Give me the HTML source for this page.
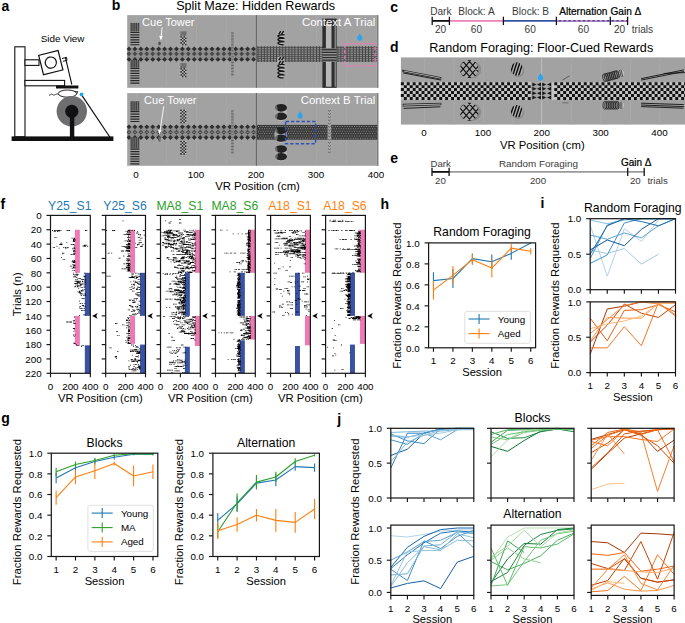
<!DOCTYPE html>
<html><head><meta charset="utf-8"><style>
html,body{margin:0;padding:0;background:#fff;}
body{width:685px;height:623px;overflow:hidden;}
svg{display:block;}
svg text{font-family:"Liberation Sans", sans-serif;}
</style></head><body>
<svg width="685" height="623" viewBox="0 0 685 623">
<rect width="685" height="623" fill="#fff"/>
<text x="1.60" y="10.60" font-size="14" text-anchor="start" fill="#000" font-weight="bold">a</text>
<text x="111.80" y="10.40" font-size="14" text-anchor="start" fill="#000" font-weight="bold">b</text>
<text x="390.20" y="12.00" font-size="14" text-anchor="start" fill="#000" font-weight="bold">c</text>
<text x="390.00" y="52.00" font-size="14" text-anchor="start" fill="#000" font-weight="bold">d</text>
<text x="390.20" y="163.30" font-size="14" text-anchor="start" fill="#000" font-weight="bold">e</text>
<text x="0.40" y="208.70" font-size="14" text-anchor="start" fill="#000" font-weight="bold">f</text>
<text x="1.20" y="423.30" font-size="14" text-anchor="start" fill="#000" font-weight="bold">g</text>
<text x="380.60" y="209.00" font-size="14" text-anchor="start" fill="#000" font-weight="bold">h</text>
<text x="540.40" y="208.30" font-size="14" text-anchor="start" fill="#000" font-weight="bold">i</text>
<text x="337.20" y="424.20" font-size="14" text-anchor="start" fill="#000" font-weight="bold">j</text>
<text x="62.60" y="41.60" font-size="9.9" text-anchor="middle" fill="#000" font-weight="normal">Side View</text>
<rect x="14.80" y="46.80" width="10.20" height="90.00" fill="#fff" stroke="#111" stroke-width="1.1"/>
<rect x="25.00" y="59.80" width="14.00" height="5.60" fill="#fff" stroke="#111" stroke-width="1.1"/>
<g transform="rotate(-14 50.8 62.6)"><rect x="40.8" y="52.6" width="20" height="20" fill="#fff" stroke="#111" stroke-width="1.2"/><circle cx="50.8" cy="62.6" r="5.6" fill="#fff" stroke="#111" stroke-width="1.2"/></g>
<path d="M62 58.5 L66.5 57.3 L67 60.3 L63 61.3" fill="none" stroke="#111" stroke-width="1"/>
<line x1="65.50" y1="57.80" x2="71.80" y2="84.50" stroke="#111" stroke-width="1.1"/>
<rect x="25.00" y="80.40" width="39.60" height="5.40" fill="#fff" stroke="#111" stroke-width="1.1"/>
<rect x="56.00" y="85.50" width="22.40" height="3.00" fill="#111"/>
<ellipse cx="67.5" cy="93.6" rx="9.2" ry="3.6" fill="#fff" stroke="#111" stroke-width="0.9"/>
<path d="M58.5 94.5 C56 92.5 55 96.5 52.5 94.5 C51 93.3 50.5 95.5 49 95.2" fill="none" stroke="#111" stroke-width="0.8"/>
<path d="M74 91.5 L78 91.8 L76.5 93.8" fill="none" stroke="#111" stroke-width="0.8"/>
<circle cx="71.8" cy="111.3" r="15.2" fill="#6e6e70"/>
<circle cx="71.8" cy="111.3" r="6.6" fill="#111"/>
<rect x="69.90" y="111.00" width="4.40" height="26.00" fill="#111"/>
<line x1="81.40" y1="94.60" x2="109.80" y2="137.00" stroke="#111" stroke-width="1.2"/>
<circle cx="81.6" cy="94.4" r="1.9" fill="#1aa6e8"/>
<rect x="11.60" y="136.40" width="101.80" height="4.60" fill="#111"/>
<text x="255.60" y="10.00" font-size="12.6" text-anchor="middle" fill="#000" font-weight="normal">Split Maze: Hidden Rewards</text>
<rect x="127.20" y="15.10" width="251.10" height="72.70" fill="#a2a2a2"/>
<rect x="136.00" y="15.10" width="0.70" height="72.70" fill="#a9a9a9"/>
<rect x="166.00" y="15.10" width="0.70" height="72.70" fill="#a9a9a9"/>
<rect x="196.00" y="15.10" width="0.70" height="72.70" fill="#a9a9a9"/>
<rect x="226.00" y="15.10" width="0.70" height="72.70" fill="#a9a9a9"/>
<rect x="256.00" y="15.10" width="0.70" height="72.70" fill="#a9a9a9"/>
<rect x="286.00" y="15.10" width="0.70" height="72.70" fill="#a9a9a9"/>
<rect x="316.00" y="15.10" width="0.70" height="72.70" fill="#a9a9a9"/>
<rect x="346.00" y="15.10" width="0.70" height="72.70" fill="#a9a9a9"/>
<rect x="376.00" y="15.10" width="0.70" height="72.70" fill="#a9a9a9"/>
<rect x="377.30" y="15.10" width="1.00" height="72.70" fill="#707070"/>
<rect x="127.20" y="48.30" width="128.80" height="11.70" fill="#8e8e8e"/>
<path fill="#2e2e2e" d="M126.60 48.90L129.00 46.50L131.40 48.90L129.00 51.30zM132.53 48.90L134.93 46.50L137.33 48.90L134.93 51.30zM138.46 48.90L140.86 46.50L143.26 48.90L140.86 51.30zM144.39 48.90L146.79 46.50L149.19 48.90L146.79 51.30zM150.32 48.90L152.72 46.50L155.12 48.90L152.72 51.30zM156.25 48.90L158.65 46.50L161.05 48.90L158.65 51.30zM162.18 48.90L164.58 46.50L166.98 48.90L164.58 51.30zM168.11 48.90L170.51 46.50L172.91 48.90L170.51 51.30zM174.04 48.90L176.44 46.50L178.84 48.90L176.44 51.30zM179.97 48.90L182.37 46.50L184.77 48.90L182.37 51.30zM185.90 48.90L188.30 46.50L190.70 48.90L188.30 51.30zM191.83 48.90L194.23 46.50L196.63 48.90L194.23 51.30zM197.76 48.90L200.16 46.50L202.56 48.90L200.16 51.30zM203.69 48.90L206.09 46.50L208.49 48.90L206.09 51.30zM209.62 48.90L212.02 46.50L214.42 48.90L212.02 51.30zM215.55 48.90L217.95 46.50L220.35 48.90L217.95 51.30zM221.48 48.90L223.88 46.50L226.28 48.90L223.88 51.30zM227.41 48.90L229.81 46.50L232.21 48.90L229.81 51.30zM233.34 48.90L235.74 46.50L238.14 48.90L235.74 51.30zM239.27 48.90L241.67 46.50L244.07 48.90L241.67 51.30zM245.20 48.90L247.60 46.50L250.00 48.90L247.60 51.30zM251.13 48.90L253.53 46.50L255.93 48.90L253.53 51.30zM126.60 59.40L129.00 57.00L131.40 59.40L129.00 61.80zM132.53 59.40L134.93 57.00L137.33 59.40L134.93 61.80zM138.46 59.40L140.86 57.00L143.26 59.40L140.86 61.80zM144.39 59.40L146.79 57.00L149.19 59.40L146.79 61.80zM150.32 59.40L152.72 57.00L155.12 59.40L152.72 61.80zM156.25 59.40L158.65 57.00L161.05 59.40L158.65 61.80zM162.18 59.40L164.58 57.00L166.98 59.40L164.58 61.80zM168.11 59.40L170.51 57.00L172.91 59.40L170.51 61.80zM174.04 59.40L176.44 57.00L178.84 59.40L176.44 61.80zM179.97 59.40L182.37 57.00L184.77 59.40L182.37 61.80zM185.90 59.40L188.30 57.00L190.70 59.40L188.30 61.80zM191.83 59.40L194.23 57.00L196.63 59.40L194.23 61.80zM197.76 59.40L200.16 57.00L202.56 59.40L200.16 61.80zM203.69 59.40L206.09 57.00L208.49 59.40L206.09 61.80zM209.62 59.40L212.02 57.00L214.42 59.40L212.02 61.80zM215.55 59.40L217.95 57.00L220.35 59.40L217.95 61.80zM221.48 59.40L223.88 57.00L226.28 59.40L223.88 61.80zM227.41 59.40L229.81 57.00L232.21 59.40L229.81 61.80zM233.34 59.40L235.74 57.00L238.14 59.40L235.74 61.80zM239.27 59.40L241.67 57.00L244.07 59.40L241.67 61.80zM245.20 59.40L247.60 57.00L250.00 59.40L247.60 61.80zM251.13 59.40L253.53 57.00L255.93 59.40L253.53 61.80z"/>
<path fill="#4a4a4a" d="M126.60 53.80L129.00 51.40L131.40 53.80L129.00 56.20zM132.53 53.80L134.93 51.40L137.33 53.80L134.93 56.20zM138.46 53.80L140.86 51.40L143.26 53.80L140.86 56.20zM144.39 53.80L146.79 51.40L149.19 53.80L146.79 56.20zM150.32 53.80L152.72 51.40L155.12 53.80L152.72 56.20zM156.25 53.80L158.65 51.40L161.05 53.80L158.65 56.20zM162.18 53.80L164.58 51.40L166.98 53.80L164.58 56.20zM168.11 53.80L170.51 51.40L172.91 53.80L170.51 56.20zM174.04 53.80L176.44 51.40L178.84 53.80L176.44 56.20zM179.97 53.80L182.37 51.40L184.77 53.80L182.37 56.20zM185.90 53.80L188.30 51.40L190.70 53.80L188.30 56.20zM191.83 53.80L194.23 51.40L196.63 53.80L194.23 56.20zM197.76 53.80L200.16 51.40L202.56 53.80L200.16 56.20zM203.69 53.80L206.09 51.40L208.49 53.80L206.09 56.20zM209.62 53.80L212.02 51.40L214.42 53.80L212.02 56.20zM215.55 53.80L217.95 51.40L220.35 53.80L217.95 56.20zM221.48 53.80L223.88 51.40L226.28 53.80L223.88 56.20zM227.41 53.80L229.81 51.40L232.21 53.80L229.81 56.20zM233.34 53.80L235.74 51.40L238.14 53.80L235.74 56.20zM239.27 53.80L241.67 51.40L244.07 53.80L241.67 56.20zM245.20 53.80L247.60 51.40L250.00 53.80L247.60 56.20zM251.13 53.80L253.53 51.40L255.93 53.80L253.53 56.20z"/>
<rect x="256.80" y="46.30" width="120.50" height="15.60" fill="#8c8c8c"/>
<path fill="#3c3c3c" d="M257.60 46.30h0.9v15.60h-0.9zM260.90 46.30h0.9v15.60h-0.9zM263.85 46.30h0.9v15.60h-0.9zM266.80 46.30h0.9v15.60h-0.9zM270.10 46.30h0.9v15.60h-0.9zM273.05 46.30h0.9v15.60h-0.9zM276.00 46.30h0.9v15.60h-0.9zM279.30 46.30h0.9v15.60h-0.9zM282.25 46.30h0.9v15.60h-0.9zM285.20 46.30h0.9v15.60h-0.9zM288.50 46.30h0.9v15.60h-0.9zM291.45 46.30h0.9v15.60h-0.9zM294.40 46.30h0.9v15.60h-0.9zM297.70 46.30h0.9v15.60h-0.9zM300.65 46.30h0.9v15.60h-0.9zM303.60 46.30h0.9v15.60h-0.9zM306.90 46.30h0.9v15.60h-0.9zM309.85 46.30h0.9v15.60h-0.9zM312.80 46.30h0.9v15.60h-0.9zM316.10 46.30h0.9v15.60h-0.9zM319.05 46.30h0.9v15.60h-0.9zM322.00 46.30h0.9v15.60h-0.9zM325.30 46.30h0.9v15.60h-0.9zM328.25 46.30h0.9v15.60h-0.9zM331.20 46.30h0.9v15.60h-0.9zM334.50 46.30h0.9v15.60h-0.9zM337.45 46.30h0.9v15.60h-0.9zM340.40 46.30h0.9v15.60h-0.9zM343.70 46.30h0.9v15.60h-0.9zM346.65 46.30h0.9v15.60h-0.9zM349.60 46.30h0.9v15.60h-0.9zM352.90 46.30h0.9v15.60h-0.9zM355.85 46.30h0.9v15.60h-0.9zM358.80 46.30h0.9v15.60h-0.9zM362.10 46.30h0.9v15.60h-0.9zM365.05 46.30h0.9v15.60h-0.9zM368.00 46.30h0.9v15.60h-0.9zM371.30 46.30h0.9v15.60h-0.9zM374.25 46.30h0.9v15.60h-0.9z"/>
<path fill="#4a4a4a" d="M256.8 47.30h120.50v0.75h-120.50zM256.8 49.50h120.50v0.75h-120.50zM256.8 51.70h120.50v0.75h-120.50zM256.8 53.90h120.50v0.75h-120.50zM256.8 56.10h120.50v0.75h-120.50zM256.8 58.30h120.50v0.75h-120.50zM256.8 60.50h120.50v0.75h-120.50z"/>
<rect x="255.90" y="15.10" width="0.90" height="72.70" fill="#5a5a5a"/>
<rect x="130.40" y="22.90" width="9.00" height="8.60" fill="#6f6f6f"/>
<path fill="#3a3a3a" d="M130.80 22.90h0.8v8.60h-0.8zM132.60 22.90h0.8v8.60h-0.8zM134.40 22.90h0.8v8.60h-0.8zM136.20 22.90h0.8v8.60h-0.8zM138.00 22.90h0.8v8.60h-0.8z"/>
<path fill="#262626" d="M130.4 31.90h9.0v1.2h-9.0zM130.4 34.35h9.0v1.2h-9.0zM130.4 36.80h9.0v1.2h-9.0zM130.4 39.25h9.0v1.2h-9.0zM130.4 41.70h9.0v1.2h-9.0zM130.4 44.15h9.0v1.2h-9.0z"/>
<rect x="130.40" y="60.00" width="9.00" height="7.40" fill="#6f6f6f"/>
<path fill="#3a3a3a" d="M130.80 60.00h0.8v7.40h-0.8zM132.60 60.00h0.8v7.40h-0.8zM134.40 60.00h0.8v7.40h-0.8zM136.20 60.00h0.8v7.40h-0.8zM138.00 60.00h0.8v7.40h-0.8z"/>
<path fill="#262626" d="M130.4 67.80h9.0v1.2h-9.0zM130.4 70.25h9.0v1.2h-9.0zM130.4 72.70h9.0v1.2h-9.0zM130.4 75.15h9.0v1.2h-9.0zM130.4 77.60h9.0v1.2h-9.0zM130.4 80.05h9.0v1.2h-9.0zM130.4 82.50h9.0v1.2h-9.0z"/>
<rect x="180.40" y="31.30" width="6.10" height="4.60" fill="#707070"/>
<rect x="180.40" y="35.90" width="6.10" height="9.30" fill="#bdbdbd"/>
<path fill="#2a2a2a" d="M180.40 35.90h1.55v1.55h-1.55zM183.50 35.90h1.55v1.55h-1.55zM181.95 37.45h1.55v1.55h-1.55zM185.05 37.45h1.45v1.55h-1.45zM180.40 39.00h1.55v1.55h-1.55zM183.50 39.00h1.55v1.55h-1.55zM181.95 40.55h1.55v1.55h-1.55zM185.05 40.55h1.45v1.55h-1.45zM180.40 42.10h1.55v1.55h-1.55zM183.50 42.10h1.55v1.55h-1.55zM181.95 43.65h1.55v1.55h-1.55zM185.05 43.65h1.45v1.55h-1.45z"/>
<rect x="180.40" y="63.10" width="6.10" height="4.90" fill="#707070"/>
<rect x="180.40" y="68.00" width="6.10" height="9.30" fill="#bdbdbd"/>
<path fill="#2a2a2a" d="M180.40 68.00h1.55v1.55h-1.55zM183.50 68.00h1.55v1.55h-1.55zM181.95 69.55h1.55v1.55h-1.55zM185.05 69.55h1.45v1.55h-1.45zM180.40 71.10h1.55v1.55h-1.55zM183.50 71.10h1.55v1.55h-1.55zM181.95 72.65h1.55v1.55h-1.55zM185.05 72.65h1.45v1.55h-1.45zM180.40 74.20h1.55v1.55h-1.55zM183.50 74.20h1.55v1.55h-1.55zM181.95 75.75h1.55v1.55h-1.55zM185.05 75.75h1.45v1.55h-1.45z"/>
<rect x="231.20" y="32.10" width="2.40" height="44.00" fill="#8c8c8c"/>
<path fill="#666" d="M231.2 32.60h2.4v0.9h-2.4zM231.2 35.55h2.4v0.9h-2.4zM231.2 38.50h2.4v0.9h-2.4zM231.2 41.45h2.4v0.9h-2.4zM231.2 44.40h2.4v0.9h-2.4zM231.2 47.35h2.4v0.9h-2.4zM231.2 50.30h2.4v0.9h-2.4zM231.2 53.25h2.4v0.9h-2.4zM231.2 56.20h2.4v0.9h-2.4zM231.2 59.15h2.4v0.9h-2.4zM231.2 62.10h2.4v0.9h-2.4zM231.2 65.05h2.4v0.9h-2.4zM231.2 68.00h2.4v0.9h-2.4zM231.2 70.95h2.4v0.9h-2.4zM231.2 73.90h2.4v0.9h-2.4z"/>
<rect x="158.30" y="41.70" width="2.40" height="3.60" fill="#505050" rx="1"/>
<rect x="277.40" y="30.50" width="7.00" height="15.20" fill="#b8b8b8" rx="3.2"/>
<path fill="none" stroke="#141414" stroke-width="1.5" d="M278.8 34.10L280.8 31.10M281.6 34.10L283.6 31.10"/>
<path fill="none" stroke="#141414" stroke-width="1.4" d="M284.6 34.90C276.2 34.10 275.6 37.60 283.6 37.70M284.6 38.40C276.2 37.60 275.6 41.10 283.6 41.20M284.6 41.90C276.2 41.10 275.6 44.60 283.6 44.70"/>
<rect x="277.40" y="56.60" width="7.00" height="21.40" fill="#b8b8b8" rx="3.2"/>
<path fill="none" stroke="#141414" stroke-width="1.5" d="M278.8 60.20L280.8 57.20M281.6 60.20L283.6 57.20M278.8 63.80L280.8 60.80M281.6 63.80L283.6 60.80"/>
<path fill="none" stroke="#141414" stroke-width="1.4" d="M284.6 64.60C276.2 63.80 275.6 67.30 283.6 67.40M284.6 68.10C276.2 67.30 275.6 70.80 283.6 70.90M284.6 71.60C276.2 70.80 275.6 74.30 283.6 74.40M284.6 75.10C276.2 74.30 275.6 77.80 283.6 77.90"/>
<rect x="322.40" y="18.60" width="14.20" height="69.20" fill="#2e2e2e"/>
<rect x="325.90" y="23.90" width="5.60" height="24.50" fill="#b8b8b8"/>
<rect x="325.90" y="61.70" width="5.60" height="25.00" fill="#b8b8b8"/>
<rect x="334.60" y="23.90" width="1.20" height="24.50" fill="#9a9a9a"/>
<rect x="334.60" y="61.70" width="1.20" height="25.00" fill="#9a9a9a"/>
<rect x="322.40" y="48.40" width="14.20" height="13.30" fill="#9a9a9a"/>
<rect x="322.40" y="49.10" width="14.20" height="1.30" fill="#2a2a2a"/>
<rect x="322.40" y="51.70" width="14.20" height="1.30" fill="#2a2a2a"/>
<rect x="322.40" y="54.30" width="14.20" height="1.30" fill="#2a2a2a"/>
<rect x="322.40" y="56.90" width="14.20" height="1.30" fill="#2a2a2a"/>
<rect x="322.40" y="59.50" width="14.20" height="1.30" fill="#2a2a2a"/>
<rect x="344.8" y="43.50" width="30.2" height="22.4" fill="none" stroke="#f07ab8" stroke-width="1.25" stroke-dasharray="3.7 1.9"/>
<path d="M359.8 33.40 Q357.0 37.00 357.2 38.30 Q357.6 40.80 359.8 40.80 Q362.0 40.80 362.4 38.30 Q362.6 37.00 359.8 33.40Z" fill="#2aa4ec"/>
<text x="168.30" y="25.90" font-size="11.0" text-anchor="middle" fill="#fff" font-weight="normal">Cue Tower</text>
<line x1="162.10" y1="27.40" x2="161.00" y2="38.60" stroke="#fff" stroke-width="0.9"/>
<polygon points="159.20,35.70 162.80,35.90 160.90,40.50" fill="#fff"/>
<text x="375.40" y="25.70" font-size="11.4" text-anchor="end" fill="#fff" font-weight="normal">Context A Trial</text>
<rect x="127.20" y="93.10" width="251.10" height="72.70" fill="#a2a2a2"/>
<rect x="136.00" y="93.10" width="0.70" height="72.70" fill="#a9a9a9"/>
<rect x="166.00" y="93.10" width="0.70" height="72.70" fill="#a9a9a9"/>
<rect x="196.00" y="93.10" width="0.70" height="72.70" fill="#a9a9a9"/>
<rect x="226.00" y="93.10" width="0.70" height="72.70" fill="#a9a9a9"/>
<rect x="256.00" y="93.10" width="0.70" height="72.70" fill="#a9a9a9"/>
<rect x="286.00" y="93.10" width="0.70" height="72.70" fill="#a9a9a9"/>
<rect x="316.00" y="93.10" width="0.70" height="72.70" fill="#a9a9a9"/>
<rect x="346.00" y="93.10" width="0.70" height="72.70" fill="#a9a9a9"/>
<rect x="376.00" y="93.10" width="0.70" height="72.70" fill="#a9a9a9"/>
<rect x="377.30" y="93.10" width="1.00" height="72.70" fill="#707070"/>
<rect x="127.20" y="126.20" width="128.80" height="11.90" fill="#8e8e8e"/>
<path fill="#2e2e2e" d="M126.60 126.80L129.00 124.40L131.40 126.80L129.00 129.20zM132.53 126.80L134.93 124.40L137.33 126.80L134.93 129.20zM138.46 126.80L140.86 124.40L143.26 126.80L140.86 129.20zM144.39 126.80L146.79 124.40L149.19 126.80L146.79 129.20zM150.32 126.80L152.72 124.40L155.12 126.80L152.72 129.20zM156.25 126.80L158.65 124.40L161.05 126.80L158.65 129.20zM162.18 126.80L164.58 124.40L166.98 126.80L164.58 129.20zM168.11 126.80L170.51 124.40L172.91 126.80L170.51 129.20zM174.04 126.80L176.44 124.40L178.84 126.80L176.44 129.20zM179.97 126.80L182.37 124.40L184.77 126.80L182.37 129.20zM185.90 126.80L188.30 124.40L190.70 126.80L188.30 129.20zM191.83 126.80L194.23 124.40L196.63 126.80L194.23 129.20zM197.76 126.80L200.16 124.40L202.56 126.80L200.16 129.20zM203.69 126.80L206.09 124.40L208.49 126.80L206.09 129.20zM209.62 126.80L212.02 124.40L214.42 126.80L212.02 129.20zM215.55 126.80L217.95 124.40L220.35 126.80L217.95 129.20zM221.48 126.80L223.88 124.40L226.28 126.80L223.88 129.20zM227.41 126.80L229.81 124.40L232.21 126.80L229.81 129.20zM233.34 126.80L235.74 124.40L238.14 126.80L235.74 129.20zM239.27 126.80L241.67 124.40L244.07 126.80L241.67 129.20zM245.20 126.80L247.60 124.40L250.00 126.80L247.60 129.20zM251.13 126.80L253.53 124.40L255.93 126.80L253.53 129.20zM126.60 137.50L129.00 135.10L131.40 137.50L129.00 139.90zM132.53 137.50L134.93 135.10L137.33 137.50L134.93 139.90zM138.46 137.50L140.86 135.10L143.26 137.50L140.86 139.90zM144.39 137.50L146.79 135.10L149.19 137.50L146.79 139.90zM150.32 137.50L152.72 135.10L155.12 137.50L152.72 139.90zM156.25 137.50L158.65 135.10L161.05 137.50L158.65 139.90zM162.18 137.50L164.58 135.10L166.98 137.50L164.58 139.90zM168.11 137.50L170.51 135.10L172.91 137.50L170.51 139.90zM174.04 137.50L176.44 135.10L178.84 137.50L176.44 139.90zM179.97 137.50L182.37 135.10L184.77 137.50L182.37 139.90zM185.90 137.50L188.30 135.10L190.70 137.50L188.30 139.90zM191.83 137.50L194.23 135.10L196.63 137.50L194.23 139.90zM197.76 137.50L200.16 135.10L202.56 137.50L200.16 139.90zM203.69 137.50L206.09 135.10L208.49 137.50L206.09 139.90zM209.62 137.50L212.02 135.10L214.42 137.50L212.02 139.90zM215.55 137.50L217.95 135.10L220.35 137.50L217.95 139.90zM221.48 137.50L223.88 135.10L226.28 137.50L223.88 139.90zM227.41 137.50L229.81 135.10L232.21 137.50L229.81 139.90zM233.34 137.50L235.74 135.10L238.14 137.50L235.74 139.90zM239.27 137.50L241.67 135.10L244.07 137.50L241.67 139.90zM245.20 137.50L247.60 135.10L250.00 137.50L247.60 139.90zM251.13 137.50L253.53 135.10L255.93 137.50L253.53 139.90z"/>
<path fill="#3a3a3a" d="M126.60 132.20L129.00 129.80L131.40 132.20L129.00 134.60zM132.53 132.20L134.93 129.80L137.33 132.20L134.93 134.60zM138.46 132.20L140.86 129.80L143.26 132.20L140.86 134.60zM144.39 132.20L146.79 129.80L149.19 132.20L146.79 134.60zM150.32 132.20L152.72 129.80L155.12 132.20L152.72 134.60zM156.25 132.20L158.65 129.80L161.05 132.20L158.65 134.60zM162.18 132.20L164.58 129.80L166.98 132.20L164.58 134.60zM168.11 132.20L170.51 129.80L172.91 132.20L170.51 134.60zM174.04 132.20L176.44 129.80L178.84 132.20L176.44 134.60zM179.97 132.20L182.37 129.80L184.77 132.20L182.37 134.60zM185.90 132.20L188.30 129.80L190.70 132.20L188.30 134.60zM191.83 132.20L194.23 129.80L196.63 132.20L194.23 134.60zM197.76 132.20L200.16 129.80L202.56 132.20L200.16 134.60zM203.69 132.20L206.09 129.80L208.49 132.20L206.09 134.60zM209.62 132.20L212.02 129.80L214.42 132.20L212.02 134.60zM215.55 132.20L217.95 129.80L220.35 132.20L217.95 134.60zM221.48 132.20L223.88 129.80L226.28 132.20L223.88 134.60zM227.41 132.20L229.81 129.80L232.21 132.20L229.81 134.60zM233.34 132.20L235.74 129.80L238.14 132.20L235.74 134.60zM239.27 132.20L241.67 129.80L244.07 132.20L241.67 134.60zM245.20 132.20L247.60 129.80L250.00 132.20L247.60 134.60zM251.13 132.20L253.53 129.80L255.93 132.20L253.53 134.60z"/>
<path fill="#bdbdbd" d="M127.80 131.85h2.4v0.7h-2.4zM133.73 131.85h2.4v0.7h-2.4zM139.66 131.85h2.4v0.7h-2.4zM145.59 131.85h2.4v0.7h-2.4zM151.52 131.85h2.4v0.7h-2.4zM157.45 131.85h2.4v0.7h-2.4zM163.38 131.85h2.4v0.7h-2.4zM169.31 131.85h2.4v0.7h-2.4zM175.24 131.85h2.4v0.7h-2.4zM181.17 131.85h2.4v0.7h-2.4zM187.10 131.85h2.4v0.7h-2.4zM193.03 131.85h2.4v0.7h-2.4zM198.96 131.85h2.4v0.7h-2.4zM204.89 131.85h2.4v0.7h-2.4zM210.82 131.85h2.4v0.7h-2.4zM216.75 131.85h2.4v0.7h-2.4zM222.68 131.85h2.4v0.7h-2.4zM228.61 131.85h2.4v0.7h-2.4zM234.54 131.85h2.4v0.7h-2.4zM240.47 131.85h2.4v0.7h-2.4zM246.40 131.85h2.4v0.7h-2.4zM252.33 131.85h2.4v0.7h-2.4z"/>
<rect x="256.80" y="124.90" width="120.50" height="14.80" fill="#3a3a3a"/>
<path fill="#8a8a8a" d="M258.00 126.00h1.0v1.0h-1.0zM260.40 126.00h1.0v1.0h-1.0zM262.80 126.00h1.0v1.0h-1.0zM265.20 126.00h1.0v1.0h-1.0zM267.60 126.00h1.0v1.0h-1.0zM270.00 126.00h1.0v1.0h-1.0zM272.40 126.00h1.0v1.0h-1.0zM274.80 126.00h1.0v1.0h-1.0zM277.20 126.00h1.0v1.0h-1.0zM279.60 126.00h1.0v1.0h-1.0zM282.00 126.00h1.0v1.0h-1.0zM284.40 126.00h1.0v1.0h-1.0zM286.80 126.00h1.0v1.0h-1.0zM289.20 126.00h1.0v1.0h-1.0zM291.60 126.00h1.0v1.0h-1.0zM294.00 126.00h1.0v1.0h-1.0zM296.40 126.00h1.0v1.0h-1.0zM298.80 126.00h1.0v1.0h-1.0zM301.20 126.00h1.0v1.0h-1.0zM303.60 126.00h1.0v1.0h-1.0zM306.00 126.00h1.0v1.0h-1.0zM308.40 126.00h1.0v1.0h-1.0zM310.80 126.00h1.0v1.0h-1.0zM313.20 126.00h1.0v1.0h-1.0zM315.60 126.00h1.0v1.0h-1.0zM318.00 126.00h1.0v1.0h-1.0zM320.40 126.00h1.0v1.0h-1.0zM322.80 126.00h1.0v1.0h-1.0zM325.20 126.00h1.0v1.0h-1.0zM327.60 126.00h1.0v1.0h-1.0zM330.00 126.00h1.0v1.0h-1.0zM332.40 126.00h1.0v1.0h-1.0zM334.80 126.00h1.0v1.0h-1.0zM337.20 126.00h1.0v1.0h-1.0zM339.60 126.00h1.0v1.0h-1.0zM342.00 126.00h1.0v1.0h-1.0zM344.40 126.00h1.0v1.0h-1.0zM346.80 126.00h1.0v1.0h-1.0zM349.20 126.00h1.0v1.0h-1.0zM351.60 126.00h1.0v1.0h-1.0zM354.00 126.00h1.0v1.0h-1.0zM356.40 126.00h1.0v1.0h-1.0zM358.80 126.00h1.0v1.0h-1.0zM361.20 126.00h1.0v1.0h-1.0zM363.60 126.00h1.0v1.0h-1.0zM366.00 126.00h1.0v1.0h-1.0zM368.40 126.00h1.0v1.0h-1.0zM370.80 126.00h1.0v1.0h-1.0zM373.20 126.00h1.0v1.0h-1.0zM375.60 126.00h1.0v1.0h-1.0zM259.20 128.35h1.0v1.0h-1.0zM261.60 128.35h1.0v1.0h-1.0zM264.00 128.35h1.0v1.0h-1.0zM266.40 128.35h1.0v1.0h-1.0zM268.80 128.35h1.0v1.0h-1.0zM271.20 128.35h1.0v1.0h-1.0zM273.60 128.35h1.0v1.0h-1.0zM276.00 128.35h1.0v1.0h-1.0zM278.40 128.35h1.0v1.0h-1.0zM280.80 128.35h1.0v1.0h-1.0zM283.20 128.35h1.0v1.0h-1.0zM285.60 128.35h1.0v1.0h-1.0zM288.00 128.35h1.0v1.0h-1.0zM290.40 128.35h1.0v1.0h-1.0zM292.80 128.35h1.0v1.0h-1.0zM295.20 128.35h1.0v1.0h-1.0zM297.60 128.35h1.0v1.0h-1.0zM300.00 128.35h1.0v1.0h-1.0zM302.40 128.35h1.0v1.0h-1.0zM304.80 128.35h1.0v1.0h-1.0zM307.20 128.35h1.0v1.0h-1.0zM309.60 128.35h1.0v1.0h-1.0zM312.00 128.35h1.0v1.0h-1.0zM314.40 128.35h1.0v1.0h-1.0zM316.80 128.35h1.0v1.0h-1.0zM319.20 128.35h1.0v1.0h-1.0zM321.60 128.35h1.0v1.0h-1.0zM324.00 128.35h1.0v1.0h-1.0zM326.40 128.35h1.0v1.0h-1.0zM328.80 128.35h1.0v1.0h-1.0zM331.20 128.35h1.0v1.0h-1.0zM333.60 128.35h1.0v1.0h-1.0zM336.00 128.35h1.0v1.0h-1.0zM338.40 128.35h1.0v1.0h-1.0zM340.80 128.35h1.0v1.0h-1.0zM343.20 128.35h1.0v1.0h-1.0zM345.60 128.35h1.0v1.0h-1.0zM348.00 128.35h1.0v1.0h-1.0zM350.40 128.35h1.0v1.0h-1.0zM352.80 128.35h1.0v1.0h-1.0zM355.20 128.35h1.0v1.0h-1.0zM357.60 128.35h1.0v1.0h-1.0zM360.00 128.35h1.0v1.0h-1.0zM362.40 128.35h1.0v1.0h-1.0zM364.80 128.35h1.0v1.0h-1.0zM367.20 128.35h1.0v1.0h-1.0zM369.60 128.35h1.0v1.0h-1.0zM372.00 128.35h1.0v1.0h-1.0zM374.40 128.35h1.0v1.0h-1.0zM258.00 130.70h1.0v1.0h-1.0zM260.40 130.70h1.0v1.0h-1.0zM262.80 130.70h1.0v1.0h-1.0zM265.20 130.70h1.0v1.0h-1.0zM267.60 130.70h1.0v1.0h-1.0zM270.00 130.70h1.0v1.0h-1.0zM272.40 130.70h1.0v1.0h-1.0zM274.80 130.70h1.0v1.0h-1.0zM277.20 130.70h1.0v1.0h-1.0zM279.60 130.70h1.0v1.0h-1.0zM282.00 130.70h1.0v1.0h-1.0zM284.40 130.70h1.0v1.0h-1.0zM286.80 130.70h1.0v1.0h-1.0zM289.20 130.70h1.0v1.0h-1.0zM291.60 130.70h1.0v1.0h-1.0zM294.00 130.70h1.0v1.0h-1.0zM296.40 130.70h1.0v1.0h-1.0zM298.80 130.70h1.0v1.0h-1.0zM301.20 130.70h1.0v1.0h-1.0zM303.60 130.70h1.0v1.0h-1.0zM306.00 130.70h1.0v1.0h-1.0zM308.40 130.70h1.0v1.0h-1.0zM310.80 130.70h1.0v1.0h-1.0zM313.20 130.70h1.0v1.0h-1.0zM315.60 130.70h1.0v1.0h-1.0zM318.00 130.70h1.0v1.0h-1.0zM320.40 130.70h1.0v1.0h-1.0zM322.80 130.70h1.0v1.0h-1.0zM325.20 130.70h1.0v1.0h-1.0zM327.60 130.70h1.0v1.0h-1.0zM330.00 130.70h1.0v1.0h-1.0zM332.40 130.70h1.0v1.0h-1.0zM334.80 130.70h1.0v1.0h-1.0zM337.20 130.70h1.0v1.0h-1.0zM339.60 130.70h1.0v1.0h-1.0zM342.00 130.70h1.0v1.0h-1.0zM344.40 130.70h1.0v1.0h-1.0zM346.80 130.70h1.0v1.0h-1.0zM349.20 130.70h1.0v1.0h-1.0zM351.60 130.70h1.0v1.0h-1.0zM354.00 130.70h1.0v1.0h-1.0zM356.40 130.70h1.0v1.0h-1.0zM358.80 130.70h1.0v1.0h-1.0zM361.20 130.70h1.0v1.0h-1.0zM363.60 130.70h1.0v1.0h-1.0zM366.00 130.70h1.0v1.0h-1.0zM368.40 130.70h1.0v1.0h-1.0zM370.80 130.70h1.0v1.0h-1.0zM373.20 130.70h1.0v1.0h-1.0zM375.60 130.70h1.0v1.0h-1.0zM259.20 133.05h1.0v1.0h-1.0zM261.60 133.05h1.0v1.0h-1.0zM264.00 133.05h1.0v1.0h-1.0zM266.40 133.05h1.0v1.0h-1.0zM268.80 133.05h1.0v1.0h-1.0zM271.20 133.05h1.0v1.0h-1.0zM273.60 133.05h1.0v1.0h-1.0zM276.00 133.05h1.0v1.0h-1.0zM278.40 133.05h1.0v1.0h-1.0zM280.80 133.05h1.0v1.0h-1.0zM283.20 133.05h1.0v1.0h-1.0zM285.60 133.05h1.0v1.0h-1.0zM288.00 133.05h1.0v1.0h-1.0zM290.40 133.05h1.0v1.0h-1.0zM292.80 133.05h1.0v1.0h-1.0zM295.20 133.05h1.0v1.0h-1.0zM297.60 133.05h1.0v1.0h-1.0zM300.00 133.05h1.0v1.0h-1.0zM302.40 133.05h1.0v1.0h-1.0zM304.80 133.05h1.0v1.0h-1.0zM307.20 133.05h1.0v1.0h-1.0zM309.60 133.05h1.0v1.0h-1.0zM312.00 133.05h1.0v1.0h-1.0zM314.40 133.05h1.0v1.0h-1.0zM316.80 133.05h1.0v1.0h-1.0zM319.20 133.05h1.0v1.0h-1.0zM321.60 133.05h1.0v1.0h-1.0zM324.00 133.05h1.0v1.0h-1.0zM326.40 133.05h1.0v1.0h-1.0zM328.80 133.05h1.0v1.0h-1.0zM331.20 133.05h1.0v1.0h-1.0zM333.60 133.05h1.0v1.0h-1.0zM336.00 133.05h1.0v1.0h-1.0zM338.40 133.05h1.0v1.0h-1.0zM340.80 133.05h1.0v1.0h-1.0zM343.20 133.05h1.0v1.0h-1.0zM345.60 133.05h1.0v1.0h-1.0zM348.00 133.05h1.0v1.0h-1.0zM350.40 133.05h1.0v1.0h-1.0zM352.80 133.05h1.0v1.0h-1.0zM355.20 133.05h1.0v1.0h-1.0zM357.60 133.05h1.0v1.0h-1.0zM360.00 133.05h1.0v1.0h-1.0zM362.40 133.05h1.0v1.0h-1.0zM364.80 133.05h1.0v1.0h-1.0zM367.20 133.05h1.0v1.0h-1.0zM369.60 133.05h1.0v1.0h-1.0zM372.00 133.05h1.0v1.0h-1.0zM374.40 133.05h1.0v1.0h-1.0zM258.00 135.40h1.0v1.0h-1.0zM260.40 135.40h1.0v1.0h-1.0zM262.80 135.40h1.0v1.0h-1.0zM265.20 135.40h1.0v1.0h-1.0zM267.60 135.40h1.0v1.0h-1.0zM270.00 135.40h1.0v1.0h-1.0zM272.40 135.40h1.0v1.0h-1.0zM274.80 135.40h1.0v1.0h-1.0zM277.20 135.40h1.0v1.0h-1.0zM279.60 135.40h1.0v1.0h-1.0zM282.00 135.40h1.0v1.0h-1.0zM284.40 135.40h1.0v1.0h-1.0zM286.80 135.40h1.0v1.0h-1.0zM289.20 135.40h1.0v1.0h-1.0zM291.60 135.40h1.0v1.0h-1.0zM294.00 135.40h1.0v1.0h-1.0zM296.40 135.40h1.0v1.0h-1.0zM298.80 135.40h1.0v1.0h-1.0zM301.20 135.40h1.0v1.0h-1.0zM303.60 135.40h1.0v1.0h-1.0zM306.00 135.40h1.0v1.0h-1.0zM308.40 135.40h1.0v1.0h-1.0zM310.80 135.40h1.0v1.0h-1.0zM313.20 135.40h1.0v1.0h-1.0zM315.60 135.40h1.0v1.0h-1.0zM318.00 135.40h1.0v1.0h-1.0zM320.40 135.40h1.0v1.0h-1.0zM322.80 135.40h1.0v1.0h-1.0zM325.20 135.40h1.0v1.0h-1.0zM327.60 135.40h1.0v1.0h-1.0zM330.00 135.40h1.0v1.0h-1.0zM332.40 135.40h1.0v1.0h-1.0zM334.80 135.40h1.0v1.0h-1.0zM337.20 135.40h1.0v1.0h-1.0zM339.60 135.40h1.0v1.0h-1.0zM342.00 135.40h1.0v1.0h-1.0zM344.40 135.40h1.0v1.0h-1.0zM346.80 135.40h1.0v1.0h-1.0zM349.20 135.40h1.0v1.0h-1.0zM351.60 135.40h1.0v1.0h-1.0zM354.00 135.40h1.0v1.0h-1.0zM356.40 135.40h1.0v1.0h-1.0zM358.80 135.40h1.0v1.0h-1.0zM361.20 135.40h1.0v1.0h-1.0zM363.60 135.40h1.0v1.0h-1.0zM366.00 135.40h1.0v1.0h-1.0zM368.40 135.40h1.0v1.0h-1.0zM370.80 135.40h1.0v1.0h-1.0zM373.20 135.40h1.0v1.0h-1.0zM375.60 135.40h1.0v1.0h-1.0zM259.20 137.75h1.0v1.0h-1.0zM261.60 137.75h1.0v1.0h-1.0zM264.00 137.75h1.0v1.0h-1.0zM266.40 137.75h1.0v1.0h-1.0zM268.80 137.75h1.0v1.0h-1.0zM271.20 137.75h1.0v1.0h-1.0zM273.60 137.75h1.0v1.0h-1.0zM276.00 137.75h1.0v1.0h-1.0zM278.40 137.75h1.0v1.0h-1.0zM280.80 137.75h1.0v1.0h-1.0zM283.20 137.75h1.0v1.0h-1.0zM285.60 137.75h1.0v1.0h-1.0zM288.00 137.75h1.0v1.0h-1.0zM290.40 137.75h1.0v1.0h-1.0zM292.80 137.75h1.0v1.0h-1.0zM295.20 137.75h1.0v1.0h-1.0zM297.60 137.75h1.0v1.0h-1.0zM300.00 137.75h1.0v1.0h-1.0zM302.40 137.75h1.0v1.0h-1.0zM304.80 137.75h1.0v1.0h-1.0zM307.20 137.75h1.0v1.0h-1.0zM309.60 137.75h1.0v1.0h-1.0zM312.00 137.75h1.0v1.0h-1.0zM314.40 137.75h1.0v1.0h-1.0zM316.80 137.75h1.0v1.0h-1.0zM319.20 137.75h1.0v1.0h-1.0zM321.60 137.75h1.0v1.0h-1.0zM324.00 137.75h1.0v1.0h-1.0zM326.40 137.75h1.0v1.0h-1.0zM328.80 137.75h1.0v1.0h-1.0zM331.20 137.75h1.0v1.0h-1.0zM333.60 137.75h1.0v1.0h-1.0zM336.00 137.75h1.0v1.0h-1.0zM338.40 137.75h1.0v1.0h-1.0zM340.80 137.75h1.0v1.0h-1.0zM343.20 137.75h1.0v1.0h-1.0zM345.60 137.75h1.0v1.0h-1.0zM348.00 137.75h1.0v1.0h-1.0zM350.40 137.75h1.0v1.0h-1.0zM352.80 137.75h1.0v1.0h-1.0zM355.20 137.75h1.0v1.0h-1.0zM357.60 137.75h1.0v1.0h-1.0zM360.00 137.75h1.0v1.0h-1.0zM362.40 137.75h1.0v1.0h-1.0zM364.80 137.75h1.0v1.0h-1.0zM367.20 137.75h1.0v1.0h-1.0zM369.60 137.75h1.0v1.0h-1.0zM372.00 137.75h1.0v1.0h-1.0zM374.40 137.75h1.0v1.0h-1.0z"/>
<rect x="255.90" y="93.10" width="0.90" height="72.70" fill="#5a5a5a"/>
<rect x="130.40" y="101.30" width="9.00" height="9.40" fill="#6f6f6f"/>
<path fill="#3a3a3a" d="M130.80 101.30h0.8v9.40h-0.8zM132.60 101.30h0.8v9.40h-0.8zM134.40 101.30h0.8v9.40h-0.8zM136.20 101.30h0.8v9.40h-0.8zM138.00 101.30h0.8v9.40h-0.8z"/>
<path fill="#262626" d="M130.4 111.10h9.0v1.2h-9.0zM130.4 113.55h9.0v1.2h-9.0zM130.4 116.00h9.0v1.2h-9.0zM130.4 118.45h9.0v1.2h-9.0zM130.4 120.90h9.0v1.2h-9.0z"/>
<rect x="130.40" y="137.60" width="9.00" height="10.60" fill="#6f6f6f"/>
<path fill="#3a3a3a" d="M130.80 137.60h0.8v10.60h-0.8zM132.60 137.60h0.8v10.60h-0.8zM134.40 137.60h0.8v10.60h-0.8zM136.20 137.60h0.8v10.60h-0.8zM138.00 137.60h0.8v10.60h-0.8z"/>
<path fill="#262626" d="M130.4 148.60h9.0v1.2h-9.0zM130.4 151.05h9.0v1.2h-9.0zM130.4 153.50h9.0v1.2h-9.0zM130.4 155.95h9.0v1.2h-9.0zM130.4 158.40h9.0v1.2h-9.0zM130.4 160.85h9.0v1.2h-9.0zM130.4 163.30h9.0v1.2h-9.0z"/>
<rect x="180.20" y="109.40" width="6.20" height="14.20" fill="#bdbdbd"/>
<path fill="#2a2a2a" d="M180.20 109.40h1.55v1.55h-1.55zM183.30 109.40h1.55v1.55h-1.55zM181.75 110.95h1.55v1.55h-1.55zM184.85 110.95h1.55v1.55h-1.55zM180.20 112.50h1.55v1.55h-1.55zM183.30 112.50h1.55v1.55h-1.55zM181.75 114.05h1.55v1.55h-1.55zM184.85 114.05h1.55v1.55h-1.55zM180.20 115.60h1.55v1.55h-1.55zM183.30 115.60h1.55v1.55h-1.55zM181.75 117.15h1.55v1.55h-1.55zM184.85 117.15h1.55v1.55h-1.55zM180.20 118.70h1.55v1.55h-1.55zM183.30 118.70h1.55v1.55h-1.55zM181.75 120.25h1.55v1.55h-1.55zM184.85 120.25h1.55v1.55h-1.55zM180.20 121.80h1.55v1.55h-1.55zM183.30 121.80h1.55v1.55h-1.55zM181.75 123.35h1.55v0.25h-1.55zM184.85 123.35h1.55v0.25h-1.55z"/>
<rect x="180.20" y="140.70" width="6.20" height="14.40" fill="#bdbdbd"/>
<path fill="#2a2a2a" d="M180.20 140.70h1.55v1.55h-1.55zM183.30 140.70h1.55v1.55h-1.55zM181.75 142.25h1.55v1.55h-1.55zM184.85 142.25h1.55v1.55h-1.55zM180.20 143.80h1.55v1.55h-1.55zM183.30 143.80h1.55v1.55h-1.55zM181.75 145.35h1.55v1.55h-1.55zM184.85 145.35h1.55v1.55h-1.55zM180.20 146.90h1.55v1.55h-1.55zM183.30 146.90h1.55v1.55h-1.55zM181.75 148.45h1.55v1.55h-1.55zM184.85 148.45h1.55v1.55h-1.55zM180.20 150.00h1.55v1.55h-1.55zM183.30 150.00h1.55v1.55h-1.55zM181.75 151.55h1.55v1.55h-1.55zM184.85 151.55h1.55v1.55h-1.55zM180.20 153.10h1.55v1.55h-1.55zM183.30 153.10h1.55v1.55h-1.55zM181.75 154.65h1.55v0.45h-1.55zM184.85 154.65h1.55v0.45h-1.55z"/>
<rect x="231.20" y="110.10" width="2.40" height="44.00" fill="#8c8c8c"/>
<path fill="#666" d="M231.2 110.60h2.4v0.9h-2.4zM231.2 113.55h2.4v0.9h-2.4zM231.2 116.50h2.4v0.9h-2.4zM231.2 119.45h2.4v0.9h-2.4zM231.2 122.40h2.4v0.9h-2.4zM231.2 125.35h2.4v0.9h-2.4zM231.2 128.30h2.4v0.9h-2.4zM231.2 131.25h2.4v0.9h-2.4zM231.2 134.20h2.4v0.9h-2.4zM231.2 137.15h2.4v0.9h-2.4zM231.2 140.10h2.4v0.9h-2.4zM231.2 143.05h2.4v0.9h-2.4zM231.2 146.00h2.4v0.9h-2.4zM231.2 148.95h2.4v0.9h-2.4zM231.2 151.90h2.4v0.9h-2.4z"/>
<rect x="158.40" y="136.60" width="2.20" height="5.00" fill="#6a6a6a"/>
<ellipse cx="280.7" cy="112.55" rx="6.3" ry="8.75" fill="#b4b4b4"/>
<ellipse cx="281.0" cy="107.80" rx="6.0" ry="3.9" fill="#222"/>
<ellipse cx="281.0" cy="116.30" rx="6.0" ry="3.7" fill="#222"/>
<ellipse cx="276.2" cy="112.55" rx="1.6" ry="7.00" fill="#9a9a9a" opacity="0.6"/>
<ellipse cx="280.7" cy="134.70" rx="6.3" ry="8.40" fill="#b4b4b4"/>
<ellipse cx="281.0" cy="130.30" rx="6.0" ry="3.9" fill="#222"/>
<ellipse cx="281.0" cy="138.10" rx="6.0" ry="3.7" fill="#222"/>
<ellipse cx="276.2" cy="134.70" rx="1.6" ry="6.72" fill="#9a9a9a" opacity="0.6"/>
<ellipse cx="280.7" cy="153.35" rx="6.3" ry="8.25" fill="#b4b4b4"/>
<ellipse cx="281.0" cy="149.10" rx="6.0" ry="3.9" fill="#222"/>
<ellipse cx="281.0" cy="156.60" rx="6.0" ry="3.7" fill="#222"/>
<ellipse cx="276.2" cy="153.35" rx="1.6" ry="6.60" fill="#9a9a9a" opacity="0.6"/>
<rect x="327.60" y="108.80" width="3.60" height="46.30" fill="#a8a8a8" rx="1.5"/>
<path fill="none" stroke="#444" stroke-width="0.7" d="M327.9 110.10L329.4 111.30L330.9 110.10M327.9 113.30L329.4 114.50L330.9 113.30M327.9 116.50L329.4 117.70L330.9 116.50M327.9 119.70L329.4 120.90L330.9 119.70M327.9 122.90L329.4 124.10L330.9 122.90M327.9 126.10L329.4 127.30L330.9 126.10M327.9 129.30L329.4 130.50L330.9 129.30M327.9 132.50L329.4 133.70L330.9 132.50M327.9 135.70L329.4 136.90L330.9 135.70M327.9 138.90L329.4 140.10L330.9 138.90M327.9 142.10L329.4 143.30L330.9 142.10M327.9 145.30L329.4 146.50L330.9 145.30M327.9 148.50L329.4 149.70L330.9 148.50M327.9 151.70L329.4 152.90L330.9 151.70"/>
<rect x="285.6" y="121.60" width="30.0" height="22.2" fill="none" stroke="#3353b3" stroke-width="1.5" stroke-dasharray="3.4 1.9"/>
<path d="M300.1 111.30 Q297.3 114.90 297.5 116.20 Q297.9 118.70 300.1 118.70 Q302.3 118.70 302.7 116.20 Q302.9 114.90 300.1 111.30Z" fill="#2aa4ec"/>
<text x="170.30" y="103.80" font-size="11.0" text-anchor="middle" fill="#fff" font-weight="normal">Cue Tower</text>
<line x1="163.80" y1="106.30" x2="159.90" y2="131.60" stroke="#fff" stroke-width="0.9"/>
<polygon points="157.90,129.70 161.50,130.20 159.30,134.60" fill="#fff"/>
<text x="375.40" y="103.80" font-size="11.4" text-anchor="end" fill="#fff" font-weight="normal">Context B Trial</text>
<text x="136.00" y="177.60" font-size="9.8" text-anchor="middle" fill="#000" font-weight="normal">0</text>
<text x="196.00" y="177.60" font-size="9.8" text-anchor="middle" fill="#000" font-weight="normal">100</text>
<text x="256.00" y="177.60" font-size="9.8" text-anchor="middle" fill="#000" font-weight="normal">200</text>
<text x="316.00" y="177.60" font-size="9.8" text-anchor="middle" fill="#000" font-weight="normal">300</text>
<text x="376.00" y="177.60" font-size="9.8" text-anchor="middle" fill="#000" font-weight="normal">400</text>
<text x="257.50" y="189.50" font-size="11.3" text-anchor="middle" fill="#000" font-weight="normal">VR Position (cm)</text>
<line x1="432.20" y1="20.90" x2="449.40" y2="20.90" stroke="#111" stroke-width="1.8"/>
<line x1="449.40" y1="20.90" x2="503.40" y2="20.90" stroke="#ee82b8" stroke-width="1.8"/>
<line x1="503.40" y1="20.90" x2="556.40" y2="20.90" stroke="#3453a5" stroke-width="1.8"/>
<line x1="556.40" y1="20.90" x2="627.60" y2="20.90" stroke="#3453a5" stroke-width="1.8"/>
<line x1="556.40" y1="20.90" x2="627.60" y2="20.90" stroke="#ee82b8" stroke-width="1.8" stroke-dasharray="2.4 2.4"/>
<line x1="432.20" y1="16.70" x2="432.20" y2="25.10" stroke="#111" stroke-width="1.3"/>
<line x1="449.40" y1="16.70" x2="449.40" y2="25.10" stroke="#111" stroke-width="1.3"/>
<line x1="503.40" y1="16.70" x2="503.40" y2="25.10" stroke="#111" stroke-width="1.3"/>
<line x1="556.40" y1="16.70" x2="556.40" y2="25.10" stroke="#111" stroke-width="1.3"/>
<line x1="610.30" y1="16.70" x2="610.30" y2="25.10" stroke="#111" stroke-width="1.3"/>
<line x1="627.60" y1="16.70" x2="627.60" y2="25.10" stroke="#111" stroke-width="1.3"/>
<text x="440.80" y="14.60" font-size="10.1" text-anchor="middle" fill="#3a3a3a" font-weight="normal">Dark</text>
<text x="476.40" y="14.60" font-size="10.1" text-anchor="middle" fill="#3a3a3a" font-weight="normal">Block: A</text>
<text x="530.60" y="14.60" font-size="10.1" text-anchor="middle" fill="#3a3a3a" font-weight="normal">Block: B</text>
<text x="583.30" y="14.70" font-size="10.1" text-anchor="middle" fill="#000" font-weight="normal" stroke="#000" stroke-width="0.22">Alternation</text>
<text x="625.90" y="14.70" font-size="10.1" text-anchor="middle" fill="#000" font-weight="normal" stroke="#000" stroke-width="0.22">Gain Δ</text>
<text x="440.50" y="32.50" font-size="10.1" text-anchor="middle" fill="#3a3a3a" font-weight="normal">20</text>
<text x="476.40" y="32.50" font-size="10.1" text-anchor="middle" fill="#3a3a3a" font-weight="normal">60</text>
<text x="530.20" y="32.50" font-size="10.1" text-anchor="middle" fill="#3a3a3a" font-weight="normal">60</text>
<text x="583.40" y="32.50" font-size="10.1" text-anchor="middle" fill="#3a3a3a" font-weight="normal">60</text>
<text x="619.50" y="32.50" font-size="10.1" text-anchor="middle" fill="#3a3a3a" font-weight="normal">20</text>
<text x="631.80" y="32.50" font-size="10.1" text-anchor="start" fill="#3a3a3a" font-weight="normal">trials</text>
<line x1="432.00" y1="171.90" x2="449.10" y2="171.90" stroke="#111" stroke-width="1.8"/>
<line x1="449.10" y1="171.90" x2="644.20" y2="171.90" stroke="#9a9a9a" stroke-width="1.6"/>
<line x1="432.00" y1="167.70" x2="432.00" y2="176.10" stroke="#111" stroke-width="1.3"/>
<line x1="449.10" y1="167.70" x2="449.10" y2="176.10" stroke="#111" stroke-width="1.3"/>
<line x1="627.70" y1="167.70" x2="627.70" y2="176.10" stroke="#111" stroke-width="1.3"/>
<line x1="644.20" y1="167.70" x2="644.20" y2="176.10" stroke="#111" stroke-width="1.3"/>
<text x="440.60" y="167.00" font-size="9.6" text-anchor="middle" fill="#3a3a3a" font-weight="normal">Dark</text>
<text x="538.40" y="167.00" font-size="9.9" text-anchor="middle" fill="#3a3a3a" font-weight="normal">Random Foraging</text>
<text x="636.20" y="166.40" font-size="10.0" text-anchor="middle" fill="#000" font-weight="normal" stroke="#000" stroke-width="0.22">Gain Δ</text>
<text x="440.40" y="184.00" font-size="9.7" text-anchor="middle" fill="#3a3a3a" font-weight="normal">20</text>
<text x="538.00" y="184.00" font-size="9.7" text-anchor="middle" fill="#3a3a3a" font-weight="normal">200</text>
<text x="635.30" y="184.00" font-size="9.7" text-anchor="middle" fill="#3a3a3a" font-weight="normal">20</text>
<text x="647.40" y="184.00" font-size="9.7" text-anchor="start" fill="#3a3a3a" font-weight="normal">trials</text>
<text x="541.20" y="51.80" font-size="12.6" text-anchor="middle" fill="#000" font-weight="normal">Random Foraging: Floor-Cued Rewards</text>
<rect x="400.90" y="57.40" width="284.10" height="67.20" fill="#a2a2a2"/>
<rect x="424.30" y="57.40" width="0.70" height="67.20" fill="#ababab"/>
<rect x="453.70" y="57.40" width="0.70" height="67.20" fill="#ababab"/>
<rect x="483.10" y="57.40" width="0.70" height="67.20" fill="#ababab"/>
<rect x="512.50" y="57.40" width="0.70" height="67.20" fill="#ababab"/>
<rect x="541.90" y="57.40" width="0.70" height="67.20" fill="#ababab"/>
<rect x="571.30" y="57.40" width="0.70" height="67.20" fill="#ababab"/>
<rect x="600.70" y="57.40" width="0.70" height="67.20" fill="#ababab"/>
<rect x="630.10" y="57.40" width="0.70" height="67.20" fill="#ababab"/>
<rect x="659.50" y="57.40" width="0.70" height="67.20" fill="#ababab"/>
<rect x="400.90" y="82.20" width="284.10" height="17.70" fill="#c4c4c4"/>
<path fill="#121212" d="M400.90 82.20h2.95v2.95h-2.95zM406.80 82.20h2.95v2.95h-2.95zM412.70 82.20h2.95v2.95h-2.95zM418.60 82.20h2.95v2.95h-2.95zM424.50 82.20h2.95v2.95h-2.95zM430.40 82.20h2.95v2.95h-2.95zM436.30 82.20h2.95v2.95h-2.95zM442.20 82.20h2.95v2.95h-2.95zM448.10 82.20h2.95v2.95h-2.95zM454.00 82.20h2.95v2.95h-2.95zM459.90 82.20h2.95v2.95h-2.95zM465.80 82.20h2.95v2.95h-2.95zM471.70 82.20h2.95v2.95h-2.95zM477.60 82.20h2.95v2.95h-2.95zM483.50 82.20h2.95v2.95h-2.95zM489.40 82.20h2.95v2.95h-2.95zM495.30 82.20h2.95v2.95h-2.95zM501.20 82.20h2.95v2.95h-2.95zM507.10 82.20h2.95v2.95h-2.95zM513.00 82.20h2.95v2.95h-2.95zM518.90 82.20h2.95v2.95h-2.95zM524.80 82.20h2.95v2.95h-2.95zM554.30 82.20h2.95v2.95h-2.95zM560.20 82.20h2.95v2.95h-2.95zM566.10 82.20h2.95v2.95h-2.95zM572.00 82.20h2.95v2.95h-2.95zM577.90 82.20h2.95v2.95h-2.95zM583.80 82.20h2.95v2.95h-2.95zM589.70 82.20h2.95v2.95h-2.95zM595.60 82.20h2.95v2.95h-2.95zM601.50 82.20h2.95v2.95h-2.95zM607.40 82.20h2.95v2.95h-2.95zM613.30 82.20h2.95v2.95h-2.95zM619.20 82.20h2.95v2.95h-2.95zM625.10 82.20h2.95v2.95h-2.95zM631.00 82.20h2.95v2.95h-2.95zM636.90 82.20h2.95v2.95h-2.95zM642.80 82.20h2.95v2.95h-2.95zM648.70 82.20h2.95v2.95h-2.95zM654.60 82.20h2.95v2.95h-2.95zM660.50 82.20h2.95v2.95h-2.95zM666.40 82.20h2.95v2.95h-2.95zM672.30 82.20h2.95v2.95h-2.95zM678.20 82.20h2.95v2.95h-2.95zM684.10 82.20h2.95v2.95h-2.95zM403.85 85.15h2.95v2.95h-2.95zM409.75 85.15h2.95v2.95h-2.95zM415.65 85.15h2.95v2.95h-2.95zM421.55 85.15h2.95v2.95h-2.95zM427.45 85.15h2.95v2.95h-2.95zM433.35 85.15h2.95v2.95h-2.95zM439.25 85.15h2.95v2.95h-2.95zM445.15 85.15h2.95v2.95h-2.95zM451.05 85.15h2.95v2.95h-2.95zM456.95 85.15h2.95v2.95h-2.95zM462.85 85.15h2.95v2.95h-2.95zM468.75 85.15h2.95v2.95h-2.95zM474.65 85.15h2.95v2.95h-2.95zM480.55 85.15h2.95v2.95h-2.95zM486.45 85.15h2.95v2.95h-2.95zM492.35 85.15h2.95v2.95h-2.95zM498.25 85.15h2.95v2.95h-2.95zM504.15 85.15h2.95v2.95h-2.95zM510.05 85.15h2.95v2.95h-2.95zM515.95 85.15h2.95v2.95h-2.95zM521.85 85.15h2.95v2.95h-2.95zM527.75 85.15h2.95v2.95h-2.95zM557.25 85.15h2.95v2.95h-2.95zM563.15 85.15h2.95v2.95h-2.95zM569.05 85.15h2.95v2.95h-2.95zM574.95 85.15h2.95v2.95h-2.95zM580.85 85.15h2.95v2.95h-2.95zM586.75 85.15h2.95v2.95h-2.95zM592.65 85.15h2.95v2.95h-2.95zM598.55 85.15h2.95v2.95h-2.95zM604.45 85.15h2.95v2.95h-2.95zM610.35 85.15h2.95v2.95h-2.95zM616.25 85.15h2.95v2.95h-2.95zM622.15 85.15h2.95v2.95h-2.95zM628.05 85.15h2.95v2.95h-2.95zM633.95 85.15h2.95v2.95h-2.95zM639.85 85.15h2.95v2.95h-2.95zM645.75 85.15h2.95v2.95h-2.95zM651.65 85.15h2.95v2.95h-2.95zM657.55 85.15h2.95v2.95h-2.95zM663.45 85.15h2.95v2.95h-2.95zM669.35 85.15h2.95v2.95h-2.95zM675.25 85.15h2.95v2.95h-2.95zM681.15 85.15h2.95v2.95h-2.95zM400.90 88.10h2.95v2.95h-2.95zM406.80 88.10h2.95v2.95h-2.95zM412.70 88.10h2.95v2.95h-2.95zM418.60 88.10h2.95v2.95h-2.95zM424.50 88.10h2.95v2.95h-2.95zM430.40 88.10h2.95v2.95h-2.95zM436.30 88.10h2.95v2.95h-2.95zM442.20 88.10h2.95v2.95h-2.95zM448.10 88.10h2.95v2.95h-2.95zM454.00 88.10h2.95v2.95h-2.95zM459.90 88.10h2.95v2.95h-2.95zM465.80 88.10h2.95v2.95h-2.95zM471.70 88.10h2.95v2.95h-2.95zM477.60 88.10h2.95v2.95h-2.95zM483.50 88.10h2.95v2.95h-2.95zM489.40 88.10h2.95v2.95h-2.95zM495.30 88.10h2.95v2.95h-2.95zM501.20 88.10h2.95v2.95h-2.95zM507.10 88.10h2.95v2.95h-2.95zM513.00 88.10h2.95v2.95h-2.95zM518.90 88.10h2.95v2.95h-2.95zM524.80 88.10h2.95v2.95h-2.95zM554.30 88.10h2.95v2.95h-2.95zM560.20 88.10h2.95v2.95h-2.95zM566.10 88.10h2.95v2.95h-2.95zM572.00 88.10h2.95v2.95h-2.95zM577.90 88.10h2.95v2.95h-2.95zM583.80 88.10h2.95v2.95h-2.95zM589.70 88.10h2.95v2.95h-2.95zM595.60 88.10h2.95v2.95h-2.95zM601.50 88.10h2.95v2.95h-2.95zM607.40 88.10h2.95v2.95h-2.95zM613.30 88.10h2.95v2.95h-2.95zM619.20 88.10h2.95v2.95h-2.95zM625.10 88.10h2.95v2.95h-2.95zM631.00 88.10h2.95v2.95h-2.95zM636.90 88.10h2.95v2.95h-2.95zM642.80 88.10h2.95v2.95h-2.95zM648.70 88.10h2.95v2.95h-2.95zM654.60 88.10h2.95v2.95h-2.95zM660.50 88.10h2.95v2.95h-2.95zM666.40 88.10h2.95v2.95h-2.95zM672.30 88.10h2.95v2.95h-2.95zM678.20 88.10h2.95v2.95h-2.95zM684.10 88.10h2.95v2.95h-2.95zM403.85 91.05h2.95v2.95h-2.95zM409.75 91.05h2.95v2.95h-2.95zM415.65 91.05h2.95v2.95h-2.95zM421.55 91.05h2.95v2.95h-2.95zM427.45 91.05h2.95v2.95h-2.95zM433.35 91.05h2.95v2.95h-2.95zM439.25 91.05h2.95v2.95h-2.95zM445.15 91.05h2.95v2.95h-2.95zM451.05 91.05h2.95v2.95h-2.95zM456.95 91.05h2.95v2.95h-2.95zM462.85 91.05h2.95v2.95h-2.95zM468.75 91.05h2.95v2.95h-2.95zM474.65 91.05h2.95v2.95h-2.95zM480.55 91.05h2.95v2.95h-2.95zM486.45 91.05h2.95v2.95h-2.95zM492.35 91.05h2.95v2.95h-2.95zM498.25 91.05h2.95v2.95h-2.95zM504.15 91.05h2.95v2.95h-2.95zM510.05 91.05h2.95v2.95h-2.95zM515.95 91.05h2.95v2.95h-2.95zM521.85 91.05h2.95v2.95h-2.95zM527.75 91.05h2.95v2.95h-2.95zM557.25 91.05h2.95v2.95h-2.95zM563.15 91.05h2.95v2.95h-2.95zM569.05 91.05h2.95v2.95h-2.95zM574.95 91.05h2.95v2.95h-2.95zM580.85 91.05h2.95v2.95h-2.95zM586.75 91.05h2.95v2.95h-2.95zM592.65 91.05h2.95v2.95h-2.95zM598.55 91.05h2.95v2.95h-2.95zM604.45 91.05h2.95v2.95h-2.95zM610.35 91.05h2.95v2.95h-2.95zM616.25 91.05h2.95v2.95h-2.95zM622.15 91.05h2.95v2.95h-2.95zM628.05 91.05h2.95v2.95h-2.95zM633.95 91.05h2.95v2.95h-2.95zM639.85 91.05h2.95v2.95h-2.95zM645.75 91.05h2.95v2.95h-2.95zM651.65 91.05h2.95v2.95h-2.95zM657.55 91.05h2.95v2.95h-2.95zM663.45 91.05h2.95v2.95h-2.95zM669.35 91.05h2.95v2.95h-2.95zM675.25 91.05h2.95v2.95h-2.95zM681.15 91.05h2.95v2.95h-2.95zM400.90 94.00h2.95v2.95h-2.95zM406.80 94.00h2.95v2.95h-2.95zM412.70 94.00h2.95v2.95h-2.95zM418.60 94.00h2.95v2.95h-2.95zM424.50 94.00h2.95v2.95h-2.95zM430.40 94.00h2.95v2.95h-2.95zM436.30 94.00h2.95v2.95h-2.95zM442.20 94.00h2.95v2.95h-2.95zM448.10 94.00h2.95v2.95h-2.95zM454.00 94.00h2.95v2.95h-2.95zM459.90 94.00h2.95v2.95h-2.95zM465.80 94.00h2.95v2.95h-2.95zM471.70 94.00h2.95v2.95h-2.95zM477.60 94.00h2.95v2.95h-2.95zM483.50 94.00h2.95v2.95h-2.95zM489.40 94.00h2.95v2.95h-2.95zM495.30 94.00h2.95v2.95h-2.95zM501.20 94.00h2.95v2.95h-2.95zM507.10 94.00h2.95v2.95h-2.95zM513.00 94.00h2.95v2.95h-2.95zM518.90 94.00h2.95v2.95h-2.95zM524.80 94.00h2.95v2.95h-2.95zM554.30 94.00h2.95v2.95h-2.95zM560.20 94.00h2.95v2.95h-2.95zM566.10 94.00h2.95v2.95h-2.95zM572.00 94.00h2.95v2.95h-2.95zM577.90 94.00h2.95v2.95h-2.95zM583.80 94.00h2.95v2.95h-2.95zM589.70 94.00h2.95v2.95h-2.95zM595.60 94.00h2.95v2.95h-2.95zM601.50 94.00h2.95v2.95h-2.95zM607.40 94.00h2.95v2.95h-2.95zM613.30 94.00h2.95v2.95h-2.95zM619.20 94.00h2.95v2.95h-2.95zM625.10 94.00h2.95v2.95h-2.95zM631.00 94.00h2.95v2.95h-2.95zM636.90 94.00h2.95v2.95h-2.95zM642.80 94.00h2.95v2.95h-2.95zM648.70 94.00h2.95v2.95h-2.95zM654.60 94.00h2.95v2.95h-2.95zM660.50 94.00h2.95v2.95h-2.95zM666.40 94.00h2.95v2.95h-2.95zM672.30 94.00h2.95v2.95h-2.95zM678.20 94.00h2.95v2.95h-2.95zM684.10 94.00h2.95v2.95h-2.95zM403.85 96.95h2.95v2.95h-2.95zM409.75 96.95h2.95v2.95h-2.95zM415.65 96.95h2.95v2.95h-2.95zM421.55 96.95h2.95v2.95h-2.95zM427.45 96.95h2.95v2.95h-2.95zM433.35 96.95h2.95v2.95h-2.95zM439.25 96.95h2.95v2.95h-2.95zM445.15 96.95h2.95v2.95h-2.95zM451.05 96.95h2.95v2.95h-2.95zM456.95 96.95h2.95v2.95h-2.95zM462.85 96.95h2.95v2.95h-2.95zM468.75 96.95h2.95v2.95h-2.95zM474.65 96.95h2.95v2.95h-2.95zM480.55 96.95h2.95v2.95h-2.95zM486.45 96.95h2.95v2.95h-2.95zM492.35 96.95h2.95v2.95h-2.95zM498.25 96.95h2.95v2.95h-2.95zM504.15 96.95h2.95v2.95h-2.95zM510.05 96.95h2.95v2.95h-2.95zM515.95 96.95h2.95v2.95h-2.95zM521.85 96.95h2.95v2.95h-2.95zM527.75 96.95h2.95v2.95h-2.95zM557.25 96.95h2.95v2.95h-2.95zM563.15 96.95h2.95v2.95h-2.95zM569.05 96.95h2.95v2.95h-2.95zM574.95 96.95h2.95v2.95h-2.95zM580.85 96.95h2.95v2.95h-2.95zM586.75 96.95h2.95v2.95h-2.95zM592.65 96.95h2.95v2.95h-2.95zM598.55 96.95h2.95v2.95h-2.95zM604.45 96.95h2.95v2.95h-2.95zM610.35 96.95h2.95v2.95h-2.95zM616.25 96.95h2.95v2.95h-2.95zM622.15 96.95h2.95v2.95h-2.95zM628.05 96.95h2.95v2.95h-2.95zM633.95 96.95h2.95v2.95h-2.95zM639.85 96.95h2.95v2.95h-2.95zM645.75 96.95h2.95v2.95h-2.95zM651.65 96.95h2.95v2.95h-2.95zM657.55 96.95h2.95v2.95h-2.95zM663.45 96.95h2.95v2.95h-2.95zM669.35 96.95h2.95v2.95h-2.95zM675.25 96.95h2.95v2.95h-2.95zM681.15 96.95h2.95v2.95h-2.95z"/>
<rect x="531.00" y="82.20" width="20.50" height="17.70" fill="#a4a4a4"/>
<path fill="#1a1a1a" d="M532.3 82.50L536.6 84.50L532.3 86.50zM541.0 82.50L537.0 84.50L541.0 86.50zM542.2 82.50L546.2 84.50L542.2 86.50zM551.2 82.50L547.0 84.50L551.2 86.50zM532.3 86.85L536.6 88.85L532.3 90.85zM541.0 86.85L537.0 88.85L541.0 90.85zM542.2 86.85L546.2 88.85L542.2 90.85zM551.2 86.85L547.0 88.85L551.2 90.85zM532.3 91.20L536.6 93.20L532.3 95.20zM541.0 91.20L537.0 93.20L541.0 95.20zM542.2 91.20L546.2 93.20L542.2 95.20zM551.2 91.20L547.0 93.20L551.2 95.20zM532.3 95.55L536.6 97.55L532.3 99.55zM541.0 95.55L537.0 97.55L541.0 99.55zM542.2 95.55L546.2 97.55L542.2 99.55zM551.2 95.55L547.0 97.55L551.2 99.55z"/>
<rect x="541.30" y="57.40" width="0.60" height="67.20" fill="#c8c8c8"/>
<line x1="402.50" y1="70.20" x2="441.00" y2="77.60" stroke="#111" stroke-width="0.9" stroke-linecap="round"/>
<line x1="402.80" y1="71.60" x2="441.00" y2="79.00" stroke="#111" stroke-width="0.9" stroke-linecap="round"/>
<line x1="403.50" y1="73.00" x2="440.50" y2="80.00" stroke="#111" stroke-width="0.9" stroke-linecap="round"/>
<line x1="404.00" y1="71.00" x2="440.50" y2="78.20" stroke="#cfcfcf" stroke-width="0.6"/>
<line x1="403.00" y1="104.30" x2="441.00" y2="103.30" stroke="#111" stroke-width="0.9" stroke-linecap="round"/>
<line x1="403.00" y1="106.00" x2="441.00" y2="104.70" stroke="#111" stroke-width="0.9" stroke-linecap="round"/>
<line x1="404.00" y1="108.40" x2="440.00" y2="106.80" stroke="#111" stroke-width="0.9" stroke-linecap="round"/>
<line x1="404.00" y1="105.20" x2="440.50" y2="104.00" stroke="#cfcfcf" stroke-width="0.6"/>
<ellipse cx="472.00" cy="69.60" rx="9.20" ry="8.70" fill="#8c8c8c"/>
<ellipse cx="469.20" cy="69.00" rx="9.20" ry="8.70" fill="#a8a8a8"/>
<clipPath id="hb1"><ellipse cx="469.20" cy="69.00" rx="9.60" ry="9.10"/></clipPath>
<g clip-path="url(#hb1)"><path fill="none" stroke="#111" stroke-width="1.15" d="M435.40 59.00L452.40 79.00M452.40 59.00L435.40 79.00M441.80 59.00L458.80 79.00M458.80 59.00L441.80 79.00M448.20 59.00L465.20 79.00M465.20 59.00L448.20 79.00M454.60 59.00L471.60 79.00M471.60 59.00L454.60 79.00M461.00 59.00L478.00 79.00M478.00 59.00L461.00 79.00M467.40 59.00L484.40 79.00M484.40 59.00L467.40 79.00M473.80 59.00L490.80 79.00M490.80 59.00L473.80 79.00M480.20 59.00L497.20 79.00M497.20 59.00L480.20 79.00M486.60 59.00L503.60 79.00M503.60 59.00L486.60 79.00"/></g>
<ellipse cx="472.00" cy="112.20" rx="9.20" ry="8.70" fill="#8c8c8c"/>
<ellipse cx="469.20" cy="111.60" rx="9.20" ry="8.70" fill="#a8a8a8"/>
<clipPath id="hb2"><ellipse cx="469.20" cy="111.60" rx="9.60" ry="9.10"/></clipPath>
<g clip-path="url(#hb2)"><path fill="none" stroke="#111" stroke-width="1.15" d="M435.40 101.60L452.40 121.60M452.40 101.60L435.40 121.60M441.80 101.60L458.80 121.60M458.80 101.60L441.80 121.60M448.20 101.60L465.20 121.60M465.20 101.60L448.20 121.60M454.60 101.60L471.60 121.60M471.60 101.60L454.60 121.60M461.00 101.60L478.00 121.60M478.00 101.60L461.00 121.60M467.40 101.60L484.40 121.60M484.40 101.60L467.40 121.60M473.80 101.60L490.80 121.60M490.80 101.60L473.80 121.60M480.20 101.60L497.20 121.60M497.20 101.60L480.20 121.60M486.60 101.60L503.60 121.60M503.60 101.60L486.60 121.60"/></g>
<ellipse cx="518.40" cy="70.40" rx="5.90" ry="6.70" fill="#8e8e8e"/>
<ellipse cx="516.80" cy="69.00" rx="5.90" ry="6.70" fill="#b2b2b2"/>
<clipPath id="sb1"><ellipse cx="516.80" cy="69.00" rx="5.90" ry="6.70"/></clipPath>
<g clip-path="url(#sb1)"><path fill="none" stroke="#111" stroke-width="1.5" d="M514.40 61.00L509.20 77.00M517.40 61.00L512.20 77.00M520.40 61.00L515.20 77.00M523.40 61.00L518.20 77.00"/></g>
<ellipse cx="518.40" cy="112.60" rx="5.90" ry="6.30" fill="#8e8e8e"/>
<ellipse cx="516.80" cy="111.20" rx="5.90" ry="6.30" fill="#b2b2b2"/>
<clipPath id="sb2"><ellipse cx="516.80" cy="111.20" rx="5.90" ry="6.30"/></clipPath>
<g clip-path="url(#sb2)"><path fill="none" stroke="#111" stroke-width="1.5" d="M514.40 103.20L509.20 119.20M517.40 103.20L512.20 119.20M520.40 103.20L515.20 119.20M523.40 103.20L518.20 119.20"/></g>
<path d="M540.6 73.3 Q537.8 76.9 538.0 78.2 Q538.4 80.7 540.6 80.7 Q542.8 80.7 543.2 78.2 Q543.4 76.9 540.6 73.3Z" fill="#2aa4ec"/>
<line x1="562.50" y1="80.00" x2="569.50" y2="75.80" stroke="#555" stroke-width="0.9"/>
<line x1="562.50" y1="102.80" x2="568.50" y2="102.80" stroke="#6a6a6a" stroke-width="0.9"/>
<g transform="translate(602.50 78.40) rotate(-15.01)"><rect x="0" y="-4.40" width="22.78" height="8.80" rx="4.40" fill="#9a9a9a"/><ellipse cx="18.28" cy="0" rx="4.2" ry="4.40" fill="#c0c0c0"/><line x1="15.28" y1="-3.80" x2="15.28" y2="3.80" stroke="#222" stroke-width="0.7"/><line x1="16.88" y1="-3.80" x2="16.88" y2="3.80" stroke="#222" stroke-width="0.7"/><line x1="18.48" y1="-3.80" x2="18.48" y2="3.80" stroke="#222" stroke-width="0.7"/><line x1="20.08" y1="-3.80" x2="20.08" y2="3.80" stroke="#222" stroke-width="0.7"/><ellipse cx="2.40" cy="0" rx="2.0" ry="4.10" fill="none" stroke="#1e1e1e" stroke-width="0.7"/><ellipse cx="4.15" cy="0" rx="2.0" ry="4.10" fill="none" stroke="#1e1e1e" stroke-width="0.7"/><ellipse cx="5.90" cy="0" rx="2.0" ry="4.10" fill="none" stroke="#1e1e1e" stroke-width="0.7"/><ellipse cx="7.65" cy="0" rx="2.0" ry="4.10" fill="none" stroke="#1e1e1e" stroke-width="0.7"/><ellipse cx="9.40" cy="0" rx="2.0" ry="4.10" fill="none" stroke="#1e1e1e" stroke-width="0.7"/><ellipse cx="11.15" cy="0" rx="2.0" ry="4.10" fill="none" stroke="#1e1e1e" stroke-width="0.7"/><ellipse cx="12.90" cy="0" rx="2.0" ry="4.10" fill="none" stroke="#1e1e1e" stroke-width="0.7"/><ellipse cx="14.65" cy="0" rx="2.0" ry="4.10" fill="none" stroke="#1e1e1e" stroke-width="0.7"/></g>
<g transform="translate(602.50 105.30) rotate(0.00)"><rect x="0" y="-4.30" width="22.00" height="8.60" rx="4.30" fill="#9a9a9a"/><ellipse cx="17.50" cy="0" rx="4.2" ry="4.30" fill="#c0c0c0"/><line x1="14.50" y1="-3.70" x2="14.50" y2="3.70" stroke="#222" stroke-width="0.7"/><line x1="16.10" y1="-3.70" x2="16.10" y2="3.70" stroke="#222" stroke-width="0.7"/><line x1="17.70" y1="-3.70" x2="17.70" y2="3.70" stroke="#222" stroke-width="0.7"/><line x1="19.30" y1="-3.70" x2="19.30" y2="3.70" stroke="#222" stroke-width="0.7"/><ellipse cx="2.40" cy="0" rx="2.0" ry="4.00" fill="none" stroke="#1e1e1e" stroke-width="0.7"/><ellipse cx="4.15" cy="0" rx="2.0" ry="4.00" fill="none" stroke="#1e1e1e" stroke-width="0.7"/><ellipse cx="5.90" cy="0" rx="2.0" ry="4.00" fill="none" stroke="#1e1e1e" stroke-width="0.7"/><ellipse cx="7.65" cy="0" rx="2.0" ry="4.00" fill="none" stroke="#1e1e1e" stroke-width="0.7"/><ellipse cx="9.40" cy="0" rx="2.0" ry="4.00" fill="none" stroke="#1e1e1e" stroke-width="0.7"/><ellipse cx="11.15" cy="0" rx="2.0" ry="4.00" fill="none" stroke="#1e1e1e" stroke-width="0.7"/><ellipse cx="12.90" cy="0" rx="2.0" ry="4.00" fill="none" stroke="#1e1e1e" stroke-width="0.7"/><ellipse cx="14.65" cy="0" rx="2.0" ry="4.00" fill="none" stroke="#1e1e1e" stroke-width="0.7"/></g>
<line x1="641.50" y1="78.60" x2="683.50" y2="70.00" stroke="#111" stroke-width="0.9" stroke-linecap="round"/>
<line x1="641.50" y1="80.00" x2="683.50" y2="71.60" stroke="#111" stroke-width="0.9" stroke-linecap="round"/>
<line x1="664.00" y1="73.50" x2="684.50" y2="72.60" stroke="#111" stroke-width="0.9" stroke-linecap="round"/>
<line x1="641.50" y1="103.20" x2="683.50" y2="104.60" stroke="#111" stroke-width="0.9" stroke-linecap="round"/>
<line x1="641.50" y1="105.00" x2="683.50" y2="106.60" stroke="#111" stroke-width="0.9" stroke-linecap="round"/>
<line x1="641.50" y1="106.60" x2="683.00" y2="108.20" stroke="#111" stroke-width="0.9" stroke-linecap="round"/>
<text x="424.10" y="136.30" font-size="9.8" text-anchor="middle" fill="#000" font-weight="normal">0</text>
<text x="482.95" y="136.30" font-size="9.8" text-anchor="middle" fill="#000" font-weight="normal">100</text>
<text x="541.80" y="136.30" font-size="9.8" text-anchor="middle" fill="#000" font-weight="normal">200</text>
<text x="600.65" y="136.30" font-size="9.8" text-anchor="middle" fill="#000" font-weight="normal">300</text>
<text x="659.50" y="136.30" font-size="9.8" text-anchor="middle" fill="#000" font-weight="normal">400</text>
<text x="542.30" y="149.30" font-size="11.3" text-anchor="middle" fill="#000" font-weight="normal">VR Position (cm)</text>
<text x="69.80" y="210.10" font-size="12.2" text-anchor="middle" fill="#1f77b4" font-weight="normal">Y25_S1</text>
<rect x="74.88" y="229.75" width="4.97" height="43.06" fill="#ee7ab4"/>
<rect x="84.83" y="272.82" width="5.47" height="43.06" fill="#3a52a3"/>
<rect x="74.88" y="315.88" width="4.97" height="29.43" fill="#ee7ab4"/>
<rect x="84.83" y="345.30" width="5.47" height="27.99" fill="#3a52a3"/>
<path fill="#000" d="M52.0 230.1h.95v.8h-.95zM54.1 230.1h.95v.8h-.95zM55.4 230.1h.95v.8h-.95zM56.7 230.1h.95v.8h-.95zM57.9 230.1h.95v.8h-.95zM59.0 230.1h.95v.8h-.95zM60.5 230.1h.95v.8h-.95zM66.6 230.1h.95v.8h-.95zM67.7 230.1h.95v.8h-.95zM69.2 230.1h.95v.8h-.95zM53.7 230.9h.95v.8h-.95zM54.8 230.9h.95v.8h-.95zM57.1 230.9h.95v.8h-.95zM58.5 230.9h.95v.8h-.95zM85.0 230.1h.95v.8h-.95zM86.3 230.1h.95v.8h-.95zM54.3 237.0h.95v.8h-.95zM55.6 237.0h.95v.8h-.95zM66.3 242.0h.95v.8h-.95zM60.3 242.7h.95v.8h-.95zM61.3 242.7h.95v.8h-.95zM60.0 244.1h.95v.8h-.95zM61.5 244.1h.95v.8h-.95zM59.4 244.1h.95v.8h-.95zM61.0 244.1h.95v.8h-.95zM56.5 246.3h.95v.8h-.95zM63.2 247.0h.95v.8h-.95zM64.8 247.0h.95v.8h-.95zM66.7 247.0h.95v.8h-.95zM67.7 247.0h.95v.8h-.95zM52.8 247.0h.95v.8h-.95zM54.0 247.0h.95v.8h-.95zM84.0 244.8h.95v.8h-.95zM85.1 244.8h.95v.8h-.95zM85.3 244.8h.95v.8h-.95zM86.4 244.8h.95v.8h-.95zM82.6 245.6h.95v.8h-.95zM83.7 245.6h.95v.8h-.95zM84.7 245.6h.95v.8h-.95zM84.7 246.3h.95v.8h-.95zM87.2 246.3h.95v.8h-.95zM65.0 247.7h.95v.8h-.95zM66.4 247.7h.95v.8h-.95zM58.7 247.7h.95v.8h-.95zM62.3 252.7h.95v.8h-.95zM63.4 252.7h.95v.8h-.95zM62.3 253.5h.95v.8h-.95zM61.1 257.0h.95v.8h-.95zM62.7 259.2h.95v.8h-.95zM64.2 259.2h.95v.8h-.95zM71.5 237.7h.95v.8h-.95zM72.8 237.7h.95v.8h-.95zM74.1 237.7h.95v.8h-.95zM73.8 238.4h.95v.8h-.95zM73.1 239.1h.95v.8h-.95zM74.3 239.1h.95v.8h-.95zM73.1 239.8h.95v.8h-.95zM74.6 239.8h.95v.8h-.95zM72.9 240.5h.95v.8h-.95zM74.3 240.5h.95v.8h-.95zM73.1 240.5h.95v.8h-.95zM72.9 241.3h.95v.8h-.95zM74.0 241.3h.95v.8h-.95zM72.5 244.1h.95v.8h-.95zM70.8 244.1h.95v.8h-.95zM72.4 244.1h.95v.8h-.95zM73.5 244.1h.95v.8h-.95zM73.5 244.1h.95v.8h-.95zM73.9 245.6h.95v.8h-.95zM73.7 247.0h.95v.8h-.95zM73.7 247.0h.95v.8h-.95zM73.7 247.0h.95v.8h-.95zM73.7 247.7h.95v.8h-.95zM72.0 248.4h.95v.8h-.95zM73.3 248.4h.95v.8h-.95zM74.6 248.4h.95v.8h-.95zM73.7 248.4h.95v.8h-.95zM73.8 248.4h.95v.8h-.95zM73.3 249.9h.95v.8h-.95zM74.3 249.9h.95v.8h-.95zM73.6 250.6h.95v.8h-.95zM73.1 251.3h.95v.8h-.95zM74.4 251.3h.95v.8h-.95zM73.4 252.7h.95v.8h-.95zM74.5 252.7h.95v.8h-.95zM73.7 252.7h.95v.8h-.95zM73.6 253.5h.95v.8h-.95zM70.5 254.2h.95v.8h-.95zM71.5 254.2h.95v.8h-.95zM72.8 254.2h.95v.8h-.95zM73.9 254.2h.95v.8h-.95zM72.4 259.9h.95v.8h-.95zM73.9 259.9h.95v.8h-.95zM72.5 260.6h.95v.8h-.95zM74.0 260.6h.95v.8h-.95zM73.1 261.4h.95v.8h-.95zM74.6 261.4h.95v.8h-.95zM71.6 261.4h.95v.8h-.95zM72.7 261.4h.95v.8h-.95zM73.8 261.4h.95v.8h-.95zM72.8 262.1h.95v.8h-.95zM73.8 262.1h.95v.8h-.95zM73.1 262.1h.95v.8h-.95zM74.2 262.1h.95v.8h-.95zM72.4 264.2h.95v.8h-.95zM73.6 264.2h.95v.8h-.95zM73.9 264.9h.95v.8h-.95zM73.5 264.9h.95v.8h-.95zM74.5 264.9h.95v.8h-.95zM73.1 265.7h.95v.8h-.95zM74.2 265.7h.95v.8h-.95zM69.9 265.7h.95v.8h-.95zM71.2 265.7h.95v.8h-.95zM72.8 265.7h.95v.8h-.95zM73.9 265.7h.95v.8h-.95zM73.0 267.1h.95v.8h-.95zM74.5 267.1h.95v.8h-.95zM71.6 267.8h.95v.8h-.95zM72.6 267.8h.95v.8h-.95zM73.8 267.8h.95v.8h-.95zM72.4 270.0h.95v.8h-.95zM73.9 270.0h.95v.8h-.95zM73.1 272.8h.95v.8h-.95zM84.2 272.8h.95v.8h-.95zM76.4 272.8h.95v.8h-.95zM83.9 272.8h.95v.8h-.95zM73.1 274.3h.95v.8h-.95zM74.4 274.3h.95v.8h-.95zM75.6 274.3h.95v.8h-.95zM75.8 274.3h.95v.8h-.95zM77.1 274.3h.95v.8h-.95zM76.5 274.3h.95v.8h-.95zM77.6 274.3h.95v.8h-.95zM75.7 275.0h.95v.8h-.95zM77.2 275.0h.95v.8h-.95zM74.4 275.7h.95v.8h-.95zM83.3 275.7h.95v.8h-.95zM84.4 275.7h.95v.8h-.95zM72.9 276.4h.95v.8h-.95zM74.2 276.4h.95v.8h-.95zM75.2 276.4h.95v.8h-.95zM84.0 276.4h.95v.8h-.95zM85.1 276.4h.95v.8h-.95zM84.3 276.4h.95v.8h-.95zM76.3 277.1h.95v.8h-.95zM79.1 277.9h.95v.8h-.95zM80.2 277.9h.95v.8h-.95zM77.7 277.9h.95v.8h-.95zM84.5 278.6h.95v.8h-.95zM80.8 279.3h.95v.8h-.95zM81.9 279.3h.95v.8h-.95zM83.1 279.3h.95v.8h-.95zM82.5 279.3h.95v.8h-.95zM84.8 279.3h.95v.8h-.95zM75.3 279.3h.95v.8h-.95zM76.8 279.3h.95v.8h-.95zM84.4 280.0h.95v.8h-.95zM84.7 280.0h.95v.8h-.95zM74.8 280.7h.95v.8h-.95zM75.8 280.7h.95v.8h-.95zM77.1 280.7h.95v.8h-.95zM74.6 280.7h.95v.8h-.95zM77.0 280.7h.95v.8h-.95zM78.2 280.7h.95v.8h-.95zM79.5 280.7h.95v.8h-.95zM74.9 280.7h.95v.8h-.95zM75.9 280.7h.95v.8h-.95zM82.1 280.7h.95v.8h-.95zM75.9 281.4h.95v.8h-.95zM77.1 281.4h.95v.8h-.95zM78.3 281.4h.95v.8h-.95zM81.9 281.4h.95v.8h-.95zM83.5 281.4h.95v.8h-.95zM84.7 281.4h.95v.8h-.95zM84.4 281.4h.95v.8h-.95zM78.7 281.4h.95v.8h-.95zM80.1 281.4h.95v.8h-.95zM77.0 282.2h.95v.8h-.95zM78.1 282.2h.95v.8h-.95zM79.3 282.2h.95v.8h-.95zM84.8 282.2h.95v.8h-.95zM77.7 282.9h.95v.8h-.95zM79.2 282.9h.95v.8h-.95zM74.0 282.9h.95v.8h-.95zM75.4 282.9h.95v.8h-.95zM75.0 282.9h.95v.8h-.95zM76.1 282.9h.95v.8h-.95zM75.4 283.6h.95v.8h-.95zM77.0 283.6h.95v.8h-.95zM83.8 283.6h.95v.8h-.95zM84.8 283.6h.95v.8h-.95zM79.8 283.6h.95v.8h-.95zM81.3 283.6h.95v.8h-.95zM82.5 283.6h.95v.8h-.95zM80.2 284.3h.95v.8h-.95zM81.3 284.3h.95v.8h-.95zM76.6 285.0h.95v.8h-.95zM77.8 285.0h.95v.8h-.95zM79.4 285.0h.95v.8h-.95zM79.4 285.0h.95v.8h-.95zM80.5 285.0h.95v.8h-.95zM79.6 285.8h.95v.8h-.95zM75.0 285.8h.95v.8h-.95zM77.2 285.8h.95v.8h-.95zM83.5 285.8h.95v.8h-.95zM84.5 285.8h.95v.8h-.95zM77.1 286.5h.95v.8h-.95zM78.3 286.5h.95v.8h-.95zM73.9 286.5h.95v.8h-.95zM75.4 286.5h.95v.8h-.95zM83.8 287.2h.95v.8h-.95zM80.7 287.2h.95v.8h-.95zM81.8 287.2h.95v.8h-.95zM78.2 287.9h.95v.8h-.95zM83.9 289.3h.95v.8h-.95zM82.4 289.3h.95v.8h-.95zM81.1 290.1h.95v.8h-.95zM82.4 290.1h.95v.8h-.95zM78.8 290.8h.95v.8h-.95zM79.8 290.8h.95v.8h-.95zM81.0 290.8h.95v.8h-.95zM82.4 290.8h.95v.8h-.95zM77.4 291.5h.95v.8h-.95zM79.0 291.5h.95v.8h-.95zM79.7 292.2h.95v.8h-.95zM78.6 292.2h.95v.8h-.95zM80.1 292.2h.95v.8h-.95zM79.5 292.9h.95v.8h-.95zM80.6 292.9h.95v.8h-.95zM83.6 293.6h.95v.8h-.95zM80.4 293.6h.95v.8h-.95zM81.7 293.6h.95v.8h-.95zM85.0 293.6h.95v.8h-.95zM83.4 295.1h.95v.8h-.95zM84.9 295.1h.95v.8h-.95zM80.8 295.1h.95v.8h-.95zM81.6 298.0h.95v.8h-.95zM82.7 298.0h.95v.8h-.95zM83.7 298.0h.95v.8h-.95zM79.0 300.8h.95v.8h-.95zM79.6 303.0h.95v.8h-.95zM80.3 303.0h.95v.8h-.95zM81.9 303.0h.95v.8h-.95zM84.4 303.0h.95v.8h-.95zM81.9 305.1h.95v.8h-.95zM83.0 305.1h.95v.8h-.95zM79.9 305.9h.95v.8h-.95zM83.5 305.9h.95v.8h-.95zM85.0 305.9h.95v.8h-.95zM79.2 306.6h.95v.8h-.95zM79.6 308.0h.95v.8h-.95zM81.0 308.0h.95v.8h-.95zM82.5 308.0h.95v.8h-.95zM84.1 308.0h.95v.8h-.95zM80.7 308.0h.95v.8h-.95zM82.7 310.2h.95v.8h-.95zM84.2 310.2h.95v.8h-.95zM81.0 310.2h.95v.8h-.95zM82.2 310.2h.95v.8h-.95zM83.2 314.5h.95v.8h-.95zM83.8 314.5h.95v.8h-.95zM84.8 314.5h.95v.8h-.95zM79.0 315.2h.95v.8h-.95zM66.3 321.6h.95v.8h-.95zM67.3 321.6h.95v.8h-.95zM68.8 321.6h.95v.8h-.95zM70.0 321.6h.95v.8h-.95zM71.0 321.6h.95v.8h-.95zM73.4 321.6h.95v.8h-.95zM73.9 316.6h.95v.8h-.95zM72.9 320.2h.95v.8h-.95zM74.0 320.2h.95v.8h-.95zM73.5 323.1h.95v.8h-.95zM74.6 323.1h.95v.8h-.95zM72.9 328.1h.95v.8h-.95zM74.1 328.1h.95v.8h-.95zM73.8 329.5h.95v.8h-.95zM73.5 331.0h.95v.8h-.95zM73.1 334.6h.95v.8h-.95zM74.6 334.6h.95v.8h-.95zM73.8 336.0h.95v.8h-.95zM73.6 342.5h.95v.8h-.95zM73.6 343.2h.95v.8h-.95zM74.7 343.2h.95v.8h-.95zM73.9 343.2h.95v.8h-.95zM76.0 344.6h.95v.8h-.95zM76.9 345.3h.95v.8h-.95zM78.4 345.3h.95v.8h-.95zM81.6 345.3h.95v.8h-.95zM82.8 345.3h.95v.8h-.95zM81.1 346.0h.95v.8h-.95zM81.0 346.0h.95v.8h-.95z"/>
<rect x="50.50" y="215.40" width="39.80" height="157.89" fill="none" stroke="#161616" stroke-width="1.2"/>
<line x1="46.50" y1="215.40" x2="50.50" y2="215.40" stroke="#161616" stroke-width="1.15"/>
<text x="41.60" y="219.10" font-size="9.8" text-anchor="end" fill="#000" font-weight="normal">0</text>
<line x1="46.50" y1="229.75" x2="50.50" y2="229.75" stroke="#161616" stroke-width="1.15"/>
<text x="41.60" y="233.45" font-size="9.8" text-anchor="end" fill="#000" font-weight="normal">20</text>
<line x1="46.50" y1="244.11" x2="50.50" y2="244.11" stroke="#161616" stroke-width="1.15"/>
<text x="41.60" y="247.81" font-size="9.8" text-anchor="end" fill="#000" font-weight="normal">40</text>
<line x1="46.50" y1="258.46" x2="50.50" y2="258.46" stroke="#161616" stroke-width="1.15"/>
<text x="41.60" y="262.16" font-size="9.8" text-anchor="end" fill="#000" font-weight="normal">60</text>
<line x1="46.50" y1="272.82" x2="50.50" y2="272.82" stroke="#161616" stroke-width="1.15"/>
<text x="41.60" y="276.52" font-size="9.8" text-anchor="end" fill="#000" font-weight="normal">80</text>
<line x1="46.50" y1="287.17" x2="50.50" y2="287.17" stroke="#161616" stroke-width="1.15"/>
<text x="41.60" y="290.87" font-size="9.8" text-anchor="end" fill="#000" font-weight="normal">100</text>
<line x1="46.50" y1="301.52" x2="50.50" y2="301.52" stroke="#161616" stroke-width="1.15"/>
<text x="41.60" y="305.22" font-size="9.8" text-anchor="end" fill="#000" font-weight="normal">120</text>
<line x1="46.50" y1="315.88" x2="50.50" y2="315.88" stroke="#161616" stroke-width="1.15"/>
<text x="41.60" y="319.58" font-size="9.8" text-anchor="end" fill="#000" font-weight="normal">140</text>
<line x1="46.50" y1="330.23" x2="50.50" y2="330.23" stroke="#161616" stroke-width="1.15"/>
<text x="41.60" y="333.93" font-size="9.8" text-anchor="end" fill="#000" font-weight="normal">160</text>
<line x1="46.50" y1="344.59" x2="50.50" y2="344.59" stroke="#161616" stroke-width="1.15"/>
<text x="41.60" y="348.29" font-size="9.8" text-anchor="end" fill="#000" font-weight="normal">180</text>
<line x1="46.50" y1="358.94" x2="50.50" y2="358.94" stroke="#161616" stroke-width="1.15"/>
<text x="41.60" y="362.64" font-size="9.8" text-anchor="end" fill="#000" font-weight="normal">200</text>
<line x1="46.50" y1="373.29" x2="50.50" y2="373.29" stroke="#161616" stroke-width="1.15"/>
<text x="41.60" y="376.99" font-size="9.8" text-anchor="end" fill="#000" font-weight="normal">220</text>
<line x1="50.50" y1="373.29" x2="50.50" y2="377.29" stroke="#161616" stroke-width="1.15"/>
<text x="50.50" y="389.60" font-size="9.8" text-anchor="middle" fill="#000" font-weight="normal">0</text>
<line x1="70.40" y1="373.29" x2="70.40" y2="377.29" stroke="#161616" stroke-width="1.15"/>
<text x="70.40" y="389.60" font-size="9.8" text-anchor="middle" fill="#000" font-weight="normal">200</text>
<line x1="90.30" y1="373.29" x2="90.30" y2="377.29" stroke="#161616" stroke-width="1.15"/>
<text x="90.30" y="389.60" font-size="9.8" text-anchor="middle" fill="#000" font-weight="normal">400</text>
<polygon points="92.10,315.88 97.70,313.08 96.20,315.88 97.70,318.68" fill="#000"/>
<text x="125.00" y="210.10" font-size="12.2" text-anchor="middle" fill="#1f77b4" font-weight="normal">Y25_S6</text>
<rect x="130.08" y="229.75" width="4.97" height="43.06" fill="#ee7ab4"/>
<rect x="140.03" y="272.82" width="5.47" height="43.06" fill="#3a52a3"/>
<rect x="130.08" y="315.88" width="4.97" height="27.99" fill="#ee7ab4"/>
<rect x="140.03" y="344.59" width="5.47" height="28.71" fill="#3a52a3"/>
<path fill="#000" d="M122.6 220.4h.95v.8h-.95zM106.2 230.1h.95v.8h-.95zM112.1 230.1h.95v.8h-.95zM113.3 230.1h.95v.8h-.95zM114.3 230.1h.95v.8h-.95zM128.9 230.1h.95v.8h-.95zM131.6 230.1h.95v.8h-.95zM134.0 230.1h.95v.8h-.95zM142.9 230.1h.95v.8h-.95zM144.3 230.1h.95v.8h-.95zM128.1 229.8h.95v.8h-.95zM129.2 229.8h.95v.8h-.95zM128.2 229.8h.95v.8h-.95zM129.5 229.8h.95v.8h-.95zM128.4 230.5h.95v.8h-.95zM128.3 230.5h.95v.8h-.95zM129.3 230.5h.95v.8h-.95zM127.3 230.5h.95v.8h-.95zM128.4 230.5h.95v.8h-.95zM125.6 231.2h.95v.8h-.95zM127.2 231.2h.95v.8h-.95zM128.7 231.2h.95v.8h-.95zM127.1 231.9h.95v.8h-.95zM128.4 231.9h.95v.8h-.95zM128.3 231.9h.95v.8h-.95zM129.6 231.9h.95v.8h-.95zM126.3 233.4h.95v.8h-.95zM127.6 233.4h.95v.8h-.95zM129.0 233.4h.95v.8h-.95zM127.8 233.4h.95v.8h-.95zM129.1 233.4h.95v.8h-.95zM123.7 234.1h.95v.8h-.95zM125.3 234.1h.95v.8h-.95zM126.7 234.1h.95v.8h-.95zM127.9 234.1h.95v.8h-.95zM129.1 234.1h.95v.8h-.95zM126.9 234.1h.95v.8h-.95zM128.1 234.1h.95v.8h-.95zM129.6 234.1h.95v.8h-.95zM127.9 234.1h.95v.8h-.95zM128.1 234.8h.95v.8h-.95zM128.4 234.8h.95v.8h-.95zM128.2 236.2h.95v.8h-.95zM127.1 237.0h.95v.8h-.95zM128.2 237.0h.95v.8h-.95zM129.5 237.0h.95v.8h-.95zM128.4 237.0h.95v.8h-.95zM127.3 237.0h.95v.8h-.95zM128.8 237.0h.95v.8h-.95zM128.1 237.0h.95v.8h-.95zM129.4 237.0h.95v.8h-.95zM128.3 238.4h.95v.8h-.95zM127.9 239.1h.95v.8h-.95zM128.4 239.8h.95v.8h-.95zM129.5 239.8h.95v.8h-.95zM124.6 240.5h.95v.8h-.95zM125.7 240.5h.95v.8h-.95zM127.1 240.5h.95v.8h-.95zM128.6 240.5h.95v.8h-.95zM129.6 240.5h.95v.8h-.95zM127.3 241.3h.95v.8h-.95zM128.9 241.3h.95v.8h-.95zM127.2 241.3h.95v.8h-.95zM128.6 241.3h.95v.8h-.95zM129.6 241.3h.95v.8h-.95zM128.0 242.7h.95v.8h-.95zM129.4 242.7h.95v.8h-.95zM128.0 242.7h.95v.8h-.95zM129.2 242.7h.95v.8h-.95zM128.3 243.4h.95v.8h-.95zM127.5 243.4h.95v.8h-.95zM129.0 243.4h.95v.8h-.95zM128.6 244.1h.95v.8h-.95zM126.4 244.1h.95v.8h-.95zM127.9 244.1h.95v.8h-.95zM129.4 244.1h.95v.8h-.95zM126.2 244.1h.95v.8h-.95zM127.7 244.1h.95v.8h-.95zM128.8 244.1h.95v.8h-.95zM127.4 245.6h.95v.8h-.95zM128.5 245.6h.95v.8h-.95zM126.7 245.6h.95v.8h-.95zM128.2 245.6h.95v.8h-.95zM129.3 245.6h.95v.8h-.95zM128.4 246.3h.95v.8h-.95zM128.0 246.3h.95v.8h-.95zM129.3 246.3h.95v.8h-.95zM121.6 246.3h.95v.8h-.95zM122.9 246.3h.95v.8h-.95zM124.0 246.3h.95v.8h-.95zM125.2 246.3h.95v.8h-.95zM126.3 246.3h.95v.8h-.95zM127.8 246.3h.95v.8h-.95zM129.1 246.3h.95v.8h-.95zM124.7 247.0h.95v.8h-.95zM125.8 247.0h.95v.8h-.95zM126.8 247.0h.95v.8h-.95zM128.2 247.0h.95v.8h-.95zM129.4 247.0h.95v.8h-.95zM128.4 247.0h.95v.8h-.95zM128.9 247.0h.95v.8h-.95zM129.3 247.0h.95v.8h-.95zM126.6 247.7h.95v.8h-.95zM128.2 247.7h.95v.8h-.95zM129.3 247.7h.95v.8h-.95zM127.3 247.7h.95v.8h-.95zM128.7 247.7h.95v.8h-.95zM128.3 247.7h.95v.8h-.95zM129.4 247.7h.95v.8h-.95zM127.3 247.7h.95v.8h-.95zM128.5 247.7h.95v.8h-.95zM126.0 248.4h.95v.8h-.95zM127.1 248.4h.95v.8h-.95zM128.6 248.4h.95v.8h-.95zM128.0 248.4h.95v.8h-.95zM129.3 248.4h.95v.8h-.95zM126.2 249.9h.95v.8h-.95zM127.3 249.9h.95v.8h-.95zM128.8 249.9h.95v.8h-.95zM127.8 249.9h.95v.8h-.95zM127.8 250.6h.95v.8h-.95zM129.0 250.6h.95v.8h-.95zM120.9 250.6h.95v.8h-.95zM122.1 250.6h.95v.8h-.95zM123.1 250.6h.95v.8h-.95zM125.3 250.6h.95v.8h-.95zM126.5 250.6h.95v.8h-.95zM127.5 250.6h.95v.8h-.95zM128.8 250.6h.95v.8h-.95zM127.6 251.3h.95v.8h-.95zM129.1 251.3h.95v.8h-.95zM128.2 253.5h.95v.8h-.95zM127.6 253.5h.95v.8h-.95zM129.0 253.5h.95v.8h-.95zM127.9 254.9h.95v.8h-.95zM129.2 254.9h.95v.8h-.95zM128.2 254.9h.95v.8h-.95zM129.3 254.9h.95v.8h-.95zM128.5 254.9h.95v.8h-.95zM127.1 256.3h.95v.8h-.95zM128.1 256.3h.95v.8h-.95zM127.7 256.3h.95v.8h-.95zM129.0 256.3h.95v.8h-.95zM128.3 256.3h.95v.8h-.95zM129.5 256.3h.95v.8h-.95zM128.5 257.8h.95v.8h-.95zM126.0 258.5h.95v.8h-.95zM127.1 258.5h.95v.8h-.95zM128.4 258.5h.95v.8h-.95zM127.4 259.2h.95v.8h-.95zM128.7 259.2h.95v.8h-.95zM126.3 259.9h.95v.8h-.95zM127.9 259.9h.95v.8h-.95zM129.1 259.9h.95v.8h-.95zM127.7 259.9h.95v.8h-.95zM129.3 259.9h.95v.8h-.95zM127.4 260.6h.95v.8h-.95zM128.4 260.6h.95v.8h-.95zM127.4 262.8h.95v.8h-.95zM128.6 262.8h.95v.8h-.95zM127.5 262.8h.95v.8h-.95zM128.1 262.8h.95v.8h-.95zM128.2 262.8h.95v.8h-.95zM129.3 262.8h.95v.8h-.95zM128.2 262.8h.95v.8h-.95zM129.3 262.8h.95v.8h-.95zM126.3 262.8h.95v.8h-.95zM127.7 262.8h.95v.8h-.95zM129.1 262.8h.95v.8h-.95zM127.4 262.8h.95v.8h-.95zM128.6 262.8h.95v.8h-.95zM127.9 263.5h.95v.8h-.95zM129.3 263.5h.95v.8h-.95zM123.4 263.5h.95v.8h-.95zM124.4 263.5h.95v.8h-.95zM126.0 263.5h.95v.8h-.95zM127.0 263.5h.95v.8h-.95zM128.3 263.5h.95v.8h-.95zM129.3 263.5h.95v.8h-.95zM128.1 264.2h.95v.8h-.95zM129.5 264.2h.95v.8h-.95zM126.6 264.9h.95v.8h-.95zM127.7 264.9h.95v.8h-.95zM128.7 264.9h.95v.8h-.95zM127.6 264.9h.95v.8h-.95zM128.8 264.9h.95v.8h-.95zM127.5 264.9h.95v.8h-.95zM128.7 264.9h.95v.8h-.95zM127.9 264.9h.95v.8h-.95zM129.1 264.9h.95v.8h-.95zM128.2 265.7h.95v.8h-.95zM129.6 265.7h.95v.8h-.95zM128.0 265.7h.95v.8h-.95zM125.8 266.4h.95v.8h-.95zM127.1 266.4h.95v.8h-.95zM128.7 266.4h.95v.8h-.95zM128.0 267.1h.95v.8h-.95zM129.2 267.1h.95v.8h-.95zM127.8 267.1h.95v.8h-.95zM129.0 267.1h.95v.8h-.95zM125.9 267.1h.95v.8h-.95zM127.1 267.1h.95v.8h-.95zM128.7 267.1h.95v.8h-.95zM127.9 267.8h.95v.8h-.95zM129.3 267.8h.95v.8h-.95zM128.1 268.5h.95v.8h-.95zM129.2 268.5h.95v.8h-.95zM128.9 268.5h.95v.8h-.95zM126.7 268.5h.95v.8h-.95zM127.8 268.5h.95v.8h-.95zM129.3 268.5h.95v.8h-.95zM128.3 268.5h.95v.8h-.95zM129.4 268.5h.95v.8h-.95zM121.5 268.5h.95v.8h-.95zM122.6 268.5h.95v.8h-.95zM124.0 268.5h.95v.8h-.95zM125.1 268.5h.95v.8h-.95zM126.4 268.5h.95v.8h-.95zM127.8 268.5h.95v.8h-.95zM128.8 268.5h.95v.8h-.95zM128.4 269.2h.95v.8h-.95zM127.5 269.2h.95v.8h-.95zM128.8 269.2h.95v.8h-.95zM128.3 270.0h.95v.8h-.95zM128.0 270.0h.95v.8h-.95zM129.2 270.0h.95v.8h-.95zM127.6 270.0h.95v.8h-.95zM128.8 270.0h.95v.8h-.95zM126.7 270.7h.95v.8h-.95zM128.0 270.7h.95v.8h-.95zM129.5 270.7h.95v.8h-.95zM128.4 270.7h.95v.8h-.95zM137.1 231.2h.95v.8h-.95zM136.3 232.6h.95v.8h-.95zM137.4 232.6h.95v.8h-.95zM138.2 234.1h.95v.8h-.95zM139.8 234.1h.95v.8h-.95zM139.7 234.1h.95v.8h-.95zM143.7 234.8h.95v.8h-.95zM144.8 234.8h.95v.8h-.95zM139.8 235.5h.95v.8h-.95zM137.8 237.0h.95v.8h-.95zM138.9 237.0h.95v.8h-.95zM140.3 237.7h.95v.8h-.95zM141.5 237.7h.95v.8h-.95zM138.7 239.8h.95v.8h-.95zM140.3 239.8h.95v.8h-.95zM138.8 242.0h.95v.8h-.95zM140.0 242.0h.95v.8h-.95zM141.0 242.0h.95v.8h-.95zM135.1 242.7h.95v.8h-.95zM138.5 242.7h.95v.8h-.95zM137.2 244.1h.95v.8h-.95zM138.5 244.1h.95v.8h-.95zM142.5 244.1h.95v.8h-.95zM137.1 244.8h.95v.8h-.95zM141.6 245.6h.95v.8h-.95zM141.0 246.3h.95v.8h-.95zM140.1 246.3h.95v.8h-.95zM141.7 246.3h.95v.8h-.95zM135.3 247.0h.95v.8h-.95zM136.4 247.0h.95v.8h-.95zM107.6 252.7h.95v.8h-.95zM108.7 252.7h.95v.8h-.95zM111.2 252.7h.95v.8h-.95zM123.3 255.6h.95v.8h-.95zM118.6 257.8h.95v.8h-.95zM119.6 257.8h.95v.8h-.95zM106.2 275.7h.95v.8h-.95zM107.4 275.7h.95v.8h-.95zM108.6 275.7h.95v.8h-.95zM109.7 275.7h.95v.8h-.95zM135.1 272.8h.95v.8h-.95zM136.5 272.8h.95v.8h-.95zM132.4 273.6h.95v.8h-.95zM138.4 273.6h.95v.8h-.95zM139.8 273.6h.95v.8h-.95zM131.4 273.6h.95v.8h-.95zM132.8 273.6h.95v.8h-.95zM138.3 273.6h.95v.8h-.95zM139.6 273.6h.95v.8h-.95zM138.9 275.7h.95v.8h-.95zM131.2 275.7h.95v.8h-.95zM132.2 275.7h.95v.8h-.95zM134.7 275.7h.95v.8h-.95zM135.7 275.7h.95v.8h-.95zM136.8 275.7h.95v.8h-.95zM132.9 276.4h.95v.8h-.95zM134.1 276.4h.95v.8h-.95zM138.0 276.4h.95v.8h-.95zM139.2 276.4h.95v.8h-.95zM131.7 276.4h.95v.8h-.95zM136.9 277.1h.95v.8h-.95zM136.7 277.1h.95v.8h-.95zM128.8 277.1h.95v.8h-.95zM130.0 277.1h.95v.8h-.95zM131.4 277.1h.95v.8h-.95zM135.9 277.1h.95v.8h-.95zM137.0 277.1h.95v.8h-.95zM130.5 277.1h.95v.8h-.95zM131.5 277.1h.95v.8h-.95zM132.7 277.1h.95v.8h-.95zM132.2 277.1h.95v.8h-.95zM133.5 277.1h.95v.8h-.95zM134.6 277.9h.95v.8h-.95zM136.1 277.9h.95v.8h-.95zM139.4 279.3h.95v.8h-.95zM137.8 279.3h.95v.8h-.95zM133.1 280.7h.95v.8h-.95zM134.6 280.7h.95v.8h-.95zM137.6 281.4h.95v.8h-.95zM139.0 281.4h.95v.8h-.95zM135.4 281.4h.95v.8h-.95zM130.3 281.4h.95v.8h-.95zM134.7 282.2h.95v.8h-.95zM135.8 282.2h.95v.8h-.95zM136.8 282.2h.95v.8h-.95zM137.0 282.9h.95v.8h-.95zM138.6 282.9h.95v.8h-.95zM133.6 283.6h.95v.8h-.95zM138.0 283.6h.95v.8h-.95zM131.2 284.3h.95v.8h-.95zM132.7 284.3h.95v.8h-.95zM133.8 284.3h.95v.8h-.95zM138.8 284.3h.95v.8h-.95zM139.9 284.3h.95v.8h-.95zM133.7 285.0h.95v.8h-.95zM131.0 286.5h.95v.8h-.95zM132.2 286.5h.95v.8h-.95zM137.5 286.5h.95v.8h-.95zM133.8 287.2h.95v.8h-.95zM139.2 287.2h.95v.8h-.95zM137.5 287.2h.95v.8h-.95zM138.7 287.2h.95v.8h-.95zM129.5 287.2h.95v.8h-.95zM132.4 287.9h.95v.8h-.95zM133.5 287.9h.95v.8h-.95zM135.9 288.6h.95v.8h-.95zM137.0 288.6h.95v.8h-.95zM139.1 289.3h.95v.8h-.95zM136.1 289.3h.95v.8h-.95zM137.5 289.3h.95v.8h-.95zM129.7 289.3h.95v.8h-.95zM130.9 289.3h.95v.8h-.95zM132.1 290.8h.95v.8h-.95zM133.4 290.8h.95v.8h-.95zM138.1 292.2h.95v.8h-.95zM139.2 292.2h.95v.8h-.95zM139.8 292.2h.95v.8h-.95zM136.7 292.2h.95v.8h-.95zM137.9 292.2h.95v.8h-.95zM135.2 293.6h.95v.8h-.95zM136.5 293.6h.95v.8h-.95zM136.4 294.4h.95v.8h-.95zM137.4 294.4h.95v.8h-.95zM138.5 294.4h.95v.8h-.95zM138.2 294.4h.95v.8h-.95zM139.5 294.4h.95v.8h-.95zM137.5 295.1h.95v.8h-.95zM137.8 295.8h.95v.8h-.95zM139.0 295.8h.95v.8h-.95zM133.8 298.0h.95v.8h-.95zM135.3 298.0h.95v.8h-.95zM136.3 298.0h.95v.8h-.95zM135.3 298.0h.95v.8h-.95zM136.8 298.0h.95v.8h-.95zM128.8 299.4h.95v.8h-.95zM130.4 299.4h.95v.8h-.95zM133.6 299.4h.95v.8h-.95zM135.9 299.4h.95v.8h-.95zM129.5 300.1h.95v.8h-.95zM132.1 300.1h.95v.8h-.95zM133.4 300.1h.95v.8h-.95zM139.7 300.8h.95v.8h-.95zM138.6 300.8h.95v.8h-.95zM133.4 301.5h.95v.8h-.95zM134.5 301.5h.95v.8h-.95zM131.9 302.3h.95v.8h-.95zM133.4 302.3h.95v.8h-.95zM134.5 302.3h.95v.8h-.95zM133.0 302.3h.95v.8h-.95zM137.5 303.7h.95v.8h-.95zM138.7 305.1h.95v.8h-.95zM139.9 305.1h.95v.8h-.95zM129.1 305.1h.95v.8h-.95zM130.3 305.1h.95v.8h-.95zM135.1 305.9h.95v.8h-.95zM137.0 305.9h.95v.8h-.95zM130.5 305.9h.95v.8h-.95zM132.0 305.9h.95v.8h-.95zM131.5 306.6h.95v.8h-.95zM132.5 306.6h.95v.8h-.95zM135.8 306.6h.95v.8h-.95zM137.2 306.6h.95v.8h-.95zM137.3 306.6h.95v.8h-.95zM139.5 307.3h.95v.8h-.95zM136.3 308.7h.95v.8h-.95zM137.7 308.7h.95v.8h-.95zM138.8 308.7h.95v.8h-.95zM137.1 309.4h.95v.8h-.95zM138.4 309.4h.95v.8h-.95zM127.8 309.4h.95v.8h-.95zM129.1 309.4h.95v.8h-.95zM132.3 309.4h.95v.8h-.95zM133.5 309.4h.95v.8h-.95zM133.3 310.2h.95v.8h-.95zM134.5 310.2h.95v.8h-.95zM139.0 310.2h.95v.8h-.95zM131.0 310.9h.95v.8h-.95zM132.3 310.9h.95v.8h-.95zM133.8 310.9h.95v.8h-.95zM138.3 311.6h.95v.8h-.95zM139.3 311.6h.95v.8h-.95zM138.2 311.6h.95v.8h-.95zM134.8 313.0h.95v.8h-.95zM137.1 313.0h.95v.8h-.95zM138.6 313.0h.95v.8h-.95zM132.3 313.7h.95v.8h-.95zM133.5 313.7h.95v.8h-.95zM136.0 313.7h.95v.8h-.95zM132.4 314.5h.95v.8h-.95zM133.7 314.5h.95v.8h-.95zM134.9 314.5h.95v.8h-.95zM129.2 315.2h.95v.8h-.95zM130.6 315.2h.95v.8h-.95zM115.1 323.1h.95v.8h-.95zM116.4 323.1h.95v.8h-.95zM122.1 324.5h.95v.8h-.95zM123.5 324.5h.95v.8h-.95zM116.0 331.0h.95v.8h-.95zM117.1 331.0h.95v.8h-.95zM116.9 335.3h.95v.8h-.95zM118.6 335.3h.95v.8h-.95zM127.5 339.6h.95v.8h-.95zM128.6 339.6h.95v.8h-.95zM128.5 343.2h.95v.8h-.95zM129.7 343.2h.95v.8h-.95zM127.2 317.3h.95v.8h-.95zM128.5 317.3h.95v.8h-.95zM127.9 318.1h.95v.8h-.95zM126.0 319.5h.95v.8h-.95zM127.3 319.5h.95v.8h-.95zM128.7 319.5h.95v.8h-.95zM126.1 320.2h.95v.8h-.95zM127.2 320.2h.95v.8h-.95zM128.8 320.2h.95v.8h-.95zM128.4 321.6h.95v.8h-.95zM128.3 321.6h.95v.8h-.95zM126.2 322.4h.95v.8h-.95zM127.3 322.4h.95v.8h-.95zM128.9 322.4h.95v.8h-.95zM127.9 323.8h.95v.8h-.95zM129.3 323.8h.95v.8h-.95zM125.8 325.2h.95v.8h-.95zM127.1 325.2h.95v.8h-.95zM128.4 325.2h.95v.8h-.95zM127.8 325.9h.95v.8h-.95zM129.1 325.9h.95v.8h-.95zM126.1 327.4h.95v.8h-.95zM127.7 327.4h.95v.8h-.95zM129.3 327.4h.95v.8h-.95zM128.2 327.4h.95v.8h-.95zM128.5 328.8h.95v.8h-.95zM128.1 329.5h.95v.8h-.95zM129.1 329.5h.95v.8h-.95zM128.0 330.3h.95v.8h-.95zM129.1 330.3h.95v.8h-.95zM128.5 331.0h.95v.8h-.95zM127.9 331.0h.95v.8h-.95zM129.1 331.0h.95v.8h-.95zM128.4 331.7h.95v.8h-.95zM126.5 333.1h.95v.8h-.95zM127.8 333.1h.95v.8h-.95zM129.1 333.1h.95v.8h-.95zM128.4 333.8h.95v.8h-.95zM127.8 335.3h.95v.8h-.95zM129.2 335.3h.95v.8h-.95zM127.5 336.7h.95v.8h-.95zM128.7 336.7h.95v.8h-.95zM126.2 336.7h.95v.8h-.95zM127.4 336.7h.95v.8h-.95zM128.5 336.7h.95v.8h-.95zM128.2 337.4h.95v.8h-.95zM129.4 337.4h.95v.8h-.95zM127.8 338.1h.95v.8h-.95zM129.2 338.1h.95v.8h-.95zM127.5 338.1h.95v.8h-.95zM128.5 338.1h.95v.8h-.95zM128.3 339.6h.95v.8h-.95zM127.1 339.6h.95v.8h-.95zM128.4 339.6h.95v.8h-.95zM125.3 340.3h.95v.8h-.95zM127.8 340.3h.95v.8h-.95zM128.4 340.3h.95v.8h-.95zM128.0 341.7h.95v.8h-.95zM125.6 341.7h.95v.8h-.95zM126.7 341.7h.95v.8h-.95zM128.2 341.7h.95v.8h-.95zM128.0 342.5h.95v.8h-.95zM128.0 342.5h.95v.8h-.95zM129.2 342.5h.95v.8h-.95zM128.5 343.2h.95v.8h-.95zM127.4 343.2h.95v.8h-.95zM128.8 343.2h.95v.8h-.95zM131.2 344.6h.95v.8h-.95zM132.7 344.6h.95v.8h-.95zM135.1 345.3h.95v.8h-.95zM133.0 346.0h.95v.8h-.95zM136.5 346.0h.95v.8h-.95zM136.5 346.8h.95v.8h-.95zM137.8 346.8h.95v.8h-.95zM135.8 346.8h.95v.8h-.95zM135.4 346.8h.95v.8h-.95zM137.0 346.8h.95v.8h-.95zM139.3 348.2h.95v.8h-.95zM133.5 348.9h.95v.8h-.95zM134.7 348.9h.95v.8h-.95zM135.8 348.9h.95v.8h-.95zM139.4 349.6h.95v.8h-.95zM130.2 349.6h.95v.8h-.95zM131.7 349.6h.95v.8h-.95zM135.0 349.6h.95v.8h-.95zM136.4 349.6h.95v.8h-.95zM137.6 349.6h.95v.8h-.95zM134.5 349.6h.95v.8h-.95zM136.1 349.6h.95v.8h-.95zM131.7 350.3h.95v.8h-.95zM133.3 350.3h.95v.8h-.95zM130.0 351.1h.95v.8h-.95zM131.3 351.1h.95v.8h-.95zM133.3 351.1h.95v.8h-.95zM131.7 351.1h.95v.8h-.95zM133.2 351.1h.95v.8h-.95zM139.2 351.1h.95v.8h-.95zM135.3 351.1h.95v.8h-.95zM136.6 351.1h.95v.8h-.95zM137.6 351.1h.95v.8h-.95zM139.2 351.8h.95v.8h-.95zM137.9 351.8h.95v.8h-.95zM139.5 351.8h.95v.8h-.95zM136.6 351.8h.95v.8h-.95zM137.8 351.8h.95v.8h-.95zM139.0 351.8h.95v.8h-.95zM136.6 351.8h.95v.8h-.95zM137.9 351.8h.95v.8h-.95zM136.6 352.5h.95v.8h-.95zM138.2 352.5h.95v.8h-.95zM138.1 352.5h.95v.8h-.95zM139.2 352.5h.95v.8h-.95zM135.9 353.2h.95v.8h-.95zM137.0 353.2h.95v.8h-.95zM138.1 353.2h.95v.8h-.95zM137.9 353.2h.95v.8h-.95zM138.9 353.2h.95v.8h-.95zM131.9 354.7h.95v.8h-.95zM138.1 355.4h.95v.8h-.95zM135.5 356.1h.95v.8h-.95zM136.7 356.1h.95v.8h-.95zM137.7 356.8h.95v.8h-.95zM134.9 358.2h.95v.8h-.95zM134.5 358.2h.95v.8h-.95zM130.7 359.0h.95v.8h-.95zM131.8 359.0h.95v.8h-.95zM134.1 359.0h.95v.8h-.95zM135.2 359.0h.95v.8h-.95zM130.9 359.7h.95v.8h-.95zM136.2 359.7h.95v.8h-.95zM137.3 359.7h.95v.8h-.95zM132.4 359.7h.95v.8h-.95zM138.8 359.7h.95v.8h-.95zM139.9 359.7h.95v.8h-.95zM139.2 359.7h.95v.8h-.95zM138.1 359.7h.95v.8h-.95zM134.9 359.7h.95v.8h-.95zM138.0 360.4h.95v.8h-.95zM139.0 360.4h.95v.8h-.95zM133.3 360.4h.95v.8h-.95zM134.4 360.4h.95v.8h-.95zM128.4 360.4h.95v.8h-.95zM131.5 361.1h.95v.8h-.95zM132.6 361.1h.95v.8h-.95zM133.6 361.1h.95v.8h-.95zM135.7 361.1h.95v.8h-.95zM137.0 361.1h.95v.8h-.95zM137.0 362.5h.95v.8h-.95zM133.5 364.0h.95v.8h-.95zM134.9 364.0h.95v.8h-.95zM135.9 364.0h.95v.8h-.95zM137.9 364.0h.95v.8h-.95zM130.0 364.7h.95v.8h-.95zM137.9 365.4h.95v.8h-.95zM139.0 365.4h.95v.8h-.95zM139.0 365.4h.95v.8h-.95zM128.5 366.1h.95v.8h-.95zM133.6 366.1h.95v.8h-.95zM138.2 366.1h.95v.8h-.95zM139.2 366.1h.95v.8h-.95zM137.2 366.9h.95v.8h-.95zM138.3 366.9h.95v.8h-.95zM139.4 366.9h.95v.8h-.95zM128.5 367.6h.95v.8h-.95zM135.0 367.6h.95v.8h-.95zM136.4 367.6h.95v.8h-.95zM138.7 367.6h.95v.8h-.95zM139.7 367.6h.95v.8h-.95zM139.2 368.3h.95v.8h-.95zM132.3 368.3h.95v.8h-.95zM133.4 368.3h.95v.8h-.95zM131.6 369.0h.95v.8h-.95zM132.7 369.0h.95v.8h-.95zM132.7 369.0h.95v.8h-.95zM134.2 369.0h.95v.8h-.95zM129.1 369.0h.95v.8h-.95zM130.5 369.0h.95v.8h-.95zM139.4 369.0h.95v.8h-.95zM135.2 369.0h.95v.8h-.95zM136.8 369.0h.95v.8h-.95zM128.8 369.0h.95v.8h-.95zM134.1 370.4h.95v.8h-.95zM135.5 370.4h.95v.8h-.95zM131.7 370.4h.95v.8h-.95zM131.7 370.4h.95v.8h-.95zM133.1 370.4h.95v.8h-.95zM134.4 370.4h.95v.8h-.95zM109.5 347.5h.95v.8h-.95zM110.6 347.5h.95v.8h-.95zM117.4 351.1h.95v.8h-.95zM114.9 356.1h.95v.8h-.95zM116.0 356.1h.95v.8h-.95zM114.8 356.8h.95v.8h-.95zM115.9 356.8h.95v.8h-.95zM115.8 358.2h.95v.8h-.95z"/>
<rect x="105.70" y="215.40" width="39.80" height="157.89" fill="none" stroke="#161616" stroke-width="1.2"/>
<line x1="101.70" y1="215.40" x2="105.70" y2="215.40" stroke="#161616" stroke-width="1.15"/>
<line x1="101.70" y1="229.75" x2="105.70" y2="229.75" stroke="#161616" stroke-width="1.15"/>
<line x1="101.70" y1="244.11" x2="105.70" y2="244.11" stroke="#161616" stroke-width="1.15"/>
<line x1="101.70" y1="258.46" x2="105.70" y2="258.46" stroke="#161616" stroke-width="1.15"/>
<line x1="101.70" y1="272.82" x2="105.70" y2="272.82" stroke="#161616" stroke-width="1.15"/>
<line x1="101.70" y1="287.17" x2="105.70" y2="287.17" stroke="#161616" stroke-width="1.15"/>
<line x1="101.70" y1="301.52" x2="105.70" y2="301.52" stroke="#161616" stroke-width="1.15"/>
<line x1="101.70" y1="315.88" x2="105.70" y2="315.88" stroke="#161616" stroke-width="1.15"/>
<line x1="101.70" y1="330.23" x2="105.70" y2="330.23" stroke="#161616" stroke-width="1.15"/>
<line x1="101.70" y1="344.59" x2="105.70" y2="344.59" stroke="#161616" stroke-width="1.15"/>
<line x1="101.70" y1="358.94" x2="105.70" y2="358.94" stroke="#161616" stroke-width="1.15"/>
<line x1="101.70" y1="373.29" x2="105.70" y2="373.29" stroke="#161616" stroke-width="1.15"/>
<line x1="105.70" y1="373.29" x2="105.70" y2="377.29" stroke="#161616" stroke-width="1.15"/>
<text x="105.70" y="389.60" font-size="9.8" text-anchor="middle" fill="#000" font-weight="normal">0</text>
<line x1="125.60" y1="373.29" x2="125.60" y2="377.29" stroke="#161616" stroke-width="1.15"/>
<text x="125.60" y="389.60" font-size="9.8" text-anchor="middle" fill="#000" font-weight="normal">200</text>
<line x1="145.50" y1="373.29" x2="145.50" y2="377.29" stroke="#161616" stroke-width="1.15"/>
<text x="145.50" y="389.60" font-size="9.8" text-anchor="middle" fill="#000" font-weight="normal">400</text>
<polygon points="147.30,315.88 152.90,313.08 151.40,315.88 152.90,318.68" fill="#000"/>
<text x="179.80" y="210.10" font-size="12.2" text-anchor="middle" fill="#2ca02c" font-weight="normal">MA8_S1</text>
<rect x="194.83" y="229.75" width="5.17" height="43.06" fill="#ee7ab4"/>
<rect x="184.88" y="272.82" width="4.97" height="43.06" fill="#3a52a3"/>
<rect x="194.83" y="315.88" width="5.17" height="30.14" fill="#ee7ab4"/>
<rect x="184.88" y="346.74" width="4.97" height="26.55" fill="#3a52a3"/>
<path fill="#000" d="M179.1 219.0h.95v.8h-.95zM180.1 219.0h.95v.8h-.95zM164.9 220.4h.95v.8h-.95zM170.5 221.2h.95v.8h-.95zM168.6 222.6h.95v.8h-.95zM169.7 222.6h.95v.8h-.95zM179.1 222.6h.95v.8h-.95zM180.4 222.6h.95v.8h-.95zM183.4 229.8h.95v.8h-.95zM184.7 229.8h.95v.8h-.95zM169.3 229.8h.95v.8h-.95zM170.7 229.8h.95v.8h-.95zM193.2 229.8h.95v.8h-.95zM170.1 229.8h.95v.8h-.95zM171.2 229.8h.95v.8h-.95zM167.9 229.8h.95v.8h-.95zM169.5 229.8h.95v.8h-.95zM170.9 229.8h.95v.8h-.95zM169.3 229.8h.95v.8h-.95zM170.9 229.8h.95v.8h-.95zM175.1 230.5h.95v.8h-.95zM176.1 230.5h.95v.8h-.95zM189.2 230.5h.95v.8h-.95zM176.7 230.5h.95v.8h-.95zM177.8 230.5h.95v.8h-.95zM166.1 230.5h.95v.8h-.95zM167.6 230.5h.95v.8h-.95zM167.1 230.5h.95v.8h-.95zM168.4 230.5h.95v.8h-.95zM169.8 230.5h.95v.8h-.95zM170.5 230.5h.95v.8h-.95zM172.6 230.5h.95v.8h-.95zM173.8 230.5h.95v.8h-.95zM190.7 230.5h.95v.8h-.95zM192.2 230.5h.95v.8h-.95zM178.7 230.5h.95v.8h-.95zM184.7 231.2h.95v.8h-.95zM185.9 231.2h.95v.8h-.95zM164.0 231.2h.95v.8h-.95zM165.2 231.2h.95v.8h-.95zM166.7 231.2h.95v.8h-.95zM184.2 231.2h.95v.8h-.95zM186.8 231.2h.95v.8h-.95zM193.6 231.2h.95v.8h-.95zM186.1 231.2h.95v.8h-.95zM187.6 231.2h.95v.8h-.95zM168.7 231.2h.95v.8h-.95zM169.8 231.2h.95v.8h-.95zM165.5 231.2h.95v.8h-.95zM176.1 231.2h.95v.8h-.95zM177.2 231.2h.95v.8h-.95zM189.0 231.9h.95v.8h-.95zM190.5 231.9h.95v.8h-.95zM191.7 231.9h.95v.8h-.95zM185.8 231.9h.95v.8h-.95zM186.8 231.9h.95v.8h-.95zM161.6 231.9h.95v.8h-.95zM166.4 231.9h.95v.8h-.95zM167.7 231.9h.95v.8h-.95zM169.0 231.9h.95v.8h-.95zM163.3 231.9h.95v.8h-.95zM164.4 231.9h.95v.8h-.95zM170.3 231.9h.95v.8h-.95zM171.5 231.9h.95v.8h-.95zM163.2 231.9h.95v.8h-.95zM164.4 231.9h.95v.8h-.95zM188.2 231.9h.95v.8h-.95zM189.6 231.9h.95v.8h-.95zM191.0 231.9h.95v.8h-.95zM169.2 231.9h.95v.8h-.95zM166.1 231.9h.95v.8h-.95zM167.2 231.9h.95v.8h-.95zM170.2 231.9h.95v.8h-.95zM171.6 231.9h.95v.8h-.95zM170.2 232.6h.95v.8h-.95zM171.7 232.6h.95v.8h-.95zM193.6 232.6h.95v.8h-.95zM194.8 232.6h.95v.8h-.95zM181.9 232.6h.95v.8h-.95zM166.6 232.6h.95v.8h-.95zM167.8 232.6h.95v.8h-.95zM168.9 232.6h.95v.8h-.95zM170.2 232.6h.95v.8h-.95zM179.2 232.6h.95v.8h-.95zM180.3 232.6h.95v.8h-.95zM181.6 232.6h.95v.8h-.95zM168.9 232.6h.95v.8h-.95zM170.4 232.6h.95v.8h-.95zM177.8 232.6h.95v.8h-.95zM179.1 232.6h.95v.8h-.95zM163.8 232.6h.95v.8h-.95zM165.2 232.6h.95v.8h-.95zM166.2 232.6h.95v.8h-.95zM171.1 233.4h.95v.8h-.95zM172.2 233.4h.95v.8h-.95zM173.3 233.4h.95v.8h-.95zM167.2 233.4h.95v.8h-.95zM168.4 233.4h.95v.8h-.95zM169.6 233.4h.95v.8h-.95zM170.8 233.4h.95v.8h-.95zM193.5 233.4h.95v.8h-.95zM194.8 233.4h.95v.8h-.95zM166.9 233.4h.95v.8h-.95zM186.4 234.1h.95v.8h-.95zM187.7 234.1h.95v.8h-.95zM180.8 234.1h.95v.8h-.95zM191.6 234.1h.95v.8h-.95zM193.1 234.1h.95v.8h-.95zM194.3 234.1h.95v.8h-.95zM173.3 234.1h.95v.8h-.95zM182.8 234.1h.95v.8h-.95zM186.8 234.1h.95v.8h-.95zM188.2 234.1h.95v.8h-.95zM189.7 234.1h.95v.8h-.95zM172.8 234.1h.95v.8h-.95zM174.3 234.1h.95v.8h-.95zM175.8 234.1h.95v.8h-.95zM187.7 234.8h.95v.8h-.95zM188.9 234.8h.95v.8h-.95zM190.0 234.8h.95v.8h-.95zM191.0 234.8h.95v.8h-.95zM163.9 234.8h.95v.8h-.95zM165.0 234.8h.95v.8h-.95zM188.4 234.8h.95v.8h-.95zM189.8 234.8h.95v.8h-.95zM191.0 234.8h.95v.8h-.95zM171.9 234.8h.95v.8h-.95zM173.0 234.8h.95v.8h-.95zM174.5 234.8h.95v.8h-.95zM175.4 234.8h.95v.8h-.95zM176.6 234.8h.95v.8h-.95zM165.7 234.8h.95v.8h-.95zM167.0 234.8h.95v.8h-.95zM168.5 234.8h.95v.8h-.95zM179.0 234.8h.95v.8h-.95zM180.3 234.8h.95v.8h-.95zM181.7 234.8h.95v.8h-.95zM191.1 234.8h.95v.8h-.95zM192.3 234.8h.95v.8h-.95zM193.9 234.8h.95v.8h-.95zM195.1 234.8h.95v.8h-.95zM192.0 235.5h.95v.8h-.95zM193.5 235.5h.95v.8h-.95zM168.4 235.5h.95v.8h-.95zM191.7 235.5h.95v.8h-.95zM193.2 235.5h.95v.8h-.95zM194.3 235.5h.95v.8h-.95zM175.7 235.5h.95v.8h-.95zM176.9 235.5h.95v.8h-.95zM178.2 235.5h.95v.8h-.95zM161.7 235.5h.95v.8h-.95zM163.1 235.5h.95v.8h-.95zM178.8 235.5h.95v.8h-.95zM168.3 235.5h.95v.8h-.95zM169.7 235.5h.95v.8h-.95zM172.9 235.5h.95v.8h-.95zM174.0 235.5h.95v.8h-.95zM166.3 235.5h.95v.8h-.95zM167.9 235.5h.95v.8h-.95zM166.9 236.2h.95v.8h-.95zM168.0 236.2h.95v.8h-.95zM167.7 236.2h.95v.8h-.95zM169.2 236.2h.95v.8h-.95zM177.3 236.2h.95v.8h-.95zM178.4 236.2h.95v.8h-.95zM185.0 236.2h.95v.8h-.95zM186.2 236.2h.95v.8h-.95zM187.4 236.2h.95v.8h-.95zM188.7 236.2h.95v.8h-.95zM180.7 236.2h.95v.8h-.95zM173.8 237.0h.95v.8h-.95zM175.1 237.0h.95v.8h-.95zM175.0 237.0h.95v.8h-.95zM176.5 237.0h.95v.8h-.95zM172.3 237.0h.95v.8h-.95zM173.5 237.0h.95v.8h-.95zM174.8 237.0h.95v.8h-.95zM182.9 237.0h.95v.8h-.95zM184.1 237.0h.95v.8h-.95zM170.2 237.0h.95v.8h-.95zM170.7 237.0h.95v.8h-.95zM171.8 237.0h.95v.8h-.95zM168.0 237.0h.95v.8h-.95zM169.1 237.0h.95v.8h-.95zM170.3 237.0h.95v.8h-.95zM192.5 237.0h.95v.8h-.95zM193.9 237.0h.95v.8h-.95zM164.6 237.0h.95v.8h-.95zM167.0 237.0h.95v.8h-.95zM168.1 237.0h.95v.8h-.95zM195.2 237.7h.95v.8h-.95zM170.7 237.7h.95v.8h-.95zM171.8 237.7h.95v.8h-.95zM173.0 237.7h.95v.8h-.95zM179.3 237.7h.95v.8h-.95zM180.5 237.7h.95v.8h-.95zM181.9 237.7h.95v.8h-.95zM181.6 237.7h.95v.8h-.95zM183.2 237.7h.95v.8h-.95zM180.3 237.7h.95v.8h-.95zM181.5 237.7h.95v.8h-.95zM183.9 238.4h.95v.8h-.95zM192.6 238.4h.95v.8h-.95zM193.8 238.4h.95v.8h-.95zM188.0 238.4h.95v.8h-.95zM189.6 238.4h.95v.8h-.95zM190.8 238.4h.95v.8h-.95zM182.0 238.4h.95v.8h-.95zM183.3 238.4h.95v.8h-.95zM164.3 238.4h.95v.8h-.95zM165.4 238.4h.95v.8h-.95zM168.1 238.4h.95v.8h-.95zM190.7 239.1h.95v.8h-.95zM191.8 239.1h.95v.8h-.95zM164.8 239.1h.95v.8h-.95zM165.9 239.1h.95v.8h-.95zM167.1 239.1h.95v.8h-.95zM193.1 239.1h.95v.8h-.95zM194.4 239.1h.95v.8h-.95zM176.8 239.1h.95v.8h-.95zM178.4 239.1h.95v.8h-.95zM179.4 239.1h.95v.8h-.95zM169.8 239.8h.95v.8h-.95zM171.1 239.8h.95v.8h-.95zM172.6 239.8h.95v.8h-.95zM177.1 239.8h.95v.8h-.95zM178.5 239.8h.95v.8h-.95zM167.7 239.8h.95v.8h-.95zM168.8 239.8h.95v.8h-.95zM174.1 239.8h.95v.8h-.95zM182.6 239.8h.95v.8h-.95zM183.9 239.8h.95v.8h-.95zM188.5 239.8h.95v.8h-.95zM189.6 239.8h.95v.8h-.95zM177.3 240.5h.95v.8h-.95zM178.5 240.5h.95v.8h-.95zM181.2 240.5h.95v.8h-.95zM167.4 240.5h.95v.8h-.95zM168.6 240.5h.95v.8h-.95zM165.7 240.5h.95v.8h-.95zM173.6 240.5h.95v.8h-.95zM175.0 240.5h.95v.8h-.95zM176.4 240.5h.95v.8h-.95zM180.0 241.3h.95v.8h-.95zM181.1 241.3h.95v.8h-.95zM185.8 241.3h.95v.8h-.95zM186.8 241.3h.95v.8h-.95zM180.5 241.3h.95v.8h-.95zM181.2 241.3h.95v.8h-.95zM182.4 241.3h.95v.8h-.95zM183.9 241.3h.95v.8h-.95zM170.5 241.3h.95v.8h-.95zM172.9 241.3h.95v.8h-.95zM173.9 241.3h.95v.8h-.95zM194.8 242.0h.95v.8h-.95zM185.8 242.0h.95v.8h-.95zM187.4 242.0h.95v.8h-.95zM188.4 242.0h.95v.8h-.95zM181.2 242.0h.95v.8h-.95zM182.5 242.0h.95v.8h-.95zM183.9 242.0h.95v.8h-.95zM162.0 242.0h.95v.8h-.95zM163.1 242.0h.95v.8h-.95zM189.1 242.0h.95v.8h-.95zM190.4 242.0h.95v.8h-.95zM164.3 242.7h.95v.8h-.95zM165.6 242.7h.95v.8h-.95zM178.7 242.7h.95v.8h-.95zM179.8 242.7h.95v.8h-.95zM182.4 242.7h.95v.8h-.95zM163.0 242.7h.95v.8h-.95zM166.7 242.7h.95v.8h-.95zM168.0 242.7h.95v.8h-.95zM169.1 242.7h.95v.8h-.95zM178.6 242.7h.95v.8h-.95zM179.9 242.7h.95v.8h-.95zM191.7 242.7h.95v.8h-.95zM168.1 242.7h.95v.8h-.95zM172.7 242.7h.95v.8h-.95zM173.9 242.7h.95v.8h-.95zM175.9 242.7h.95v.8h-.95zM192.8 243.4h.95v.8h-.95zM193.9 243.4h.95v.8h-.95zM194.9 243.4h.95v.8h-.95zM180.9 243.4h.95v.8h-.95zM182.3 243.4h.95v.8h-.95zM183.4 243.4h.95v.8h-.95zM184.4 243.4h.95v.8h-.95zM173.2 243.4h.95v.8h-.95zM174.6 243.4h.95v.8h-.95zM176.2 243.4h.95v.8h-.95zM164.6 243.4h.95v.8h-.95zM165.9 243.4h.95v.8h-.95zM167.5 243.4h.95v.8h-.95zM174.2 243.4h.95v.8h-.95zM175.3 243.4h.95v.8h-.95zM191.9 243.4h.95v.8h-.95zM168.1 243.4h.95v.8h-.95zM169.3 243.4h.95v.8h-.95zM170.6 243.4h.95v.8h-.95zM187.3 244.1h.95v.8h-.95zM188.6 244.1h.95v.8h-.95zM190.2 244.1h.95v.8h-.95zM171.2 244.1h.95v.8h-.95zM172.7 244.1h.95v.8h-.95zM168.6 244.1h.95v.8h-.95zM169.8 244.1h.95v.8h-.95zM186.1 244.1h.95v.8h-.95zM187.5 244.1h.95v.8h-.95zM182.8 244.1h.95v.8h-.95zM183.8 244.1h.95v.8h-.95zM184.0 244.1h.95v.8h-.95zM185.1 244.1h.95v.8h-.95zM186.2 244.1h.95v.8h-.95zM187.6 244.1h.95v.8h-.95zM170.5 244.1h.95v.8h-.95zM172.1 244.1h.95v.8h-.95zM192.4 244.8h.95v.8h-.95zM193.9 244.8h.95v.8h-.95zM195.2 244.8h.95v.8h-.95zM175.3 244.8h.95v.8h-.95zM170.1 244.8h.95v.8h-.95zM161.9 244.8h.95v.8h-.95zM163.1 244.8h.95v.8h-.95zM167.8 244.8h.95v.8h-.95zM171.3 244.8h.95v.8h-.95zM172.9 244.8h.95v.8h-.95zM178.6 245.6h.95v.8h-.95zM179.8 245.6h.95v.8h-.95zM192.9 245.6h.95v.8h-.95zM181.2 245.6h.95v.8h-.95zM182.7 245.6h.95v.8h-.95zM188.5 245.6h.95v.8h-.95zM189.7 245.6h.95v.8h-.95zM189.7 245.6h.95v.8h-.95zM191.2 245.6h.95v.8h-.95zM192.3 245.6h.95v.8h-.95zM164.6 246.3h.95v.8h-.95zM165.9 246.3h.95v.8h-.95zM186.1 246.3h.95v.8h-.95zM187.4 246.3h.95v.8h-.95zM168.5 246.3h.95v.8h-.95zM169.7 246.3h.95v.8h-.95zM171.1 246.3h.95v.8h-.95zM165.3 246.3h.95v.8h-.95zM166.5 246.3h.95v.8h-.95zM168.0 246.3h.95v.8h-.95zM188.0 247.0h.95v.8h-.95zM189.2 247.0h.95v.8h-.95zM190.2 247.0h.95v.8h-.95zM184.4 247.0h.95v.8h-.95zM185.6 247.0h.95v.8h-.95zM186.7 247.0h.95v.8h-.95zM170.2 247.0h.95v.8h-.95zM171.5 247.0h.95v.8h-.95zM172.8 247.0h.95v.8h-.95zM166.0 247.0h.95v.8h-.95zM167.1 247.0h.95v.8h-.95zM179.8 247.0h.95v.8h-.95zM181.1 247.0h.95v.8h-.95zM182.4 247.0h.95v.8h-.95zM186.7 247.0h.95v.8h-.95zM188.3 247.0h.95v.8h-.95zM165.1 247.0h.95v.8h-.95zM170.5 247.0h.95v.8h-.95zM172.0 247.0h.95v.8h-.95zM173.0 247.0h.95v.8h-.95zM172.8 247.7h.95v.8h-.95zM165.5 247.7h.95v.8h-.95zM190.6 247.7h.95v.8h-.95zM192.1 247.7h.95v.8h-.95zM193.7 247.7h.95v.8h-.95zM182.0 247.7h.95v.8h-.95zM183.4 247.7h.95v.8h-.95zM184.9 247.7h.95v.8h-.95zM193.5 247.7h.95v.8h-.95zM195.0 247.7h.95v.8h-.95zM174.8 247.7h.95v.8h-.95zM176.3 247.7h.95v.8h-.95zM176.7 248.4h.95v.8h-.95zM178.1 248.4h.95v.8h-.95zM174.6 248.4h.95v.8h-.95zM175.9 248.4h.95v.8h-.95zM177.1 248.4h.95v.8h-.95zM178.3 248.4h.95v.8h-.95zM178.9 248.4h.95v.8h-.95zM180.1 248.4h.95v.8h-.95zM181.3 248.4h.95v.8h-.95zM191.3 248.4h.95v.8h-.95zM192.6 248.4h.95v.8h-.95zM173.4 248.4h.95v.8h-.95zM175.0 248.4h.95v.8h-.95zM176.4 248.4h.95v.8h-.95zM185.2 249.2h.95v.8h-.95zM182.1 249.2h.95v.8h-.95zM183.5 249.2h.95v.8h-.95zM185.8 249.2h.95v.8h-.95zM187.3 249.2h.95v.8h-.95zM176.4 249.2h.95v.8h-.95zM186.6 249.9h.95v.8h-.95zM187.9 249.9h.95v.8h-.95zM189.3 249.9h.95v.8h-.95zM186.1 249.9h.95v.8h-.95zM187.6 249.9h.95v.8h-.95zM188.6 249.9h.95v.8h-.95zM178.2 249.9h.95v.8h-.95zM179.3 249.9h.95v.8h-.95zM181.7 249.9h.95v.8h-.95zM182.7 249.9h.95v.8h-.95zM183.7 249.9h.95v.8h-.95zM184.8 249.9h.95v.8h-.95zM194.9 249.9h.95v.8h-.95zM194.1 250.6h.95v.8h-.95zM190.7 250.6h.95v.8h-.95zM191.8 250.6h.95v.8h-.95zM193.4 250.6h.95v.8h-.95zM186.3 250.6h.95v.8h-.95zM187.5 250.6h.95v.8h-.95zM171.2 250.6h.95v.8h-.95zM172.8 250.6h.95v.8h-.95zM176.5 251.3h.95v.8h-.95zM177.9 251.3h.95v.8h-.95zM179.2 251.3h.95v.8h-.95zM180.7 251.3h.95v.8h-.95zM181.9 251.3h.95v.8h-.95zM186.0 251.3h.95v.8h-.95zM187.4 251.3h.95v.8h-.95zM189.0 251.3h.95v.8h-.95zM181.6 251.3h.95v.8h-.95zM182.9 251.3h.95v.8h-.95zM186.7 251.3h.95v.8h-.95zM194.5 251.3h.95v.8h-.95zM183.7 252.0h.95v.8h-.95zM185.0 252.0h.95v.8h-.95zM186.1 252.0h.95v.8h-.95zM183.1 252.0h.95v.8h-.95zM184.2 252.0h.95v.8h-.95zM185.5 252.0h.95v.8h-.95zM186.9 252.0h.95v.8h-.95zM188.5 252.0h.95v.8h-.95zM189.6 252.0h.95v.8h-.95zM181.8 252.0h.95v.8h-.95zM182.8 252.0h.95v.8h-.95zM185.3 252.7h.95v.8h-.95zM186.6 252.7h.95v.8h-.95zM192.1 252.7h.95v.8h-.95zM189.2 253.5h.95v.8h-.95zM190.4 253.5h.95v.8h-.95zM191.5 253.5h.95v.8h-.95zM186.9 253.5h.95v.8h-.95zM188.3 253.5h.95v.8h-.95zM184.8 253.5h.95v.8h-.95zM186.1 253.5h.95v.8h-.95zM176.5 254.2h.95v.8h-.95zM178.0 254.2h.95v.8h-.95zM179.1 254.2h.95v.8h-.95zM180.2 254.2h.95v.8h-.95zM176.2 254.2h.95v.8h-.95zM177.2 254.2h.95v.8h-.95zM178.3 254.2h.95v.8h-.95zM189.1 254.2h.95v.8h-.95zM182.2 254.2h.95v.8h-.95zM183.6 254.2h.95v.8h-.95zM182.5 254.2h.95v.8h-.95zM185.2 254.2h.95v.8h-.95zM184.1 254.2h.95v.8h-.95zM185.5 254.2h.95v.8h-.95zM187.1 254.2h.95v.8h-.95zM178.6 254.2h.95v.8h-.95zM179.8 254.2h.95v.8h-.95zM181.3 254.2h.95v.8h-.95zM188.7 254.2h.95v.8h-.95zM190.0 254.2h.95v.8h-.95zM172.4 254.2h.95v.8h-.95zM173.5 254.2h.95v.8h-.95zM192.3 254.2h.95v.8h-.95zM193.5 254.2h.95v.8h-.95zM192.5 254.9h.95v.8h-.95zM194.1 254.9h.95v.8h-.95zM189.5 255.6h.95v.8h-.95zM190.7 255.6h.95v.8h-.95zM192.3 255.6h.95v.8h-.95zM189.6 256.3h.95v.8h-.95zM190.9 256.3h.95v.8h-.95zM192.0 256.3h.95v.8h-.95zM182.4 256.3h.95v.8h-.95zM183.8 256.3h.95v.8h-.95zM187.2 256.3h.95v.8h-.95zM188.5 256.3h.95v.8h-.95zM190.1 256.3h.95v.8h-.95zM172.7 257.0h.95v.8h-.95zM173.9 257.0h.95v.8h-.95zM175.4 257.0h.95v.8h-.95zM186.4 257.0h.95v.8h-.95zM189.0 257.0h.95v.8h-.95zM166.9 257.0h.95v.8h-.95zM168.4 257.0h.95v.8h-.95zM190.9 257.0h.95v.8h-.95zM192.1 257.0h.95v.8h-.95zM193.4 257.0h.95v.8h-.95zM181.4 257.0h.95v.8h-.95zM182.4 257.0h.95v.8h-.95zM183.0 257.0h.95v.8h-.95zM184.6 257.0h.95v.8h-.95zM186.0 257.0h.95v.8h-.95zM182.0 257.0h.95v.8h-.95zM183.0 257.0h.95v.8h-.95zM184.7 257.0h.95v.8h-.95zM186.2 257.0h.95v.8h-.95zM173.0 257.0h.95v.8h-.95zM174.6 257.0h.95v.8h-.95zM175.6 257.0h.95v.8h-.95zM190.6 257.8h.95v.8h-.95zM194.9 257.8h.95v.8h-.95zM189.9 257.8h.95v.8h-.95zM191.2 257.8h.95v.8h-.95zM192.5 257.8h.95v.8h-.95zM166.4 257.8h.95v.8h-.95zM167.5 257.8h.95v.8h-.95zM188.3 257.8h.95v.8h-.95zM189.5 257.8h.95v.8h-.95zM190.9 257.8h.95v.8h-.95zM183.0 257.8h.95v.8h-.95zM181.0 257.8h.95v.8h-.95zM182.3 257.8h.95v.8h-.95zM183.9 257.8h.95v.8h-.95zM180.5 258.5h.95v.8h-.95zM181.7 258.5h.95v.8h-.95zM173.3 258.5h.95v.8h-.95zM174.4 258.5h.95v.8h-.95zM175.9 258.5h.95v.8h-.95zM191.5 258.5h.95v.8h-.95zM193.0 258.5h.95v.8h-.95zM190.7 258.5h.95v.8h-.95zM193.4 258.5h.95v.8h-.95zM180.0 258.5h.95v.8h-.95zM181.5 258.5h.95v.8h-.95zM182.7 258.5h.95v.8h-.95zM173.9 258.5h.95v.8h-.95zM175.0 258.5h.95v.8h-.95zM176.4 258.5h.95v.8h-.95zM190.7 258.5h.95v.8h-.95zM191.8 258.5h.95v.8h-.95zM192.8 259.2h.95v.8h-.95zM194.3 259.2h.95v.8h-.95zM171.4 259.2h.95v.8h-.95zM173.0 259.2h.95v.8h-.95zM168.1 259.2h.95v.8h-.95zM169.6 259.2h.95v.8h-.95zM179.1 259.9h.95v.8h-.95zM180.3 259.9h.95v.8h-.95zM181.8 259.9h.95v.8h-.95zM183.2 259.9h.95v.8h-.95zM184.7 259.9h.95v.8h-.95zM172.4 259.9h.95v.8h-.95zM173.5 259.9h.95v.8h-.95zM184.5 259.9h.95v.8h-.95zM186.0 259.9h.95v.8h-.95zM193.6 260.6h.95v.8h-.95zM192.2 260.6h.95v.8h-.95zM193.7 260.6h.95v.8h-.95zM195.2 260.6h.95v.8h-.95zM176.3 260.6h.95v.8h-.95zM178.4 260.6h.95v.8h-.95zM188.1 260.6h.95v.8h-.95zM189.1 260.6h.95v.8h-.95zM188.1 260.6h.95v.8h-.95zM175.3 260.6h.95v.8h-.95zM176.7 260.6h.95v.8h-.95zM177.8 260.6h.95v.8h-.95zM179.1 260.6h.95v.8h-.95zM186.4 260.6h.95v.8h-.95zM187.5 260.6h.95v.8h-.95zM170.5 261.4h.95v.8h-.95zM173.2 261.4h.95v.8h-.95zM186.2 261.4h.95v.8h-.95zM187.2 261.4h.95v.8h-.95zM188.2 261.4h.95v.8h-.95zM179.0 261.4h.95v.8h-.95zM180.1 261.4h.95v.8h-.95zM183.8 261.4h.95v.8h-.95zM185.3 261.4h.95v.8h-.95zM186.7 261.4h.95v.8h-.95zM176.0 261.4h.95v.8h-.95zM177.4 261.4h.95v.8h-.95zM178.4 261.4h.95v.8h-.95zM179.6 261.4h.95v.8h-.95zM183.6 261.4h.95v.8h-.95zM185.0 261.4h.95v.8h-.95zM186.2 261.4h.95v.8h-.95zM192.8 262.1h.95v.8h-.95zM190.7 262.1h.95v.8h-.95zM192.2 262.1h.95v.8h-.95zM184.7 262.1h.95v.8h-.95zM184.3 262.1h.95v.8h-.95zM190.6 262.1h.95v.8h-.95zM192.1 262.1h.95v.8h-.95zM193.2 262.1h.95v.8h-.95zM189.9 262.1h.95v.8h-.95zM191.1 262.1h.95v.8h-.95zM189.9 262.1h.95v.8h-.95zM191.4 262.1h.95v.8h-.95zM174.4 262.1h.95v.8h-.95zM194.3 262.8h.95v.8h-.95zM183.6 262.8h.95v.8h-.95zM185.1 262.8h.95v.8h-.95zM183.3 262.8h.95v.8h-.95zM181.0 262.8h.95v.8h-.95zM182.1 262.8h.95v.8h-.95zM188.5 262.8h.95v.8h-.95zM189.8 262.8h.95v.8h-.95zM184.0 262.8h.95v.8h-.95zM185.4 262.8h.95v.8h-.95zM186.6 262.8h.95v.8h-.95zM187.7 263.5h.95v.8h-.95zM189.0 263.5h.95v.8h-.95zM190.1 263.5h.95v.8h-.95zM194.8 263.5h.95v.8h-.95zM187.6 264.2h.95v.8h-.95zM188.7 264.2h.95v.8h-.95zM178.7 264.2h.95v.8h-.95zM192.8 264.9h.95v.8h-.95zM194.2 264.9h.95v.8h-.95zM177.9 264.9h.95v.8h-.95zM179.1 264.9h.95v.8h-.95zM180.4 264.9h.95v.8h-.95zM194.1 264.9h.95v.8h-.95zM192.3 264.9h.95v.8h-.95zM193.3 264.9h.95v.8h-.95zM193.0 264.9h.95v.8h-.95zM177.2 264.9h.95v.8h-.95zM178.6 264.9h.95v.8h-.95zM180.1 264.9h.95v.8h-.95zM192.3 264.9h.95v.8h-.95zM193.8 264.9h.95v.8h-.95zM179.0 264.9h.95v.8h-.95zM180.1 264.9h.95v.8h-.95zM181.7 264.9h.95v.8h-.95zM191.0 265.7h.95v.8h-.95zM186.9 265.7h.95v.8h-.95zM186.3 266.4h.95v.8h-.95zM187.9 266.4h.95v.8h-.95zM174.2 266.4h.95v.8h-.95zM175.3 266.4h.95v.8h-.95zM193.9 266.4h.95v.8h-.95zM195.3 266.4h.95v.8h-.95zM183.1 266.4h.95v.8h-.95zM184.5 266.4h.95v.8h-.95zM185.9 266.4h.95v.8h-.95zM190.9 267.1h.95v.8h-.95zM192.4 267.1h.95v.8h-.95zM189.8 267.1h.95v.8h-.95zM191.2 267.1h.95v.8h-.95zM192.3 267.1h.95v.8h-.95zM185.8 267.1h.95v.8h-.95zM187.1 267.1h.95v.8h-.95zM174.3 267.1h.95v.8h-.95zM175.5 267.1h.95v.8h-.95zM176.7 267.1h.95v.8h-.95zM193.2 267.1h.95v.8h-.95zM194.5 267.1h.95v.8h-.95zM181.6 267.8h.95v.8h-.95zM183.1 267.8h.95v.8h-.95zM186.3 267.8h.95v.8h-.95zM176.7 267.8h.95v.8h-.95zM178.0 267.8h.95v.8h-.95zM179.6 267.8h.95v.8h-.95zM188.7 267.8h.95v.8h-.95zM190.2 267.8h.95v.8h-.95zM181.5 267.8h.95v.8h-.95zM182.6 267.8h.95v.8h-.95zM180.3 267.8h.95v.8h-.95zM183.0 267.8h.95v.8h-.95zM185.4 267.8h.95v.8h-.95zM186.6 267.8h.95v.8h-.95zM187.7 267.8h.95v.8h-.95zM191.8 268.5h.95v.8h-.95zM180.5 268.5h.95v.8h-.95zM181.7 268.5h.95v.8h-.95zM185.3 268.5h.95v.8h-.95zM195.2 268.5h.95v.8h-.95zM182.5 268.5h.95v.8h-.95zM183.7 268.5h.95v.8h-.95zM187.6 268.5h.95v.8h-.95zM188.8 268.5h.95v.8h-.95zM181.0 270.0h.95v.8h-.95zM182.2 270.0h.95v.8h-.95zM183.4 270.0h.95v.8h-.95zM191.9 270.0h.95v.8h-.95zM193.5 270.0h.95v.8h-.95zM194.5 270.0h.95v.8h-.95zM182.2 270.0h.95v.8h-.95zM183.5 270.0h.95v.8h-.95zM192.8 270.7h.95v.8h-.95zM194.0 270.7h.95v.8h-.95zM177.9 270.7h.95v.8h-.95zM179.4 270.7h.95v.8h-.95zM182.7 270.7h.95v.8h-.95zM184.3 270.7h.95v.8h-.95zM179.8 271.4h.95v.8h-.95zM181.1 271.4h.95v.8h-.95zM182.6 271.4h.95v.8h-.95zM181.8 271.4h.95v.8h-.95zM183.1 271.4h.95v.8h-.95zM186.5 271.4h.95v.8h-.95zM187.5 271.4h.95v.8h-.95zM188.9 271.4h.95v.8h-.95zM190.1 271.4h.95v.8h-.95zM191.5 271.4h.95v.8h-.95zM179.8 272.1h.95v.8h-.95zM181.0 272.1h.95v.8h-.95zM185.3 272.1h.95v.8h-.95zM187.7 272.1h.95v.8h-.95zM188.8 272.1h.95v.8h-.95zM189.9 272.1h.95v.8h-.95zM191.1 272.1h.95v.8h-.95zM177.9 272.1h.95v.8h-.95zM179.3 272.1h.95v.8h-.95zM180.5 272.1h.95v.8h-.95zM190.4 272.1h.95v.8h-.95zM191.5 272.1h.95v.8h-.95zM162.7 273.2h.95v.8h-.95zM165.5 273.2h.95v.8h-.95zM167.0 273.2h.95v.8h-.95zM169.8 273.2h.95v.8h-.95zM172.5 273.2h.95v.8h-.95zM173.5 273.2h.95v.8h-.95zM175.1 273.2h.95v.8h-.95zM176.6 273.2h.95v.8h-.95zM177.9 273.2h.95v.8h-.95zM181.3 273.2h.95v.8h-.95zM164.5 273.9h.95v.8h-.95zM165.5 273.9h.95v.8h-.95zM167.0 273.9h.95v.8h-.95zM169.4 273.9h.95v.8h-.95zM172.2 273.9h.95v.8h-.95zM179.9 273.9h.95v.8h-.95zM184.0 274.3h.95v.8h-.95zM181.9 275.0h.95v.8h-.95zM183.5 275.0h.95v.8h-.95zM184.5 275.0h.95v.8h-.95zM179.8 275.7h.95v.8h-.95zM175.9 275.7h.95v.8h-.95zM178.9 275.7h.95v.8h-.95zM180.0 275.7h.95v.8h-.95zM175.2 277.1h.95v.8h-.95zM176.4 277.1h.95v.8h-.95zM181.9 277.9h.95v.8h-.95zM183.1 277.9h.95v.8h-.95zM184.4 277.9h.95v.8h-.95zM183.6 277.9h.95v.8h-.95zM185.1 277.9h.95v.8h-.95zM176.2 277.9h.95v.8h-.95zM177.4 277.9h.95v.8h-.95zM178.8 277.9h.95v.8h-.95zM180.3 277.9h.95v.8h-.95zM184.7 278.6h.95v.8h-.95zM181.3 278.6h.95v.8h-.95zM185.0 278.6h.95v.8h-.95zM181.7 279.3h.95v.8h-.95zM183.2 279.3h.95v.8h-.95zM177.0 279.3h.95v.8h-.95zM178.4 279.3h.95v.8h-.95zM180.5 279.3h.95v.8h-.95zM185.0 280.0h.95v.8h-.95zM184.8 280.7h.95v.8h-.95zM177.7 280.7h.95v.8h-.95zM178.8 280.7h.95v.8h-.95zM179.8 280.7h.95v.8h-.95zM181.2 280.7h.95v.8h-.95zM178.2 280.7h.95v.8h-.95zM179.5 280.7h.95v.8h-.95zM180.5 280.7h.95v.8h-.95zM171.6 280.7h.95v.8h-.95zM173.1 280.7h.95v.8h-.95zM174.2 280.7h.95v.8h-.95zM178.1 281.4h.95v.8h-.95zM179.6 281.4h.95v.8h-.95zM180.7 281.4h.95v.8h-.95zM175.3 281.4h.95v.8h-.95zM176.6 281.4h.95v.8h-.95zM177.8 281.4h.95v.8h-.95zM181.9 282.2h.95v.8h-.95zM183.3 282.2h.95v.8h-.95zM184.4 282.2h.95v.8h-.95zM178.7 282.2h.95v.8h-.95zM180.1 282.2h.95v.8h-.95zM181.2 282.2h.95v.8h-.95zM182.5 282.2h.95v.8h-.95zM180.9 282.9h.95v.8h-.95zM184.8 282.9h.95v.8h-.95zM174.6 282.9h.95v.8h-.95zM175.9 282.9h.95v.8h-.95zM169.3 283.6h.95v.8h-.95zM170.3 283.6h.95v.8h-.95zM173.6 283.6h.95v.8h-.95zM175.2 283.6h.95v.8h-.95zM176.5 283.6h.95v.8h-.95zM177.7 283.6h.95v.8h-.95zM178.7 283.6h.95v.8h-.95zM175.7 284.3h.95v.8h-.95zM176.8 284.3h.95v.8h-.95zM178.0 284.3h.95v.8h-.95zM179.3 284.3h.95v.8h-.95zM184.2 284.3h.95v.8h-.95zM183.3 285.0h.95v.8h-.95zM184.4 285.0h.95v.8h-.95zM176.5 285.8h.95v.8h-.95zM179.6 285.8h.95v.8h-.95zM183.0 286.5h.95v.8h-.95zM184.1 286.5h.95v.8h-.95zM185.1 286.5h.95v.8h-.95zM177.5 287.2h.95v.8h-.95zM180.2 287.2h.95v.8h-.95zM182.8 287.2h.95v.8h-.95zM184.0 287.2h.95v.8h-.95zM179.4 287.2h.95v.8h-.95zM181.8 287.9h.95v.8h-.95zM183.3 287.9h.95v.8h-.95zM184.6 287.9h.95v.8h-.95zM169.6 287.9h.95v.8h-.95zM170.6 287.9h.95v.8h-.95zM182.1 287.9h.95v.8h-.95zM183.6 287.9h.95v.8h-.95zM184.9 287.9h.95v.8h-.95zM184.7 288.6h.95v.8h-.95zM168.7 288.6h.95v.8h-.95zM171.4 288.6h.95v.8h-.95zM184.8 289.3h.95v.8h-.95zM174.1 289.3h.95v.8h-.95zM175.1 289.3h.95v.8h-.95zM176.1 289.3h.95v.8h-.95zM177.3 289.3h.95v.8h-.95zM178.3 289.3h.95v.8h-.95zM176.2 290.1h.95v.8h-.95zM177.6 290.1h.95v.8h-.95zM174.3 290.1h.95v.8h-.95zM175.4 290.1h.95v.8h-.95zM177.0 290.1h.95v.8h-.95zM178.3 290.1h.95v.8h-.95zM179.3 290.1h.95v.8h-.95zM180.7 290.1h.95v.8h-.95zM165.7 290.8h.95v.8h-.95zM167.3 290.8h.95v.8h-.95zM168.7 290.8h.95v.8h-.95zM169.9 290.8h.95v.8h-.95zM171.4 290.8h.95v.8h-.95zM177.2 290.8h.95v.8h-.95zM178.6 290.8h.95v.8h-.95zM179.7 290.8h.95v.8h-.95zM180.8 290.8h.95v.8h-.95zM181.9 290.8h.95v.8h-.95zM183.1 290.8h.95v.8h-.95zM179.6 291.5h.95v.8h-.95zM180.7 291.5h.95v.8h-.95zM181.9 291.5h.95v.8h-.95zM170.0 291.5h.95v.8h-.95zM171.3 291.5h.95v.8h-.95zM172.4 291.5h.95v.8h-.95zM169.7 291.5h.95v.8h-.95zM171.1 291.5h.95v.8h-.95zM173.5 291.5h.95v.8h-.95zM174.8 291.5h.95v.8h-.95zM180.1 292.2h.95v.8h-.95zM181.5 292.2h.95v.8h-.95zM183.0 292.2h.95v.8h-.95zM183.4 292.2h.95v.8h-.95zM184.6 292.2h.95v.8h-.95zM184.4 292.2h.95v.8h-.95zM178.7 292.2h.95v.8h-.95zM179.7 292.2h.95v.8h-.95zM180.8 292.2h.95v.8h-.95zM182.0 292.2h.95v.8h-.95zM179.5 292.2h.95v.8h-.95zM180.6 292.2h.95v.8h-.95zM182.1 292.2h.95v.8h-.95zM176.1 292.2h.95v.8h-.95zM177.6 292.2h.95v.8h-.95zM178.7 292.2h.95v.8h-.95zM179.9 292.2h.95v.8h-.95zM180.2 292.2h.95v.8h-.95zM181.5 292.2h.95v.8h-.95zM182.7 292.2h.95v.8h-.95zM184.3 292.2h.95v.8h-.95zM184.2 293.6h.95v.8h-.95zM174.1 293.6h.95v.8h-.95zM175.7 293.6h.95v.8h-.95zM176.8 293.6h.95v.8h-.95zM177.8 293.6h.95v.8h-.95zM179.3 293.6h.95v.8h-.95zM180.8 293.6h.95v.8h-.95zM182.3 293.6h.95v.8h-.95zM179.1 294.4h.95v.8h-.95zM180.6 294.4h.95v.8h-.95zM172.2 294.4h.95v.8h-.95zM173.3 294.4h.95v.8h-.95zM174.8 294.4h.95v.8h-.95zM176.1 294.4h.95v.8h-.95zM183.7 295.1h.95v.8h-.95zM184.8 295.1h.95v.8h-.95zM178.5 295.1h.95v.8h-.95zM179.9 295.1h.95v.8h-.95zM181.1 295.1h.95v.8h-.95zM177.3 295.8h.95v.8h-.95zM179.9 295.8h.95v.8h-.95zM183.9 295.8h.95v.8h-.95zM185.1 295.8h.95v.8h-.95zM184.8 296.5h.95v.8h-.95zM183.8 297.2h.95v.8h-.95zM184.8 297.2h.95v.8h-.95zM184.7 297.2h.95v.8h-.95zM179.3 297.2h.95v.8h-.95zM180.7 297.2h.95v.8h-.95zM181.9 297.2h.95v.8h-.95zM183.3 297.2h.95v.8h-.95zM182.8 298.7h.95v.8h-.95zM184.4 298.7h.95v.8h-.95zM173.9 298.7h.95v.8h-.95zM175.3 298.7h.95v.8h-.95zM164.9 298.7h.95v.8h-.95zM166.1 298.7h.95v.8h-.95zM167.1 298.7h.95v.8h-.95zM168.7 298.7h.95v.8h-.95zM170.0 298.7h.95v.8h-.95zM171.4 298.7h.95v.8h-.95zM179.4 298.7h.95v.8h-.95zM180.7 298.7h.95v.8h-.95zM174.7 298.7h.95v.8h-.95zM177.3 298.7h.95v.8h-.95zM178.6 298.7h.95v.8h-.95zM179.8 298.7h.95v.8h-.95zM176.1 299.4h.95v.8h-.95zM177.2 299.4h.95v.8h-.95zM178.3 299.4h.95v.8h-.95zM179.8 299.4h.95v.8h-.95zM175.5 299.4h.95v.8h-.95zM176.8 299.4h.95v.8h-.95zM178.3 299.4h.95v.8h-.95zM176.3 299.4h.95v.8h-.95zM177.4 299.4h.95v.8h-.95zM178.4 299.4h.95v.8h-.95zM179.8 299.4h.95v.8h-.95zM182.8 300.1h.95v.8h-.95zM183.8 300.1h.95v.8h-.95zM185.0 300.1h.95v.8h-.95zM180.1 300.1h.95v.8h-.95zM181.7 300.1h.95v.8h-.95zM183.0 300.1h.95v.8h-.95zM180.8 301.5h.95v.8h-.95zM182.4 301.5h.95v.8h-.95zM183.4 301.5h.95v.8h-.95zM184.8 301.5h.95v.8h-.95zM178.4 302.3h.95v.8h-.95zM179.4 302.3h.95v.8h-.95zM180.9 302.3h.95v.8h-.95zM182.0 302.3h.95v.8h-.95zM183.6 302.3h.95v.8h-.95zM178.6 303.0h.95v.8h-.95zM179.6 303.0h.95v.8h-.95zM181.1 303.0h.95v.8h-.95zM182.1 303.0h.95v.8h-.95zM183.7 303.0h.95v.8h-.95zM173.0 303.7h.95v.8h-.95zM174.3 303.7h.95v.8h-.95zM175.7 303.7h.95v.8h-.95zM185.0 304.4h.95v.8h-.95zM184.0 305.1h.95v.8h-.95zM181.9 305.1h.95v.8h-.95zM183.1 305.1h.95v.8h-.95zM184.3 305.1h.95v.8h-.95zM175.1 305.9h.95v.8h-.95zM176.6 305.9h.95v.8h-.95zM177.7 305.9h.95v.8h-.95zM179.2 305.9h.95v.8h-.95zM180.2 305.9h.95v.8h-.95zM181.6 305.9h.95v.8h-.95zM181.7 306.6h.95v.8h-.95zM183.2 306.6h.95v.8h-.95zM166.3 307.3h.95v.8h-.95zM169.3 307.3h.95v.8h-.95zM175.4 307.3h.95v.8h-.95zM176.8 307.3h.95v.8h-.95zM177.9 307.3h.95v.8h-.95zM179.2 307.3h.95v.8h-.95zM180.7 307.3h.95v.8h-.95zM176.9 307.3h.95v.8h-.95zM178.3 307.3h.95v.8h-.95zM176.8 308.0h.95v.8h-.95zM178.1 308.0h.95v.8h-.95zM179.2 308.0h.95v.8h-.95zM176.8 308.7h.95v.8h-.95zM178.4 308.7h.95v.8h-.95zM183.4 309.4h.95v.8h-.95zM185.0 309.4h.95v.8h-.95zM178.0 309.4h.95v.8h-.95zM179.5 309.4h.95v.8h-.95zM180.7 309.4h.95v.8h-.95zM182.1 309.4h.95v.8h-.95zM181.0 311.6h.95v.8h-.95zM182.4 311.6h.95v.8h-.95zM184.7 311.6h.95v.8h-.95zM182.0 311.6h.95v.8h-.95zM183.4 311.6h.95v.8h-.95zM184.8 311.6h.95v.8h-.95zM176.2 311.6h.95v.8h-.95zM178.4 311.6h.95v.8h-.95zM179.6 311.6h.95v.8h-.95zM181.2 311.6h.95v.8h-.95zM182.4 311.6h.95v.8h-.95zM179.5 312.3h.95v.8h-.95zM180.6 312.3h.95v.8h-.95zM182.0 312.3h.95v.8h-.95zM183.8 312.3h.95v.8h-.95zM184.9 312.3h.95v.8h-.95zM182.4 312.3h.95v.8h-.95zM183.6 312.3h.95v.8h-.95zM171.6 312.3h.95v.8h-.95zM173.1 312.3h.95v.8h-.95zM174.5 312.3h.95v.8h-.95zM176.0 312.3h.95v.8h-.95zM181.4 313.0h.95v.8h-.95zM182.6 313.0h.95v.8h-.95zM183.9 313.0h.95v.8h-.95zM178.0 313.0h.95v.8h-.95zM179.1 313.0h.95v.8h-.95zM174.6 313.7h.95v.8h-.95zM176.0 313.7h.95v.8h-.95zM183.0 313.7h.95v.8h-.95zM184.4 313.7h.95v.8h-.95zM171.4 313.7h.95v.8h-.95zM172.5 313.7h.95v.8h-.95zM174.7 314.5h.95v.8h-.95zM176.2 314.5h.95v.8h-.95zM182.8 275.0h.95v.8h-.95zM184.1 275.0h.95v.8h-.95zM180.6 275.0h.95v.8h-.95zM181.7 275.0h.95v.8h-.95zM182.9 275.0h.95v.8h-.95zM184.0 275.0h.95v.8h-.95zM183.2 275.0h.95v.8h-.95zM184.5 275.0h.95v.8h-.95zM182.3 277.1h.95v.8h-.95zM183.7 277.1h.95v.8h-.95zM184.8 277.1h.95v.8h-.95zM182.8 277.9h.95v.8h-.95zM184.4 277.9h.95v.8h-.95zM182.2 280.0h.95v.8h-.95zM183.3 280.0h.95v.8h-.95zM184.4 280.0h.95v.8h-.95zM183.7 280.0h.95v.8h-.95zM183.5 280.7h.95v.8h-.95zM183.5 280.7h.95v.8h-.95zM182.4 281.4h.95v.8h-.95zM183.5 281.4h.95v.8h-.95zM182.0 282.2h.95v.8h-.95zM183.5 282.2h.95v.8h-.95zM182.8 283.6h.95v.8h-.95zM184.1 283.6h.95v.8h-.95zM183.6 283.6h.95v.8h-.95zM183.4 283.6h.95v.8h-.95zM184.5 283.6h.95v.8h-.95zM182.8 283.6h.95v.8h-.95zM184.4 283.6h.95v.8h-.95zM182.0 284.3h.95v.8h-.95zM183.6 284.3h.95v.8h-.95zM181.5 287.2h.95v.8h-.95zM183.0 287.2h.95v.8h-.95zM184.2 287.2h.95v.8h-.95zM182.8 287.2h.95v.8h-.95zM184.1 287.2h.95v.8h-.95zM182.6 287.2h.95v.8h-.95zM184.0 287.2h.95v.8h-.95zM182.3 287.9h.95v.8h-.95zM183.4 287.9h.95v.8h-.95zM184.5 287.9h.95v.8h-.95zM183.0 290.1h.95v.8h-.95zM184.1 290.1h.95v.8h-.95zM183.5 290.8h.95v.8h-.95zM183.4 291.5h.95v.8h-.95zM183.6 291.5h.95v.8h-.95zM181.5 292.2h.95v.8h-.95zM182.8 292.2h.95v.8h-.95zM184.1 292.2h.95v.8h-.95zM181.0 292.2h.95v.8h-.95zM183.5 292.9h.95v.8h-.95zM183.1 296.5h.95v.8h-.95zM183.4 297.2h.95v.8h-.95zM184.5 297.2h.95v.8h-.95zM181.4 297.2h.95v.8h-.95zM182.5 297.2h.95v.8h-.95zM183.8 297.2h.95v.8h-.95zM181.7 298.0h.95v.8h-.95zM182.9 298.0h.95v.8h-.95zM183.9 298.0h.95v.8h-.95zM182.7 298.7h.95v.8h-.95zM183.7 298.7h.95v.8h-.95zM183.4 299.4h.95v.8h-.95zM184.6 299.4h.95v.8h-.95zM179.6 300.8h.95v.8h-.95zM180.9 300.8h.95v.8h-.95zM182.3 300.8h.95v.8h-.95zM183.8 300.8h.95v.8h-.95zM181.7 301.5h.95v.8h-.95zM182.7 301.5h.95v.8h-.95zM183.9 301.5h.95v.8h-.95zM182.6 301.5h.95v.8h-.95zM182.6 302.3h.95v.8h-.95zM183.8 302.3h.95v.8h-.95zM181.8 302.3h.95v.8h-.95zM183.1 302.3h.95v.8h-.95zM184.1 302.3h.95v.8h-.95zM183.1 303.7h.95v.8h-.95zM179.7 304.4h.95v.8h-.95zM181.2 304.4h.95v.8h-.95zM182.6 304.4h.95v.8h-.95zM183.6 304.4h.95v.8h-.95zM182.5 304.4h.95v.8h-.95zM184.0 304.4h.95v.8h-.95zM183.1 305.9h.95v.8h-.95zM184.6 305.9h.95v.8h-.95zM183.2 305.9h.95v.8h-.95zM184.3 305.9h.95v.8h-.95zM180.5 305.9h.95v.8h-.95zM181.9 305.9h.95v.8h-.95zM184.6 305.9h.95v.8h-.95zM182.9 307.3h.95v.8h-.95zM184.4 307.3h.95v.8h-.95zM180.9 308.0h.95v.8h-.95zM182.4 308.0h.95v.8h-.95zM183.8 308.0h.95v.8h-.95zM183.1 308.0h.95v.8h-.95zM184.4 308.0h.95v.8h-.95zM183.3 308.7h.95v.8h-.95zM182.9 309.4h.95v.8h-.95zM183.2 311.6h.95v.8h-.95zM184.3 311.6h.95v.8h-.95zM181.1 314.5h.95v.8h-.95zM182.3 314.5h.95v.8h-.95zM183.3 314.5h.95v.8h-.95zM183.2 314.5h.95v.8h-.95zM184.2 314.5h.95v.8h-.95zM162.9 316.3h.95v.8h-.95zM164.2 316.3h.95v.8h-.95zM169.6 316.3h.95v.8h-.95zM171.0 316.3h.95v.8h-.95zM172.4 316.3h.95v.8h-.95zM173.6 316.3h.95v.8h-.95zM174.7 316.3h.95v.8h-.95zM177.5 316.3h.95v.8h-.95zM180.1 316.3h.95v.8h-.95zM183.0 316.3h.95v.8h-.95zM185.5 316.3h.95v.8h-.95zM186.7 316.3h.95v.8h-.95zM188.0 316.3h.95v.8h-.95zM192.4 316.3h.95v.8h-.95zM192.3 316.6h.95v.8h-.95zM193.5 316.6h.95v.8h-.95zM193.9 316.6h.95v.8h-.95zM195.1 316.6h.95v.8h-.95zM183.6 316.6h.95v.8h-.95zM184.7 316.6h.95v.8h-.95zM192.7 317.3h.95v.8h-.95zM193.9 317.3h.95v.8h-.95zM177.8 317.3h.95v.8h-.95zM179.1 317.3h.95v.8h-.95zM180.3 317.3h.95v.8h-.95zM181.9 317.3h.95v.8h-.95zM174.7 317.3h.95v.8h-.95zM176.2 317.3h.95v.8h-.95zM177.3 317.3h.95v.8h-.95zM178.4 317.3h.95v.8h-.95zM179.4 317.3h.95v.8h-.95zM177.6 318.1h.95v.8h-.95zM178.6 318.1h.95v.8h-.95zM180.0 318.1h.95v.8h-.95zM172.5 318.1h.95v.8h-.95zM173.8 318.1h.95v.8h-.95zM182.0 318.1h.95v.8h-.95zM183.4 318.1h.95v.8h-.95zM172.2 318.1h.95v.8h-.95zM173.7 318.1h.95v.8h-.95zM189.6 318.8h.95v.8h-.95zM191.1 318.8h.95v.8h-.95zM192.3 318.8h.95v.8h-.95zM187.9 319.5h.95v.8h-.95zM189.2 319.5h.95v.8h-.95zM190.4 319.5h.95v.8h-.95zM186.2 319.5h.95v.8h-.95zM187.5 319.5h.95v.8h-.95zM188.9 319.5h.95v.8h-.95zM189.8 319.5h.95v.8h-.95zM191.1 319.5h.95v.8h-.95zM190.0 319.5h.95v.8h-.95zM191.4 319.5h.95v.8h-.95zM193.0 319.5h.95v.8h-.95zM179.4 319.5h.95v.8h-.95zM193.8 320.2h.95v.8h-.95zM194.8 320.2h.95v.8h-.95zM174.5 320.2h.95v.8h-.95zM176.1 320.2h.95v.8h-.95zM192.1 320.2h.95v.8h-.95zM183.6 320.2h.95v.8h-.95zM184.8 320.2h.95v.8h-.95zM185.4 320.9h.95v.8h-.95zM176.5 320.9h.95v.8h-.95zM177.8 320.9h.95v.8h-.95zM190.2 320.9h.95v.8h-.95zM191.5 320.9h.95v.8h-.95zM172.9 320.9h.95v.8h-.95zM176.4 320.9h.95v.8h-.95zM178.0 320.9h.95v.8h-.95zM179.4 320.9h.95v.8h-.95zM185.4 321.6h.95v.8h-.95zM186.7 321.6h.95v.8h-.95zM188.2 321.6h.95v.8h-.95zM189.4 321.6h.95v.8h-.95zM189.2 321.6h.95v.8h-.95zM183.9 321.6h.95v.8h-.95zM185.4 321.6h.95v.8h-.95zM191.9 322.4h.95v.8h-.95zM193.0 322.4h.95v.8h-.95zM194.3 322.4h.95v.8h-.95zM180.2 322.4h.95v.8h-.95zM181.7 322.4h.95v.8h-.95zM185.4 322.4h.95v.8h-.95zM186.4 322.4h.95v.8h-.95zM187.5 322.4h.95v.8h-.95zM193.3 322.4h.95v.8h-.95zM194.8 322.4h.95v.8h-.95zM192.6 323.1h.95v.8h-.95zM187.0 323.1h.95v.8h-.95zM188.1 323.8h.95v.8h-.95zM189.4 323.8h.95v.8h-.95zM190.7 323.8h.95v.8h-.95zM194.7 323.8h.95v.8h-.95zM173.7 323.8h.95v.8h-.95zM174.8 323.8h.95v.8h-.95zM176.4 323.8h.95v.8h-.95zM188.6 323.8h.95v.8h-.95zM189.6 323.8h.95v.8h-.95zM190.9 323.8h.95v.8h-.95zM192.8 324.5h.95v.8h-.95zM193.8 324.5h.95v.8h-.95zM194.4 324.5h.95v.8h-.95zM176.1 324.5h.95v.8h-.95zM177.2 324.5h.95v.8h-.95zM178.2 324.5h.95v.8h-.95zM181.7 324.5h.95v.8h-.95zM183.2 324.5h.95v.8h-.95zM184.4 324.5h.95v.8h-.95zM176.0 324.5h.95v.8h-.95zM177.5 324.5h.95v.8h-.95zM178.6 324.5h.95v.8h-.95zM191.1 325.2h.95v.8h-.95zM192.3 325.2h.95v.8h-.95zM193.9 325.2h.95v.8h-.95zM179.4 325.9h.95v.8h-.95zM180.7 325.9h.95v.8h-.95zM182.0 325.9h.95v.8h-.95zM194.3 325.9h.95v.8h-.95zM191.3 325.9h.95v.8h-.95zM189.9 326.7h.95v.8h-.95zM191.4 326.7h.95v.8h-.95zM192.5 326.7h.95v.8h-.95zM194.0 326.7h.95v.8h-.95zM188.1 326.7h.95v.8h-.95zM189.7 326.7h.95v.8h-.95zM192.4 326.7h.95v.8h-.95zM193.7 326.7h.95v.8h-.95zM195.1 326.7h.95v.8h-.95zM190.3 327.4h.95v.8h-.95zM191.9 327.4h.95v.8h-.95zM193.1 327.4h.95v.8h-.95zM177.6 327.4h.95v.8h-.95zM178.7 327.4h.95v.8h-.95zM180.1 327.4h.95v.8h-.95zM181.2 327.4h.95v.8h-.95zM177.1 328.1h.95v.8h-.95zM180.6 328.1h.95v.8h-.95zM183.1 328.1h.95v.8h-.95zM187.2 328.1h.95v.8h-.95zM187.8 328.8h.95v.8h-.95zM189.0 328.8h.95v.8h-.95zM190.4 328.8h.95v.8h-.95zM193.7 328.8h.95v.8h-.95zM195.0 328.8h.95v.8h-.95zM182.2 328.8h.95v.8h-.95zM184.6 328.8h.95v.8h-.95zM194.7 330.3h.95v.8h-.95zM181.1 330.3h.95v.8h-.95zM182.2 330.3h.95v.8h-.95zM183.4 330.3h.95v.8h-.95zM189.9 331.0h.95v.8h-.95zM191.4 331.0h.95v.8h-.95zM180.6 331.0h.95v.8h-.95zM182.1 331.0h.95v.8h-.95zM183.4 331.0h.95v.8h-.95zM180.6 331.0h.95v.8h-.95zM181.7 331.0h.95v.8h-.95zM183.2 331.0h.95v.8h-.95zM184.4 331.0h.95v.8h-.95zM178.7 331.7h.95v.8h-.95zM180.1 331.7h.95v.8h-.95zM181.2 331.7h.95v.8h-.95zM182.8 331.7h.95v.8h-.95zM184.0 331.7h.95v.8h-.95zM194.7 331.7h.95v.8h-.95zM193.6 332.4h.95v.8h-.95zM194.7 332.4h.95v.8h-.95zM191.2 332.4h.95v.8h-.95zM192.2 332.4h.95v.8h-.95zM193.8 332.4h.95v.8h-.95zM195.0 332.4h.95v.8h-.95zM194.6 332.4h.95v.8h-.95zM185.5 332.4h.95v.8h-.95zM188.3 332.4h.95v.8h-.95zM168.6 333.1h.95v.8h-.95zM184.0 333.1h.95v.8h-.95zM185.4 333.1h.95v.8h-.95zM186.5 333.1h.95v.8h-.95zM188.0 333.1h.95v.8h-.95zM192.2 333.1h.95v.8h-.95zM193.5 333.1h.95v.8h-.95zM194.9 333.1h.95v.8h-.95zM184.4 333.1h.95v.8h-.95zM187.4 333.1h.95v.8h-.95zM185.7 333.1h.95v.8h-.95zM188.0 333.1h.95v.8h-.95zM195.0 333.1h.95v.8h-.95zM185.4 333.1h.95v.8h-.95zM190.9 333.1h.95v.8h-.95zM192.2 333.1h.95v.8h-.95zM186.2 333.1h.95v.8h-.95zM188.9 333.1h.95v.8h-.95zM190.1 333.1h.95v.8h-.95zM188.1 333.8h.95v.8h-.95zM189.6 333.8h.95v.8h-.95zM192.6 333.8h.95v.8h-.95zM194.2 333.8h.95v.8h-.95zM192.6 333.8h.95v.8h-.95zM193.9 333.8h.95v.8h-.95zM191.0 335.3h.95v.8h-.95zM192.3 335.3h.95v.8h-.95zM193.4 335.3h.95v.8h-.95zM171.1 336.7h.95v.8h-.95zM172.2 336.7h.95v.8h-.95zM190.6 338.1h.95v.8h-.95zM191.6 338.1h.95v.8h-.95zM192.9 338.1h.95v.8h-.95zM194.5 339.6h.95v.8h-.95zM171.6 340.3h.95v.8h-.95zM173.0 340.3h.95v.8h-.95zM174.0 340.3h.95v.8h-.95zM181.2 344.6h.95v.8h-.95zM182.4 344.6h.95v.8h-.95zM166.7 346.8h.95v.8h-.95zM168.2 346.8h.95v.8h-.95zM169.3 346.8h.95v.8h-.95zM170.4 346.8h.95v.8h-.95zM183.4 346.8h.95v.8h-.95zM184.8 346.8h.95v.8h-.95zM176.0 347.5h.95v.8h-.95zM177.2 347.5h.95v.8h-.95zM178.8 347.5h.95v.8h-.95zM180.1 347.5h.95v.8h-.95zM177.4 348.9h.95v.8h-.95zM178.9 348.9h.95v.8h-.95zM172.5 350.3h.95v.8h-.95zM174.0 350.3h.95v.8h-.95zM175.9 350.3h.95v.8h-.95zM178.2 350.3h.95v.8h-.95zM177.6 351.1h.95v.8h-.95zM172.9 351.8h.95v.8h-.95zM174.5 351.8h.95v.8h-.95zM175.8 351.8h.95v.8h-.95zM176.8 351.8h.95v.8h-.95zM169.3 351.8h.95v.8h-.95zM170.6 351.8h.95v.8h-.95zM184.8 351.8h.95v.8h-.95zM182.6 352.5h.95v.8h-.95zM183.8 352.5h.95v.8h-.95zM185.1 352.5h.95v.8h-.95zM170.6 353.2h.95v.8h-.95zM172.0 353.2h.95v.8h-.95zM174.5 353.2h.95v.8h-.95zM175.5 353.2h.95v.8h-.95zM177.2 356.1h.95v.8h-.95zM177.2 359.0h.95v.8h-.95zM178.7 359.0h.95v.8h-.95zM180.2 359.7h.95v.8h-.95zM181.7 359.7h.95v.8h-.95zM184.7 359.7h.95v.8h-.95zM173.0 360.4h.95v.8h-.95zM175.1 360.4h.95v.8h-.95zM176.4 360.4h.95v.8h-.95zM177.6 360.4h.95v.8h-.95zM179.2 360.4h.95v.8h-.95zM180.7 360.4h.95v.8h-.95zM182.2 361.1h.95v.8h-.95zM183.7 361.1h.95v.8h-.95zM180.8 361.8h.95v.8h-.95zM181.8 361.8h.95v.8h-.95zM183.3 361.8h.95v.8h-.95zM184.4 361.8h.95v.8h-.95zM169.0 361.8h.95v.8h-.95zM170.6 361.8h.95v.8h-.95zM171.8 361.8h.95v.8h-.95zM173.1 361.8h.95v.8h-.95zM183.6 361.8h.95v.8h-.95zM185.0 361.8h.95v.8h-.95zM169.6 362.5h.95v.8h-.95zM170.6 362.5h.95v.8h-.95zM172.0 362.5h.95v.8h-.95zM173.6 362.5h.95v.8h-.95zM174.9 362.5h.95v.8h-.95zM174.1 362.5h.95v.8h-.95zM177.0 362.5h.95v.8h-.95zM178.3 362.5h.95v.8h-.95zM179.4 362.5h.95v.8h-.95zM180.1 362.5h.95v.8h-.95zM181.6 362.5h.95v.8h-.95zM184.8 363.3h.95v.8h-.95zM169.3 364.0h.95v.8h-.95zM170.8 364.0h.95v.8h-.95zM173.5 364.0h.95v.8h-.95zM182.7 364.7h.95v.8h-.95zM183.8 364.7h.95v.8h-.95zM185.2 364.7h.95v.8h-.95zM177.4 365.4h.95v.8h-.95zM179.9 366.1h.95v.8h-.95zM181.0 366.1h.95v.8h-.95zM182.5 366.1h.95v.8h-.95zM174.7 366.1h.95v.8h-.95zM176.0 366.1h.95v.8h-.95zM177.3 366.1h.95v.8h-.95zM178.3 366.1h.95v.8h-.95zM179.6 366.1h.95v.8h-.95zM174.4 368.3h.95v.8h-.95zM175.7 368.3h.95v.8h-.95zM183.0 368.3h.95v.8h-.95zM184.1 368.3h.95v.8h-.95zM167.0 369.7h.95v.8h-.95zM168.3 369.7h.95v.8h-.95zM169.4 369.7h.95v.8h-.95zM170.6 369.7h.95v.8h-.95zM172.1 369.7h.95v.8h-.95zM176.1 370.4h.95v.8h-.95zM177.3 370.4h.95v.8h-.95zM178.8 370.4h.95v.8h-.95zM174.4 370.4h.95v.8h-.95zM175.6 370.4h.95v.8h-.95zM177.1 370.4h.95v.8h-.95zM178.4 370.4h.95v.8h-.95zM182.1 371.9h.95v.8h-.95zM183.5 371.9h.95v.8h-.95zM184.7 371.9h.95v.8h-.95zM170.9 372.6h.95v.8h-.95zM172.3 372.6h.95v.8h-.95z"/>
<rect x="160.50" y="215.40" width="39.80" height="157.89" fill="none" stroke="#161616" stroke-width="1.2"/>
<line x1="156.50" y1="215.40" x2="160.50" y2="215.40" stroke="#161616" stroke-width="1.15"/>
<line x1="156.50" y1="229.75" x2="160.50" y2="229.75" stroke="#161616" stroke-width="1.15"/>
<line x1="156.50" y1="244.11" x2="160.50" y2="244.11" stroke="#161616" stroke-width="1.15"/>
<line x1="156.50" y1="258.46" x2="160.50" y2="258.46" stroke="#161616" stroke-width="1.15"/>
<line x1="156.50" y1="272.82" x2="160.50" y2="272.82" stroke="#161616" stroke-width="1.15"/>
<line x1="156.50" y1="287.17" x2="160.50" y2="287.17" stroke="#161616" stroke-width="1.15"/>
<line x1="156.50" y1="301.52" x2="160.50" y2="301.52" stroke="#161616" stroke-width="1.15"/>
<line x1="156.50" y1="315.88" x2="160.50" y2="315.88" stroke="#161616" stroke-width="1.15"/>
<line x1="156.50" y1="330.23" x2="160.50" y2="330.23" stroke="#161616" stroke-width="1.15"/>
<line x1="156.50" y1="344.59" x2="160.50" y2="344.59" stroke="#161616" stroke-width="1.15"/>
<line x1="156.50" y1="358.94" x2="160.50" y2="358.94" stroke="#161616" stroke-width="1.15"/>
<line x1="156.50" y1="373.29" x2="160.50" y2="373.29" stroke="#161616" stroke-width="1.15"/>
<line x1="160.50" y1="373.29" x2="160.50" y2="377.29" stroke="#161616" stroke-width="1.15"/>
<text x="160.50" y="389.60" font-size="9.8" text-anchor="middle" fill="#000" font-weight="normal">0</text>
<line x1="180.40" y1="373.29" x2="180.40" y2="377.29" stroke="#161616" stroke-width="1.15"/>
<text x="180.40" y="389.60" font-size="9.8" text-anchor="middle" fill="#000" font-weight="normal">200</text>
<line x1="200.30" y1="373.29" x2="200.30" y2="377.29" stroke="#161616" stroke-width="1.15"/>
<text x="200.30" y="389.60" font-size="9.8" text-anchor="middle" fill="#000" font-weight="normal">400</text>
<polygon points="202.10,315.88 207.70,313.08 206.20,315.88 207.70,318.68" fill="#000"/>
<text x="234.80" y="210.10" font-size="12.2" text-anchor="middle" fill="#2ca02c" font-weight="normal">MA8_S6</text>
<rect x="249.83" y="229.75" width="5.17" height="43.06" fill="#ee7ab4"/>
<rect x="239.88" y="272.82" width="4.97" height="43.06" fill="#3a52a3"/>
<rect x="249.83" y="315.88" width="5.17" height="23.68" fill="#ee7ab4"/>
<rect x="239.88" y="340.28" width="4.97" height="33.01" fill="#3a52a3"/>
<path fill="#000" d="M226.7 229.8h.95v.8h-.95zM220.1 229.8h.95v.8h-.95zM221.5 229.8h.95v.8h-.95zM248.3 229.8h.95v.8h-.95zM232.7 233.4h.95v.8h-.95zM237.7 233.4h.95v.8h-.95zM241.7 233.4h.95v.8h-.95zM245.1 233.4h.95v.8h-.95zM246.1 233.4h.95v.8h-.95zM247.5 233.4h.95v.8h-.95zM248.5 233.4h.95v.8h-.95zM248.2 229.8h.95v.8h-.95zM249.4 229.8h.95v.8h-.95zM248.1 229.8h.95v.8h-.95zM249.2 229.8h.95v.8h-.95zM248.1 230.5h.95v.8h-.95zM249.6 230.5h.95v.8h-.95zM248.1 231.2h.95v.8h-.95zM249.6 231.2h.95v.8h-.95zM248.3 231.9h.95v.8h-.95zM249.6 231.9h.95v.8h-.95zM248.2 231.9h.95v.8h-.95zM249.5 231.9h.95v.8h-.95zM248.0 231.9h.95v.8h-.95zM249.2 231.9h.95v.8h-.95zM247.6 232.6h.95v.8h-.95zM248.9 232.6h.95v.8h-.95zM248.3 232.6h.95v.8h-.95zM248.6 232.6h.95v.8h-.95zM248.4 232.6h.95v.8h-.95zM248.4 233.4h.95v.8h-.95zM249.8 233.4h.95v.8h-.95zM248.6 233.4h.95v.8h-.95zM249.8 233.4h.95v.8h-.95zM248.0 234.1h.95v.8h-.95zM249.3 234.1h.95v.8h-.95zM248.2 234.8h.95v.8h-.95zM249.4 234.8h.95v.8h-.95zM248.1 235.5h.95v.8h-.95zM249.4 235.5h.95v.8h-.95zM248.3 235.5h.95v.8h-.95zM248.0 236.2h.95v.8h-.95zM249.1 236.2h.95v.8h-.95zM246.7 236.2h.95v.8h-.95zM248.0 236.2h.95v.8h-.95zM249.4 236.2h.95v.8h-.95zM248.1 236.2h.95v.8h-.95zM249.5 236.2h.95v.8h-.95zM247.4 237.0h.95v.8h-.95zM249.0 237.0h.95v.8h-.95zM248.2 237.0h.95v.8h-.95zM249.7 237.0h.95v.8h-.95zM248.1 237.0h.95v.8h-.95zM249.3 237.0h.95v.8h-.95zM248.3 237.0h.95v.8h-.95zM249.5 237.0h.95v.8h-.95zM247.5 237.0h.95v.8h-.95zM248.5 237.0h.95v.8h-.95zM249.5 237.0h.95v.8h-.95zM248.4 237.7h.95v.8h-.95zM248.6 237.7h.95v.8h-.95zM249.7 237.7h.95v.8h-.95zM247.9 238.4h.95v.8h-.95zM249.3 238.4h.95v.8h-.95zM248.1 238.4h.95v.8h-.95zM249.4 238.4h.95v.8h-.95zM247.4 238.4h.95v.8h-.95zM248.7 238.4h.95v.8h-.95zM248.1 238.4h.95v.8h-.95zM249.3 238.4h.95v.8h-.95zM248.4 238.4h.95v.8h-.95zM247.4 239.1h.95v.8h-.95zM248.6 239.1h.95v.8h-.95zM248.1 239.1h.95v.8h-.95zM249.4 239.1h.95v.8h-.95zM248.4 239.8h.95v.8h-.95zM249.7 239.8h.95v.8h-.95zM247.7 239.8h.95v.8h-.95zM248.7 239.8h.95v.8h-.95zM247.8 239.8h.95v.8h-.95zM249.3 239.8h.95v.8h-.95zM247.8 240.5h.95v.8h-.95zM249.1 240.5h.95v.8h-.95zM249.8 240.5h.95v.8h-.95zM248.1 241.3h.95v.8h-.95zM249.6 241.3h.95v.8h-.95zM247.6 242.0h.95v.8h-.95zM248.7 242.0h.95v.8h-.95zM248.6 242.7h.95v.8h-.95zM246.5 242.7h.95v.8h-.95zM247.6 242.7h.95v.8h-.95zM248.7 242.7h.95v.8h-.95zM248.4 242.7h.95v.8h-.95zM248.0 242.7h.95v.8h-.95zM249.2 242.7h.95v.8h-.95zM246.2 243.4h.95v.8h-.95zM247.6 243.4h.95v.8h-.95zM249.0 243.4h.95v.8h-.95zM248.0 243.4h.95v.8h-.95zM249.4 243.4h.95v.8h-.95zM248.3 243.4h.95v.8h-.95zM249.8 243.4h.95v.8h-.95zM248.4 244.1h.95v.8h-.95zM248.1 244.8h.95v.8h-.95zM248.0 244.8h.95v.8h-.95zM249.4 244.8h.95v.8h-.95zM245.9 244.8h.95v.8h-.95zM247.0 244.8h.95v.8h-.95zM248.5 244.8h.95v.8h-.95zM248.3 244.8h.95v.8h-.95zM249.7 244.8h.95v.8h-.95zM248.0 245.6h.95v.8h-.95zM249.0 245.6h.95v.8h-.95zM248.2 245.6h.95v.8h-.95zM249.4 245.6h.95v.8h-.95zM247.9 245.6h.95v.8h-.95zM249.3 245.6h.95v.8h-.95zM247.7 246.3h.95v.8h-.95zM249.1 246.3h.95v.8h-.95zM248.3 246.3h.95v.8h-.95zM249.5 246.3h.95v.8h-.95zM248.4 246.3h.95v.8h-.95zM249.7 246.3h.95v.8h-.95zM248.0 247.0h.95v.8h-.95zM249.2 247.0h.95v.8h-.95zM248.3 248.4h.95v.8h-.95zM249.5 248.4h.95v.8h-.95zM247.4 248.4h.95v.8h-.95zM248.4 248.4h.95v.8h-.95zM248.1 248.4h.95v.8h-.95zM249.2 248.4h.95v.8h-.95zM247.5 249.2h.95v.8h-.95zM248.8 249.2h.95v.8h-.95zM247.9 249.2h.95v.8h-.95zM249.1 249.2h.95v.8h-.95zM247.4 249.9h.95v.8h-.95zM248.5 249.9h.95v.8h-.95zM248.4 249.9h.95v.8h-.95zM248.3 250.6h.95v.8h-.95zM247.3 250.6h.95v.8h-.95zM248.6 250.6h.95v.8h-.95zM248.1 251.3h.95v.8h-.95zM249.2 251.3h.95v.8h-.95zM248.1 252.0h.95v.8h-.95zM249.5 252.0h.95v.8h-.95zM248.3 252.0h.95v.8h-.95zM249.5 252.0h.95v.8h-.95zM248.2 252.0h.95v.8h-.95zM249.5 252.0h.95v.8h-.95zM248.4 252.7h.95v.8h-.95zM247.2 253.5h.95v.8h-.95zM248.7 253.5h.95v.8h-.95zM248.5 253.5h.95v.8h-.95zM247.2 253.5h.95v.8h-.95zM248.4 253.5h.95v.8h-.95zM249.7 253.5h.95v.8h-.95zM247.9 254.2h.95v.8h-.95zM249.2 254.2h.95v.8h-.95zM248.4 254.9h.95v.8h-.95zM247.1 254.9h.95v.8h-.95zM248.4 254.9h.95v.8h-.95zM249.7 254.9h.95v.8h-.95zM248.3 254.9h.95v.8h-.95zM249.5 254.9h.95v.8h-.95zM247.8 255.6h.95v.8h-.95zM248.8 255.6h.95v.8h-.95zM248.4 256.3h.95v.8h-.95zM249.5 256.3h.95v.8h-.95zM248.6 256.3h.95v.8h-.95zM249.6 256.3h.95v.8h-.95zM247.5 257.0h.95v.8h-.95zM248.8 257.0h.95v.8h-.95zM247.1 257.0h.95v.8h-.95zM248.2 257.0h.95v.8h-.95zM249.7 257.0h.95v.8h-.95zM247.6 257.0h.95v.8h-.95zM248.6 257.0h.95v.8h-.95zM246.5 257.0h.95v.8h-.95zM248.1 257.0h.95v.8h-.95zM249.3 257.0h.95v.8h-.95zM247.9 257.0h.95v.8h-.95zM249.0 257.0h.95v.8h-.95zM247.3 257.8h.95v.8h-.95zM248.3 257.8h.95v.8h-.95zM249.4 257.8h.95v.8h-.95zM248.1 257.8h.95v.8h-.95zM249.3 257.8h.95v.8h-.95zM247.7 258.5h.95v.8h-.95zM249.0 258.5h.95v.8h-.95zM248.5 258.5h.95v.8h-.95zM248.5 258.5h.95v.8h-.95zM248.1 258.5h.95v.8h-.95zM249.5 258.5h.95v.8h-.95zM248.5 259.2h.95v.8h-.95zM249.6 259.2h.95v.8h-.95zM248.1 259.2h.95v.8h-.95zM249.4 259.2h.95v.8h-.95zM247.5 259.2h.95v.8h-.95zM248.7 259.2h.95v.8h-.95zM248.2 260.6h.95v.8h-.95zM249.7 260.6h.95v.8h-.95zM248.1 261.4h.95v.8h-.95zM249.4 261.4h.95v.8h-.95zM246.1 261.4h.95v.8h-.95zM247.7 261.4h.95v.8h-.95zM248.9 261.4h.95v.8h-.95zM247.5 261.4h.95v.8h-.95zM248.5 261.4h.95v.8h-.95zM249.5 261.4h.95v.8h-.95zM248.2 262.1h.95v.8h-.95zM249.5 262.1h.95v.8h-.95zM248.0 262.8h.95v.8h-.95zM249.2 262.8h.95v.8h-.95zM247.7 262.8h.95v.8h-.95zM248.9 262.8h.95v.8h-.95zM249.0 263.5h.95v.8h-.95zM247.5 263.5h.95v.8h-.95zM248.6 263.5h.95v.8h-.95zM248.3 263.5h.95v.8h-.95zM249.6 263.5h.95v.8h-.95zM247.9 263.5h.95v.8h-.95zM248.9 263.5h.95v.8h-.95zM248.2 263.5h.95v.8h-.95zM249.2 263.5h.95v.8h-.95zM248.4 264.2h.95v.8h-.95zM249.7 264.2h.95v.8h-.95zM247.7 264.2h.95v.8h-.95zM249.3 264.2h.95v.8h-.95zM248.3 264.2h.95v.8h-.95zM249.3 264.2h.95v.8h-.95zM247.0 264.9h.95v.8h-.95zM248.0 264.9h.95v.8h-.95zM249.6 264.9h.95v.8h-.95zM248.3 265.7h.95v.8h-.95zM249.4 265.7h.95v.8h-.95zM248.0 265.7h.95v.8h-.95zM249.5 265.7h.95v.8h-.95zM248.2 266.4h.95v.8h-.95zM247.1 266.4h.95v.8h-.95zM248.7 266.4h.95v.8h-.95zM247.7 266.4h.95v.8h-.95zM249.1 266.4h.95v.8h-.95zM248.5 266.4h.95v.8h-.95zM248.5 267.1h.95v.8h-.95zM249.8 267.1h.95v.8h-.95zM248.3 267.1h.95v.8h-.95zM247.7 267.1h.95v.8h-.95zM249.2 267.1h.95v.8h-.95zM248.1 267.1h.95v.8h-.95zM249.3 267.1h.95v.8h-.95zM248.2 267.1h.95v.8h-.95zM249.4 267.1h.95v.8h-.95zM246.9 267.8h.95v.8h-.95zM248.3 267.8h.95v.8h-.95zM249.7 267.8h.95v.8h-.95zM248.3 267.8h.95v.8h-.95zM248.0 267.8h.95v.8h-.95zM249.1 267.8h.95v.8h-.95zM249.1 267.8h.95v.8h-.95zM248.1 267.8h.95v.8h-.95zM249.6 267.8h.95v.8h-.95zM247.9 267.8h.95v.8h-.95zM249.3 267.8h.95v.8h-.95zM247.8 267.8h.95v.8h-.95zM248.8 267.8h.95v.8h-.95zM248.0 268.5h.95v.8h-.95zM249.5 268.5h.95v.8h-.95zM246.5 269.2h.95v.8h-.95zM248.0 269.2h.95v.8h-.95zM249.2 269.2h.95v.8h-.95zM248.3 269.2h.95v.8h-.95zM248.4 269.2h.95v.8h-.95zM248.5 270.0h.95v.8h-.95zM249.7 270.0h.95v.8h-.95zM248.0 270.0h.95v.8h-.95zM248.5 270.7h.95v.8h-.95zM249.5 270.7h.95v.8h-.95zM248.0 270.7h.95v.8h-.95zM249.5 270.7h.95v.8h-.95zM246.2 272.1h.95v.8h-.95zM247.5 272.1h.95v.8h-.95zM248.7 272.1h.95v.8h-.95zM248.2 272.1h.95v.8h-.95zM249.2 272.1h.95v.8h-.95zM248.4 272.1h.95v.8h-.95zM224.5 252.7h.95v.8h-.95zM225.9 252.7h.95v.8h-.95zM227.5 252.7h.95v.8h-.95zM229.9 252.7h.95v.8h-.95zM231.2 252.7h.95v.8h-.95zM233.8 252.7h.95v.8h-.95zM235.2 252.7h.95v.8h-.95zM240.3 252.7h.95v.8h-.95zM241.7 252.7h.95v.8h-.95zM243.2 252.7h.95v.8h-.95zM244.6 252.7h.95v.8h-.95zM246.9 252.7h.95v.8h-.95zM241.5 259.9h.95v.8h-.95zM242.7 259.9h.95v.8h-.95zM242.8 260.6h.95v.8h-.95zM245.4 260.6h.95v.8h-.95zM240.4 261.4h.95v.8h-.95zM242.0 261.4h.95v.8h-.95zM247.3 261.4h.95v.8h-.95zM236.4 262.1h.95v.8h-.95zM237.6 262.1h.95v.8h-.95zM239.0 262.1h.95v.8h-.95zM239.3 263.5h.95v.8h-.95zM240.7 263.5h.95v.8h-.95zM234.5 269.2h.95v.8h-.95zM235.9 269.2h.95v.8h-.95zM238.0 269.2h.95v.8h-.95zM239.1 269.2h.95v.8h-.95zM241.6 269.2h.95v.8h-.95zM242.9 269.2h.95v.8h-.95zM244.3 269.2h.95v.8h-.95zM245.7 269.2h.95v.8h-.95zM247.2 269.2h.95v.8h-.95zM248.6 269.2h.95v.8h-.95zM229.5 271.4h.95v.8h-.95zM233.7 271.4h.95v.8h-.95zM234.9 271.4h.95v.8h-.95zM240.9 271.4h.95v.8h-.95zM242.1 271.4h.95v.8h-.95zM244.2 271.4h.95v.8h-.95zM245.6 271.4h.95v.8h-.95zM247.2 271.4h.95v.8h-.95zM248.8 271.4h.95v.8h-.95zM237.7 272.8h.95v.8h-.95zM239.2 272.8h.95v.8h-.95zM237.5 273.6h.95v.8h-.95zM238.7 273.6h.95v.8h-.95zM237.6 273.6h.95v.8h-.95zM238.9 273.6h.95v.8h-.95zM237.8 274.3h.95v.8h-.95zM238.9 274.3h.95v.8h-.95zM237.9 274.3h.95v.8h-.95zM239.0 274.3h.95v.8h-.95zM236.8 275.0h.95v.8h-.95zM237.9 275.0h.95v.8h-.95zM239.4 275.0h.95v.8h-.95zM238.0 275.7h.95v.8h-.95zM239.1 275.7h.95v.8h-.95zM238.0 275.7h.95v.8h-.95zM239.6 275.7h.95v.8h-.95zM238.7 275.7h.95v.8h-.95zM238.9 276.4h.95v.8h-.95zM237.8 277.1h.95v.8h-.95zM239.4 277.1h.95v.8h-.95zM237.6 277.9h.95v.8h-.95zM239.1 277.9h.95v.8h-.95zM237.6 277.9h.95v.8h-.95zM238.9 277.9h.95v.8h-.95zM237.5 278.6h.95v.8h-.95zM238.7 278.6h.95v.8h-.95zM237.2 278.6h.95v.8h-.95zM238.3 278.6h.95v.8h-.95zM238.2 278.6h.95v.8h-.95zM239.3 278.6h.95v.8h-.95zM238.0 278.6h.95v.8h-.95zM239.1 278.6h.95v.8h-.95zM237.9 279.3h.95v.8h-.95zM239.2 279.3h.95v.8h-.95zM238.0 279.3h.95v.8h-.95zM239.1 279.3h.95v.8h-.95zM238.0 280.0h.95v.8h-.95zM239.4 280.0h.95v.8h-.95zM237.6 280.7h.95v.8h-.95zM238.8 280.7h.95v.8h-.95zM237.5 280.7h.95v.8h-.95zM238.8 280.7h.95v.8h-.95zM237.6 280.7h.95v.8h-.95zM237.4 280.7h.95v.8h-.95zM238.9 280.7h.95v.8h-.95zM237.7 281.4h.95v.8h-.95zM238.9 281.4h.95v.8h-.95zM237.6 281.4h.95v.8h-.95zM239.1 281.4h.95v.8h-.95zM238.1 282.2h.95v.8h-.95zM239.3 282.2h.95v.8h-.95zM237.2 282.2h.95v.8h-.95zM238.3 282.2h.95v.8h-.95zM237.9 282.2h.95v.8h-.95zM239.0 282.2h.95v.8h-.95zM237.2 282.2h.95v.8h-.95zM238.5 282.2h.95v.8h-.95zM237.8 282.2h.95v.8h-.95zM239.3 282.2h.95v.8h-.95zM236.9 282.9h.95v.8h-.95zM238.4 282.9h.95v.8h-.95zM239.7 282.9h.95v.8h-.95zM237.9 282.9h.95v.8h-.95zM239.5 282.9h.95v.8h-.95zM236.9 282.9h.95v.8h-.95zM238.4 282.9h.95v.8h-.95zM239.6 282.9h.95v.8h-.95zM237.5 283.6h.95v.8h-.95zM239.1 283.6h.95v.8h-.95zM237.9 283.6h.95v.8h-.95zM239.3 283.6h.95v.8h-.95zM236.7 284.3h.95v.8h-.95zM238.2 284.3h.95v.8h-.95zM239.6 284.3h.95v.8h-.95zM237.0 284.3h.95v.8h-.95zM238.0 284.3h.95v.8h-.95zM239.1 284.3h.95v.8h-.95zM236.1 285.0h.95v.8h-.95zM237.5 285.0h.95v.8h-.95zM238.9 285.0h.95v.8h-.95zM236.9 285.0h.95v.8h-.95zM237.9 285.0h.95v.8h-.95zM239.5 285.0h.95v.8h-.95zM237.3 285.8h.95v.8h-.95zM238.3 285.8h.95v.8h-.95zM236.1 286.5h.95v.8h-.95zM237.6 286.5h.95v.8h-.95zM239.0 286.5h.95v.8h-.95zM237.5 286.5h.95v.8h-.95zM238.6 286.5h.95v.8h-.95zM239.6 286.5h.95v.8h-.95zM238.4 286.5h.95v.8h-.95zM237.8 286.5h.95v.8h-.95zM239.2 286.5h.95v.8h-.95zM238.2 287.2h.95v.8h-.95zM239.6 287.2h.95v.8h-.95zM237.4 287.2h.95v.8h-.95zM238.4 287.2h.95v.8h-.95zM239.8 287.2h.95v.8h-.95zM238.0 287.2h.95v.8h-.95zM239.2 287.2h.95v.8h-.95zM237.2 288.6h.95v.8h-.95zM238.6 288.6h.95v.8h-.95zM238.1 289.3h.95v.8h-.95zM239.4 289.3h.95v.8h-.95zM237.3 289.3h.95v.8h-.95zM238.8 289.3h.95v.8h-.95zM238.1 290.1h.95v.8h-.95zM239.1 290.1h.95v.8h-.95zM238.0 290.8h.95v.8h-.95zM239.2 290.8h.95v.8h-.95zM238.0 291.5h.95v.8h-.95zM239.0 291.5h.95v.8h-.95zM238.1 292.2h.95v.8h-.95zM239.6 292.2h.95v.8h-.95zM237.3 292.2h.95v.8h-.95zM238.9 292.2h.95v.8h-.95zM237.2 292.9h.95v.8h-.95zM238.5 292.9h.95v.8h-.95zM238.2 292.9h.95v.8h-.95zM237.1 293.6h.95v.8h-.95zM238.5 293.6h.95v.8h-.95zM237.8 293.6h.95v.8h-.95zM239.1 293.6h.95v.8h-.95zM238.0 293.6h.95v.8h-.95zM239.2 293.6h.95v.8h-.95zM237.5 294.4h.95v.8h-.95zM238.8 294.4h.95v.8h-.95zM237.7 294.4h.95v.8h-.95zM238.7 294.4h.95v.8h-.95zM239.7 294.4h.95v.8h-.95zM238.1 295.1h.95v.8h-.95zM239.7 295.1h.95v.8h-.95zM238.0 295.1h.95v.8h-.95zM239.5 295.1h.95v.8h-.95zM238.1 295.1h.95v.8h-.95zM239.4 295.1h.95v.8h-.95zM238.1 295.1h.95v.8h-.95zM239.3 295.1h.95v.8h-.95zM238.0 295.1h.95v.8h-.95zM239.4 295.1h.95v.8h-.95zM239.3 295.8h.95v.8h-.95zM237.8 295.8h.95v.8h-.95zM238.9 295.8h.95v.8h-.95zM237.8 295.8h.95v.8h-.95zM239.3 295.8h.95v.8h-.95zM237.5 296.5h.95v.8h-.95zM239.1 296.5h.95v.8h-.95zM238.0 296.5h.95v.8h-.95zM239.5 296.5h.95v.8h-.95zM237.7 296.5h.95v.8h-.95zM238.8 296.5h.95v.8h-.95zM238.2 297.2h.95v.8h-.95zM239.2 297.2h.95v.8h-.95zM237.5 297.2h.95v.8h-.95zM238.8 297.2h.95v.8h-.95zM237.4 298.0h.95v.8h-.95zM238.5 298.0h.95v.8h-.95zM237.4 298.0h.95v.8h-.95zM238.9 298.0h.95v.8h-.95zM237.8 298.0h.95v.8h-.95zM238.9 298.0h.95v.8h-.95zM238.0 300.1h.95v.8h-.95zM239.5 300.1h.95v.8h-.95zM237.6 300.1h.95v.8h-.95zM238.7 300.1h.95v.8h-.95zM237.5 300.8h.95v.8h-.95zM239.1 300.8h.95v.8h-.95zM238.1 301.5h.95v.8h-.95zM239.3 301.5h.95v.8h-.95zM237.7 301.5h.95v.8h-.95zM238.9 301.5h.95v.8h-.95zM238.3 301.5h.95v.8h-.95zM239.3 301.5h.95v.8h-.95zM238.1 302.3h.95v.8h-.95zM239.2 302.3h.95v.8h-.95zM238.1 302.3h.95v.8h-.95zM239.4 302.3h.95v.8h-.95zM237.4 302.3h.95v.8h-.95zM238.5 302.3h.95v.8h-.95zM237.9 303.0h.95v.8h-.95zM239.4 303.0h.95v.8h-.95zM237.9 303.0h.95v.8h-.95zM239.3 303.0h.95v.8h-.95zM238.3 303.7h.95v.8h-.95zM239.6 303.7h.95v.8h-.95zM237.9 303.7h.95v.8h-.95zM239.0 303.7h.95v.8h-.95zM236.8 303.7h.95v.8h-.95zM238.3 303.7h.95v.8h-.95zM238.0 303.7h.95v.8h-.95zM239.6 303.7h.95v.8h-.95zM238.0 303.7h.95v.8h-.95zM239.4 303.7h.95v.8h-.95zM238.4 304.4h.95v.8h-.95zM237.3 304.4h.95v.8h-.95zM238.4 304.4h.95v.8h-.95zM238.3 304.4h.95v.8h-.95zM239.6 304.4h.95v.8h-.95zM238.1 304.4h.95v.8h-.95zM239.3 304.4h.95v.8h-.95zM237.5 305.1h.95v.8h-.95zM238.7 305.1h.95v.8h-.95zM237.0 305.1h.95v.8h-.95zM238.1 305.1h.95v.8h-.95zM239.3 305.1h.95v.8h-.95zM238.1 305.9h.95v.8h-.95zM239.4 305.9h.95v.8h-.95zM237.0 305.9h.95v.8h-.95zM238.2 305.9h.95v.8h-.95zM239.6 305.9h.95v.8h-.95zM238.0 306.6h.95v.8h-.95zM239.3 306.6h.95v.8h-.95zM237.9 306.6h.95v.8h-.95zM239.2 306.6h.95v.8h-.95zM238.1 307.3h.95v.8h-.95zM239.7 307.3h.95v.8h-.95zM236.7 307.3h.95v.8h-.95zM237.9 307.3h.95v.8h-.95zM238.9 307.3h.95v.8h-.95zM238.0 307.3h.95v.8h-.95zM239.3 307.3h.95v.8h-.95zM238.0 307.3h.95v.8h-.95zM236.9 307.3h.95v.8h-.95zM238.4 307.3h.95v.8h-.95zM239.5 307.3h.95v.8h-.95zM238.4 307.3h.95v.8h-.95zM236.1 308.0h.95v.8h-.95zM237.2 308.0h.95v.8h-.95zM238.3 308.0h.95v.8h-.95zM239.4 308.0h.95v.8h-.95zM238.1 308.7h.95v.8h-.95zM239.2 308.7h.95v.8h-.95zM237.6 308.7h.95v.8h-.95zM238.7 308.7h.95v.8h-.95zM238.0 309.4h.95v.8h-.95zM239.1 309.4h.95v.8h-.95zM239.0 309.4h.95v.8h-.95zM237.7 310.2h.95v.8h-.95zM239.3 310.2h.95v.8h-.95zM236.9 310.2h.95v.8h-.95zM238.0 310.2h.95v.8h-.95zM239.0 310.2h.95v.8h-.95zM238.0 310.2h.95v.8h-.95zM239.5 310.2h.95v.8h-.95zM238.2 310.9h.95v.8h-.95zM239.7 310.9h.95v.8h-.95zM238.0 310.9h.95v.8h-.95zM239.6 310.9h.95v.8h-.95zM237.7 311.6h.95v.8h-.95zM238.9 311.6h.95v.8h-.95zM236.7 311.6h.95v.8h-.95zM237.7 311.6h.95v.8h-.95zM239.0 311.6h.95v.8h-.95zM237.8 311.6h.95v.8h-.95zM238.8 311.6h.95v.8h-.95zM238.0 312.3h.95v.8h-.95zM239.0 312.3h.95v.8h-.95zM237.4 313.0h.95v.8h-.95zM238.5 313.0h.95v.8h-.95zM239.7 313.0h.95v.8h-.95zM238.1 313.0h.95v.8h-.95zM238.0 313.0h.95v.8h-.95zM239.3 313.0h.95v.8h-.95zM237.9 313.0h.95v.8h-.95zM239.3 313.0h.95v.8h-.95zM237.8 313.0h.95v.8h-.95zM238.9 313.0h.95v.8h-.95zM237.6 313.7h.95v.8h-.95zM239.1 313.7h.95v.8h-.95zM237.9 313.7h.95v.8h-.95zM239.3 313.7h.95v.8h-.95zM238.7 313.7h.95v.8h-.95zM238.2 313.7h.95v.8h-.95zM239.8 313.7h.95v.8h-.95zM236.8 314.5h.95v.8h-.95zM237.9 314.5h.95v.8h-.95zM239.1 314.5h.95v.8h-.95zM238.0 315.2h.95v.8h-.95zM239.2 315.2h.95v.8h-.95zM238.0 315.2h.95v.8h-.95zM239.1 315.2h.95v.8h-.95zM239.7 315.2h.95v.8h-.95zM249.2 315.9h.95v.8h-.95zM249.6 315.9h.95v.8h-.95zM239.6 316.6h.95v.8h-.95zM240.9 316.6h.95v.8h-.95zM243.4 316.6h.95v.8h-.95zM245.7 316.6h.95v.8h-.95zM246.9 316.6h.95v.8h-.95zM242.4 316.6h.95v.8h-.95zM243.9 316.6h.95v.8h-.95zM245.8 318.1h.95v.8h-.95zM247.3 318.1h.95v.8h-.95zM248.3 318.1h.95v.8h-.95zM247.0 318.1h.95v.8h-.95zM248.2 318.1h.95v.8h-.95zM249.5 318.1h.95v.8h-.95zM249.8 318.8h.95v.8h-.95zM243.4 318.8h.95v.8h-.95zM244.6 318.8h.95v.8h-.95zM246.0 318.8h.95v.8h-.95zM247.3 319.5h.95v.8h-.95zM244.4 320.2h.95v.8h-.95zM246.0 320.2h.95v.8h-.95zM247.4 320.2h.95v.8h-.95zM247.0 320.2h.95v.8h-.95zM248.1 320.2h.95v.8h-.95zM249.3 320.2h.95v.8h-.95zM244.0 320.9h.95v.8h-.95zM245.3 320.9h.95v.8h-.95zM245.5 320.9h.95v.8h-.95zM246.7 320.9h.95v.8h-.95zM247.7 320.9h.95v.8h-.95zM248.9 320.9h.95v.8h-.95zM243.6 322.4h.95v.8h-.95zM245.0 322.4h.95v.8h-.95zM246.4 322.4h.95v.8h-.95zM241.6 322.4h.95v.8h-.95zM243.2 322.4h.95v.8h-.95zM249.4 322.4h.95v.8h-.95zM239.8 322.4h.95v.8h-.95zM240.8 322.4h.95v.8h-.95zM241.9 322.4h.95v.8h-.95zM243.5 322.4h.95v.8h-.95zM246.5 323.1h.95v.8h-.95zM248.1 323.1h.95v.8h-.95zM245.8 323.8h.95v.8h-.95zM247.2 323.8h.95v.8h-.95zM248.4 323.8h.95v.8h-.95zM242.3 323.8h.95v.8h-.95zM249.0 324.5h.95v.8h-.95zM242.8 324.5h.95v.8h-.95zM244.5 324.5h.95v.8h-.95zM249.7 324.5h.95v.8h-.95zM244.2 324.5h.95v.8h-.95zM245.5 324.5h.95v.8h-.95zM246.6 324.5h.95v.8h-.95zM245.9 325.2h.95v.8h-.95zM247.1 325.9h.95v.8h-.95zM247.1 325.9h.95v.8h-.95zM248.4 325.9h.95v.8h-.95zM249.6 325.9h.95v.8h-.95zM247.5 326.7h.95v.8h-.95zM248.7 326.7h.95v.8h-.95zM249.2 326.7h.95v.8h-.95zM247.3 326.7h.95v.8h-.95zM248.3 326.7h.95v.8h-.95zM249.6 326.7h.95v.8h-.95zM249.2 327.4h.95v.8h-.95zM246.5 327.4h.95v.8h-.95zM247.5 327.4h.95v.8h-.95zM248.7 327.4h.95v.8h-.95zM250.3 327.4h.95v.8h-.95zM244.7 327.4h.95v.8h-.95zM246.6 328.1h.95v.8h-.95zM247.8 328.1h.95v.8h-.95zM249.2 328.1h.95v.8h-.95zM250.0 328.8h.95v.8h-.95zM243.0 328.8h.95v.8h-.95zM244.2 328.8h.95v.8h-.95zM247.8 329.5h.95v.8h-.95zM248.9 329.5h.95v.8h-.95zM240.5 329.5h.95v.8h-.95zM241.5 329.5h.95v.8h-.95zM240.3 330.3h.95v.8h-.95zM241.4 330.3h.95v.8h-.95zM247.9 330.3h.95v.8h-.95zM249.1 330.3h.95v.8h-.95zM250.3 330.3h.95v.8h-.95zM244.9 330.3h.95v.8h-.95zM246.5 330.3h.95v.8h-.95zM247.9 330.3h.95v.8h-.95zM248.7 331.0h.95v.8h-.95zM250.1 331.0h.95v.8h-.95zM248.9 331.0h.95v.8h-.95zM250.2 331.0h.95v.8h-.95zM244.8 331.7h.95v.8h-.95zM246.1 331.7h.95v.8h-.95zM245.8 332.4h.95v.8h-.95zM247.0 332.4h.95v.8h-.95zM248.1 332.4h.95v.8h-.95zM249.2 332.4h.95v.8h-.95zM249.8 332.4h.95v.8h-.95zM245.9 332.4h.95v.8h-.95zM247.5 332.4h.95v.8h-.95zM249.9 333.1h.95v.8h-.95zM244.2 333.1h.95v.8h-.95zM243.2 333.1h.95v.8h-.95zM244.5 333.1h.95v.8h-.95zM245.6 333.1h.95v.8h-.95zM248.9 333.1h.95v.8h-.95zM250.2 333.1h.95v.8h-.95zM246.8 333.1h.95v.8h-.95zM248.2 333.1h.95v.8h-.95zM249.8 333.1h.95v.8h-.95zM245.3 333.8h.95v.8h-.95zM246.3 333.8h.95v.8h-.95zM246.5 333.8h.95v.8h-.95zM247.6 333.8h.95v.8h-.95zM241.1 334.6h.95v.8h-.95zM242.6 334.6h.95v.8h-.95zM244.1 334.6h.95v.8h-.95zM248.0 335.3h.95v.8h-.95zM250.2 335.3h.95v.8h-.95zM249.2 335.3h.95v.8h-.95zM240.8 335.3h.95v.8h-.95zM241.8 335.3h.95v.8h-.95zM243.3 335.3h.95v.8h-.95zM247.5 336.0h.95v.8h-.95zM249.1 336.0h.95v.8h-.95zM246.7 336.0h.95v.8h-.95zM248.3 336.0h.95v.8h-.95zM249.6 336.0h.95v.8h-.95zM248.8 336.7h.95v.8h-.95zM249.9 336.7h.95v.8h-.95zM248.3 336.7h.95v.8h-.95zM242.9 336.7h.95v.8h-.95zM244.3 336.7h.95v.8h-.95zM244.2 336.7h.95v.8h-.95zM245.5 336.7h.95v.8h-.95zM246.6 336.7h.95v.8h-.95zM248.4 336.7h.95v.8h-.95zM245.8 337.4h.95v.8h-.95zM247.3 337.4h.95v.8h-.95zM246.9 337.4h.95v.8h-.95zM247.4 337.4h.95v.8h-.95zM249.0 337.4h.95v.8h-.95zM250.3 337.4h.95v.8h-.95zM243.8 337.4h.95v.8h-.95zM244.8 337.4h.95v.8h-.95zM246.0 337.4h.95v.8h-.95zM242.4 338.1h.95v.8h-.95zM247.7 338.1h.95v.8h-.95zM249.0 338.1h.95v.8h-.95zM249.5 338.1h.95v.8h-.95zM218.5 332.4h.95v.8h-.95zM221.2 332.4h.95v.8h-.95zM223.8 332.4h.95v.8h-.95zM226.1 332.4h.95v.8h-.95zM227.3 332.4h.95v.8h-.95zM229.7 332.4h.95v.8h-.95zM231.2 332.4h.95v.8h-.95zM232.3 332.4h.95v.8h-.95zM233.5 339.2h.95v.8h-.95zM238.9 339.2h.95v.8h-.95zM241.3 339.2h.95v.8h-.95zM242.6 339.2h.95v.8h-.95zM243.7 339.2h.95v.8h-.95zM246.2 339.2h.95v.8h-.95zM247.8 339.2h.95v.8h-.95zM237.6 339.6h.95v.8h-.95zM239.2 339.6h.95v.8h-.95zM237.4 340.3h.95v.8h-.95zM238.7 340.3h.95v.8h-.95zM237.7 340.3h.95v.8h-.95zM238.4 340.3h.95v.8h-.95zM239.4 340.3h.95v.8h-.95zM236.6 341.0h.95v.8h-.95zM237.7 341.0h.95v.8h-.95zM238.7 341.0h.95v.8h-.95zM238.6 341.7h.95v.8h-.95zM239.8 341.7h.95v.8h-.95zM238.0 343.2h.95v.8h-.95zM239.6 343.2h.95v.8h-.95zM237.8 343.9h.95v.8h-.95zM239.1 343.9h.95v.8h-.95zM238.1 343.9h.95v.8h-.95zM239.5 343.9h.95v.8h-.95zM238.0 343.9h.95v.8h-.95zM239.6 343.9h.95v.8h-.95zM237.2 344.6h.95v.8h-.95zM238.8 344.6h.95v.8h-.95zM238.4 345.3h.95v.8h-.95zM238.1 345.3h.95v.8h-.95zM239.2 345.3h.95v.8h-.95zM238.0 345.3h.95v.8h-.95zM239.3 345.3h.95v.8h-.95zM237.1 346.0h.95v.8h-.95zM238.1 346.0h.95v.8h-.95zM239.2 346.0h.95v.8h-.95zM238.4 346.0h.95v.8h-.95zM239.5 346.0h.95v.8h-.95zM238.0 346.8h.95v.8h-.95zM239.2 346.8h.95v.8h-.95zM237.7 346.8h.95v.8h-.95zM239.1 346.8h.95v.8h-.95zM237.9 346.8h.95v.8h-.95zM239.0 346.8h.95v.8h-.95zM238.1 346.8h.95v.8h-.95zM239.7 346.8h.95v.8h-.95zM238.4 347.5h.95v.8h-.95zM239.6 347.5h.95v.8h-.95zM237.4 347.5h.95v.8h-.95zM238.5 347.5h.95v.8h-.95zM239.4 347.5h.95v.8h-.95zM237.8 348.2h.95v.8h-.95zM239.1 348.2h.95v.8h-.95zM239.4 348.2h.95v.8h-.95zM238.6 348.2h.95v.8h-.95zM238.5 348.2h.95v.8h-.95zM235.2 348.2h.95v.8h-.95zM236.5 348.2h.95v.8h-.95zM237.8 348.2h.95v.8h-.95zM239.1 348.2h.95v.8h-.95zM237.3 348.2h.95v.8h-.95zM238.8 348.2h.95v.8h-.95zM238.0 348.9h.95v.8h-.95zM238.1 348.9h.95v.8h-.95zM239.3 348.9h.95v.8h-.95zM238.5 349.6h.95v.8h-.95zM239.7 349.6h.95v.8h-.95zM238.5 349.6h.95v.8h-.95zM239.8 349.6h.95v.8h-.95zM238.3 350.3h.95v.8h-.95zM239.6 350.3h.95v.8h-.95zM237.4 351.1h.95v.8h-.95zM239.0 351.1h.95v.8h-.95zM238.6 351.8h.95v.8h-.95zM238.5 351.8h.95v.8h-.95zM239.6 351.8h.95v.8h-.95zM238.5 352.5h.95v.8h-.95zM237.6 352.5h.95v.8h-.95zM239.0 352.5h.95v.8h-.95zM238.5 352.5h.95v.8h-.95zM237.9 352.5h.95v.8h-.95zM239.0 352.5h.95v.8h-.95zM237.7 352.5h.95v.8h-.95zM238.9 352.5h.95v.8h-.95zM237.1 353.2h.95v.8h-.95zM238.3 353.2h.95v.8h-.95zM239.5 353.2h.95v.8h-.95zM238.2 353.2h.95v.8h-.95zM239.4 353.2h.95v.8h-.95zM237.9 353.9h.95v.8h-.95zM239.0 353.9h.95v.8h-.95zM237.6 354.7h.95v.8h-.95zM236.1 354.7h.95v.8h-.95zM237.3 354.7h.95v.8h-.95zM238.4 354.7h.95v.8h-.95zM239.7 354.7h.95v.8h-.95zM238.4 356.1h.95v.8h-.95zM239.6 356.1h.95v.8h-.95zM236.7 356.1h.95v.8h-.95zM238.2 356.1h.95v.8h-.95zM239.2 356.1h.95v.8h-.95zM238.2 358.2h.95v.8h-.95zM239.5 358.2h.95v.8h-.95zM237.1 359.0h.95v.8h-.95zM238.7 359.0h.95v.8h-.95zM238.5 359.0h.95v.8h-.95zM238.1 359.7h.95v.8h-.95zM239.6 359.7h.95v.8h-.95zM238.1 360.4h.95v.8h-.95zM239.2 360.4h.95v.8h-.95zM238.4 360.4h.95v.8h-.95zM239.6 360.4h.95v.8h-.95zM238.2 360.4h.95v.8h-.95zM239.4 360.4h.95v.8h-.95zM237.5 360.4h.95v.8h-.95zM238.8 360.4h.95v.8h-.95zM238.4 361.1h.95v.8h-.95zM239.8 361.1h.95v.8h-.95zM238.0 361.1h.95v.8h-.95zM239.4 361.1h.95v.8h-.95zM238.1 361.1h.95v.8h-.95zM239.4 361.1h.95v.8h-.95zM238.2 361.1h.95v.8h-.95zM239.3 361.1h.95v.8h-.95zM237.4 361.1h.95v.8h-.95zM238.9 361.1h.95v.8h-.95zM238.1 361.1h.95v.8h-.95zM239.2 361.1h.95v.8h-.95zM238.0 361.8h.95v.8h-.95zM239.2 361.8h.95v.8h-.95zM238.4 362.5h.95v.8h-.95zM239.6 362.5h.95v.8h-.95zM238.2 362.5h.95v.8h-.95zM239.7 362.5h.95v.8h-.95zM238.4 363.3h.95v.8h-.95zM239.5 363.3h.95v.8h-.95zM237.5 364.0h.95v.8h-.95zM239.0 364.0h.95v.8h-.95zM238.6 364.0h.95v.8h-.95zM239.7 364.0h.95v.8h-.95zM238.1 364.7h.95v.8h-.95zM239.4 364.7h.95v.8h-.95zM238.1 364.7h.95v.8h-.95zM239.4 364.7h.95v.8h-.95zM236.4 365.4h.95v.8h-.95zM237.5 365.4h.95v.8h-.95zM237.8 366.9h.95v.8h-.95zM239.3 366.9h.95v.8h-.95zM237.9 366.9h.95v.8h-.95zM239.2 366.9h.95v.8h-.95zM237.9 366.9h.95v.8h-.95zM239.1 366.9h.95v.8h-.95zM238.0 366.9h.95v.8h-.95zM239.2 366.9h.95v.8h-.95zM236.9 366.9h.95v.8h-.95zM238.4 366.9h.95v.8h-.95zM238.4 367.6h.95v.8h-.95zM239.5 367.6h.95v.8h-.95zM237.2 368.3h.95v.8h-.95zM238.4 368.3h.95v.8h-.95zM238.3 368.3h.95v.8h-.95zM239.4 368.3h.95v.8h-.95zM237.8 368.3h.95v.8h-.95zM239.0 368.3h.95v.8h-.95zM238.2 369.0h.95v.8h-.95zM239.6 369.0h.95v.8h-.95zM238.3 369.7h.95v.8h-.95zM239.7 369.7h.95v.8h-.95zM238.5 370.4h.95v.8h-.95zM237.7 370.4h.95v.8h-.95zM238.9 370.4h.95v.8h-.95zM238.2 371.9h.95v.8h-.95zM239.3 371.9h.95v.8h-.95zM238.5 371.9h.95v.8h-.95zM227.7 359.0h.95v.8h-.95zM231.1 359.0h.95v.8h-.95zM232.6 359.0h.95v.8h-.95zM233.7 359.0h.95v.8h-.95zM234.9 359.0h.95v.8h-.95zM237.5 359.0h.95v.8h-.95z"/>
<rect x="215.50" y="215.40" width="39.80" height="157.89" fill="none" stroke="#161616" stroke-width="1.2"/>
<line x1="211.50" y1="215.40" x2="215.50" y2="215.40" stroke="#161616" stroke-width="1.15"/>
<line x1="211.50" y1="229.75" x2="215.50" y2="229.75" stroke="#161616" stroke-width="1.15"/>
<line x1="211.50" y1="244.11" x2="215.50" y2="244.11" stroke="#161616" stroke-width="1.15"/>
<line x1="211.50" y1="258.46" x2="215.50" y2="258.46" stroke="#161616" stroke-width="1.15"/>
<line x1="211.50" y1="272.82" x2="215.50" y2="272.82" stroke="#161616" stroke-width="1.15"/>
<line x1="211.50" y1="287.17" x2="215.50" y2="287.17" stroke="#161616" stroke-width="1.15"/>
<line x1="211.50" y1="301.52" x2="215.50" y2="301.52" stroke="#161616" stroke-width="1.15"/>
<line x1="211.50" y1="315.88" x2="215.50" y2="315.88" stroke="#161616" stroke-width="1.15"/>
<line x1="211.50" y1="330.23" x2="215.50" y2="330.23" stroke="#161616" stroke-width="1.15"/>
<line x1="211.50" y1="344.59" x2="215.50" y2="344.59" stroke="#161616" stroke-width="1.15"/>
<line x1="211.50" y1="358.94" x2="215.50" y2="358.94" stroke="#161616" stroke-width="1.15"/>
<line x1="211.50" y1="373.29" x2="215.50" y2="373.29" stroke="#161616" stroke-width="1.15"/>
<line x1="215.50" y1="373.29" x2="215.50" y2="377.29" stroke="#161616" stroke-width="1.15"/>
<text x="215.50" y="389.60" font-size="9.8" text-anchor="middle" fill="#000" font-weight="normal">0</text>
<line x1="235.40" y1="373.29" x2="235.40" y2="377.29" stroke="#161616" stroke-width="1.15"/>
<text x="235.40" y="389.60" font-size="9.8" text-anchor="middle" fill="#000" font-weight="normal">200</text>
<line x1="255.30" y1="373.29" x2="255.30" y2="377.29" stroke="#161616" stroke-width="1.15"/>
<text x="255.30" y="389.60" font-size="9.8" text-anchor="middle" fill="#000" font-weight="normal">400</text>
<polygon points="257.10,315.88 262.70,313.08 261.20,315.88 262.70,318.68" fill="#000"/>
<text x="289.90" y="210.10" font-size="12.2" text-anchor="middle" fill="#ff7f0e" font-weight="normal">A18_S1</text>
<rect x="304.93" y="229.75" width="5.17" height="43.06" fill="#ee7ab4"/>
<rect x="294.98" y="272.82" width="4.98" height="43.06" fill="#3a52a3"/>
<rect x="304.93" y="315.88" width="5.17" height="29.43" fill="#ee7ab4"/>
<rect x="294.98" y="346.02" width="4.98" height="27.27" fill="#3a52a3"/>
<path fill="#000" d="M273.6 230.1h.95v.8h-.95zM274.7 230.1h.95v.8h-.95zM277.4 230.1h.95v.8h-.95zM284.8 230.1h.95v.8h-.95zM289.1 230.1h.95v.8h-.95zM290.5 230.1h.95v.8h-.95zM291.8 230.1h.95v.8h-.95zM294.1 230.1h.95v.8h-.95zM295.7 230.1h.95v.8h-.95zM297.0 230.1h.95v.8h-.95zM280.3 230.5h.95v.8h-.95zM281.3 230.5h.95v.8h-.95zM299.4 230.5h.95v.8h-.95zM301.0 230.5h.95v.8h-.95zM293.3 231.2h.95v.8h-.95zM304.9 231.2h.95v.8h-.95zM298.0 231.2h.95v.8h-.95zM293.9 231.2h.95v.8h-.95zM295.2 231.2h.95v.8h-.95zM296.8 231.2h.95v.8h-.95zM278.1 231.9h.95v.8h-.95zM279.6 231.9h.95v.8h-.95zM280.7 231.9h.95v.8h-.95zM302.4 231.9h.95v.8h-.95zM303.7 231.9h.95v.8h-.95zM279.7 231.9h.95v.8h-.95zM281.2 231.9h.95v.8h-.95zM282.6 231.9h.95v.8h-.95zM283.8 231.9h.95v.8h-.95zM284.9 231.9h.95v.8h-.95zM295.1 231.9h.95v.8h-.95zM296.5 231.9h.95v.8h-.95zM291.5 231.9h.95v.8h-.95zM293.1 231.9h.95v.8h-.95zM274.6 232.6h.95v.8h-.95zM275.8 232.6h.95v.8h-.95zM277.0 232.6h.95v.8h-.95zM278.1 232.6h.95v.8h-.95zM276.9 232.6h.95v.8h-.95zM278.2 232.6h.95v.8h-.95zM279.6 232.6h.95v.8h-.95zM280.9 232.6h.95v.8h-.95zM282.2 232.6h.95v.8h-.95zM292.1 232.6h.95v.8h-.95zM293.2 232.6h.95v.8h-.95zM294.5 232.6h.95v.8h-.95zM304.9 233.4h.95v.8h-.95zM296.0 234.1h.95v.8h-.95zM297.4 234.1h.95v.8h-.95zM304.3 235.5h.95v.8h-.95zM305.3 235.5h.95v.8h-.95zM277.3 235.5h.95v.8h-.95zM278.9 235.5h.95v.8h-.95zM298.8 235.5h.95v.8h-.95zM300.4 235.5h.95v.8h-.95zM302.0 235.5h.95v.8h-.95zM303.3 235.5h.95v.8h-.95zM288.8 236.2h.95v.8h-.95zM290.3 236.2h.95v.8h-.95zM276.6 236.2h.95v.8h-.95zM278.2 236.2h.95v.8h-.95zM279.5 236.2h.95v.8h-.95zM283.6 237.7h.95v.8h-.95zM284.7 237.7h.95v.8h-.95zM286.0 237.7h.95v.8h-.95zM287.1 237.7h.95v.8h-.95zM294.6 237.7h.95v.8h-.95zM295.6 237.7h.95v.8h-.95zM297.1 237.7h.95v.8h-.95zM298.2 237.7h.95v.8h-.95zM299.7 237.7h.95v.8h-.95zM300.9 237.7h.95v.8h-.95zM302.8 237.7h.95v.8h-.95zM281.8 237.7h.95v.8h-.95zM283.2 237.7h.95v.8h-.95zM284.3 237.7h.95v.8h-.95zM302.8 238.4h.95v.8h-.95zM303.9 238.4h.95v.8h-.95zM282.4 238.4h.95v.8h-.95zM283.8 238.4h.95v.8h-.95zM285.2 238.4h.95v.8h-.95zM286.4 238.4h.95v.8h-.95zM297.7 238.4h.95v.8h-.95zM298.8 238.4h.95v.8h-.95zM299.8 238.4h.95v.8h-.95zM301.3 238.4h.95v.8h-.95zM302.5 238.4h.95v.8h-.95zM304.9 238.4h.95v.8h-.95zM289.8 238.4h.95v.8h-.95zM291.2 238.4h.95v.8h-.95zM274.7 238.4h.95v.8h-.95zM276.2 238.4h.95v.8h-.95zM277.5 238.4h.95v.8h-.95zM278.4 238.4h.95v.8h-.95zM279.6 238.4h.95v.8h-.95zM281.1 238.4h.95v.8h-.95zM283.5 238.4h.95v.8h-.95zM289.2 239.1h.95v.8h-.95zM291.8 239.1h.95v.8h-.95zM304.3 239.1h.95v.8h-.95zM294.1 239.1h.95v.8h-.95zM302.7 239.1h.95v.8h-.95zM304.2 239.1h.95v.8h-.95zM294.7 239.1h.95v.8h-.95zM296.2 239.1h.95v.8h-.95zM297.4 239.1h.95v.8h-.95zM298.8 239.1h.95v.8h-.95zM300.4 239.1h.95v.8h-.95zM288.0 239.8h.95v.8h-.95zM289.4 239.8h.95v.8h-.95zM290.7 239.8h.95v.8h-.95zM287.3 239.8h.95v.8h-.95zM288.9 239.8h.95v.8h-.95zM290.4 239.8h.95v.8h-.95zM293.4 239.8h.95v.8h-.95zM287.8 239.8h.95v.8h-.95zM288.9 239.8h.95v.8h-.95zM290.3 239.8h.95v.8h-.95zM291.4 239.8h.95v.8h-.95zM292.5 239.8h.95v.8h-.95zM293.7 239.8h.95v.8h-.95zM300.4 239.8h.95v.8h-.95zM301.8 239.8h.95v.8h-.95zM302.8 239.8h.95v.8h-.95zM304.3 239.8h.95v.8h-.95zM287.3 240.5h.95v.8h-.95zM288.7 240.5h.95v.8h-.95zM289.9 240.5h.95v.8h-.95zM291.3 240.5h.95v.8h-.95zM288.6 240.5h.95v.8h-.95zM289.8 240.5h.95v.8h-.95zM290.8 240.5h.95v.8h-.95zM292.0 240.5h.95v.8h-.95zM303.3 240.5h.95v.8h-.95zM304.4 240.5h.95v.8h-.95zM301.9 240.5h.95v.8h-.95zM302.9 240.5h.95v.8h-.95zM304.4 240.5h.95v.8h-.95zM298.4 241.3h.95v.8h-.95zM299.5 241.3h.95v.8h-.95zM300.6 241.3h.95v.8h-.95zM301.6 241.3h.95v.8h-.95zM303.0 241.3h.95v.8h-.95zM304.5 241.3h.95v.8h-.95zM285.9 241.3h.95v.8h-.95zM287.1 241.3h.95v.8h-.95zM288.3 241.3h.95v.8h-.95zM289.4 241.3h.95v.8h-.95zM274.7 242.0h.95v.8h-.95zM276.0 242.0h.95v.8h-.95zM277.3 242.0h.95v.8h-.95zM293.8 242.0h.95v.8h-.95zM295.3 242.0h.95v.8h-.95zM297.8 242.0h.95v.8h-.95zM299.0 242.0h.95v.8h-.95zM300.1 242.0h.95v.8h-.95zM292.9 242.0h.95v.8h-.95zM294.2 242.0h.95v.8h-.95zM295.6 242.0h.95v.8h-.95zM296.8 242.0h.95v.8h-.95zM299.6 242.0h.95v.8h-.95zM297.0 242.0h.95v.8h-.95zM286.5 242.0h.95v.8h-.95zM288.1 242.0h.95v.8h-.95zM289.1 242.0h.95v.8h-.95zM290.6 242.0h.95v.8h-.95zM300.7 242.7h.95v.8h-.95zM302.1 242.7h.95v.8h-.95zM303.3 242.7h.95v.8h-.95zM304.9 242.7h.95v.8h-.95zM294.1 242.7h.95v.8h-.95zM295.7 242.7h.95v.8h-.95zM296.8 242.7h.95v.8h-.95zM298.4 242.7h.95v.8h-.95zM284.5 242.7h.95v.8h-.95zM285.8 242.7h.95v.8h-.95zM287.2 242.7h.95v.8h-.95zM285.0 243.4h.95v.8h-.95zM286.5 243.4h.95v.8h-.95zM299.4 243.4h.95v.8h-.95zM300.7 243.4h.95v.8h-.95zM302.0 243.4h.95v.8h-.95zM283.1 243.4h.95v.8h-.95zM284.4 243.4h.95v.8h-.95zM285.9 243.4h.95v.8h-.95zM289.7 243.4h.95v.8h-.95zM290.8 243.4h.95v.8h-.95zM291.9 243.4h.95v.8h-.95zM293.2 243.4h.95v.8h-.95zM294.6 243.4h.95v.8h-.95zM295.7 243.4h.95v.8h-.95zM293.8 244.1h.95v.8h-.95zM295.2 244.1h.95v.8h-.95zM296.5 244.1h.95v.8h-.95zM297.6 244.1h.95v.8h-.95zM303.5 244.1h.95v.8h-.95zM305.0 244.1h.95v.8h-.95zM278.8 244.8h.95v.8h-.95zM296.4 244.8h.95v.8h-.95zM297.5 244.8h.95v.8h-.95zM284.0 244.8h.95v.8h-.95zM285.1 244.8h.95v.8h-.95zM286.2 244.8h.95v.8h-.95zM287.2 244.8h.95v.8h-.95zM289.1 244.8h.95v.8h-.95zM290.4 244.8h.95v.8h-.95zM291.7 244.8h.95v.8h-.95zM301.6 244.8h.95v.8h-.95zM302.7 244.8h.95v.8h-.95zM303.7 244.8h.95v.8h-.95zM284.7 244.8h.95v.8h-.95zM285.9 244.8h.95v.8h-.95zM287.3 244.8h.95v.8h-.95zM288.7 244.8h.95v.8h-.95zM301.8 245.6h.95v.8h-.95zM303.1 245.6h.95v.8h-.95zM304.6 245.6h.95v.8h-.95zM289.1 245.6h.95v.8h-.95zM288.4 245.6h.95v.8h-.95zM289.6 245.6h.95v.8h-.95zM299.8 245.6h.95v.8h-.95zM301.3 245.6h.95v.8h-.95zM303.8 245.6h.95v.8h-.95zM290.0 245.6h.95v.8h-.95zM291.4 245.6h.95v.8h-.95zM292.4 245.6h.95v.8h-.95zM293.4 245.6h.95v.8h-.95zM294.6 245.6h.95v.8h-.95zM293.3 245.6h.95v.8h-.95zM294.5 245.6h.95v.8h-.95zM304.4 246.3h.95v.8h-.95zM297.3 247.0h.95v.8h-.95zM298.5 247.0h.95v.8h-.95zM299.6 247.0h.95v.8h-.95zM300.7 247.0h.95v.8h-.95zM302.2 247.0h.95v.8h-.95zM296.0 247.0h.95v.8h-.95zM297.5 247.0h.95v.8h-.95zM299.1 247.0h.95v.8h-.95zM300.3 247.0h.95v.8h-.95zM300.8 247.0h.95v.8h-.95zM302.2 247.0h.95v.8h-.95zM303.4 247.0h.95v.8h-.95zM304.8 247.0h.95v.8h-.95zM299.1 247.0h.95v.8h-.95zM300.6 247.0h.95v.8h-.95zM302.0 247.0h.95v.8h-.95zM303.1 247.0h.95v.8h-.95zM304.5 247.0h.95v.8h-.95zM296.0 247.0h.95v.8h-.95zM297.5 247.0h.95v.8h-.95zM298.9 247.0h.95v.8h-.95zM294.1 247.0h.95v.8h-.95zM295.2 247.0h.95v.8h-.95zM293.7 247.0h.95v.8h-.95zM294.7 247.0h.95v.8h-.95zM296.0 247.0h.95v.8h-.95zM297.2 247.0h.95v.8h-.95zM298.4 247.0h.95v.8h-.95zM301.7 247.0h.95v.8h-.95zM302.8 247.0h.95v.8h-.95zM304.1 247.0h.95v.8h-.95zM305.2 247.0h.95v.8h-.95zM303.6 247.7h.95v.8h-.95zM304.8 247.7h.95v.8h-.95zM274.3 247.7h.95v.8h-.95zM275.7 247.7h.95v.8h-.95zM277.2 247.7h.95v.8h-.95zM278.2 247.7h.95v.8h-.95zM280.6 247.7h.95v.8h-.95zM300.7 247.7h.95v.8h-.95zM301.8 247.7h.95v.8h-.95zM302.9 247.7h.95v.8h-.95zM304.0 247.7h.95v.8h-.95zM284.7 247.7h.95v.8h-.95zM285.8 247.7h.95v.8h-.95zM287.2 247.7h.95v.8h-.95zM288.8 247.7h.95v.8h-.95zM289.9 247.7h.95v.8h-.95zM291.0 247.7h.95v.8h-.95zM302.1 247.7h.95v.8h-.95zM303.1 247.7h.95v.8h-.95zM301.1 247.7h.95v.8h-.95zM302.2 247.7h.95v.8h-.95zM297.1 248.4h.95v.8h-.95zM298.3 248.4h.95v.8h-.95zM299.6 248.4h.95v.8h-.95zM300.8 248.4h.95v.8h-.95zM297.3 248.4h.95v.8h-.95zM298.6 248.4h.95v.8h-.95zM300.1 248.4h.95v.8h-.95zM302.2 248.4h.95v.8h-.95zM303.8 248.4h.95v.8h-.95zM304.9 248.4h.95v.8h-.95zM296.0 249.2h.95v.8h-.95zM297.4 249.2h.95v.8h-.95zM302.7 249.2h.95v.8h-.95zM304.2 249.2h.95v.8h-.95zM290.4 249.2h.95v.8h-.95zM291.5 249.2h.95v.8h-.95zM292.6 249.2h.95v.8h-.95zM293.7 249.2h.95v.8h-.95zM294.8 249.2h.95v.8h-.95zM296.1 249.2h.95v.8h-.95zM287.7 249.9h.95v.8h-.95zM288.9 249.9h.95v.8h-.95zM290.3 249.9h.95v.8h-.95zM291.6 249.9h.95v.8h-.95zM292.6 249.9h.95v.8h-.95zM297.8 249.9h.95v.8h-.95zM298.8 249.9h.95v.8h-.95zM295.4 249.9h.95v.8h-.95zM297.0 249.9h.95v.8h-.95zM298.0 249.9h.95v.8h-.95zM299.3 249.9h.95v.8h-.95zM294.1 250.6h.95v.8h-.95zM295.3 250.6h.95v.8h-.95zM291.0 250.6h.95v.8h-.95zM292.3 250.6h.95v.8h-.95zM293.5 250.6h.95v.8h-.95zM283.5 250.6h.95v.8h-.95zM284.6 250.6h.95v.8h-.95zM286.2 250.6h.95v.8h-.95zM287.4 250.6h.95v.8h-.95zM290.6 250.6h.95v.8h-.95zM293.4 250.6h.95v.8h-.95zM294.9 250.6h.95v.8h-.95zM296.0 250.6h.95v.8h-.95zM295.5 250.6h.95v.8h-.95zM296.8 250.6h.95v.8h-.95zM297.9 250.6h.95v.8h-.95zM299.0 250.6h.95v.8h-.95zM300.2 250.6h.95v.8h-.95zM291.4 251.3h.95v.8h-.95zM292.5 251.3h.95v.8h-.95zM283.1 251.3h.95v.8h-.95zM284.7 251.3h.95v.8h-.95zM286.0 251.3h.95v.8h-.95zM287.4 251.3h.95v.8h-.95zM288.5 251.3h.95v.8h-.95zM286.0 251.3h.95v.8h-.95zM287.6 251.3h.95v.8h-.95zM288.7 251.3h.95v.8h-.95zM291.8 251.3h.95v.8h-.95zM293.1 251.3h.95v.8h-.95zM294.2 251.3h.95v.8h-.95zM295.4 251.3h.95v.8h-.95zM296.6 251.3h.95v.8h-.95zM298.0 251.3h.95v.8h-.95zM296.7 251.3h.95v.8h-.95zM298.2 251.3h.95v.8h-.95zM290.3 251.3h.95v.8h-.95zM291.7 251.3h.95v.8h-.95zM292.8 251.3h.95v.8h-.95zM294.1 251.3h.95v.8h-.95zM295.2 251.3h.95v.8h-.95zM292.6 251.3h.95v.8h-.95zM293.6 251.3h.95v.8h-.95zM295.2 251.3h.95v.8h-.95zM296.5 251.3h.95v.8h-.95zM297.7 251.3h.95v.8h-.95zM299.1 251.3h.95v.8h-.95zM285.5 252.0h.95v.8h-.95zM286.5 252.0h.95v.8h-.95zM287.6 252.0h.95v.8h-.95zM301.9 252.0h.95v.8h-.95zM303.3 252.0h.95v.8h-.95zM304.1 252.0h.95v.8h-.95zM305.3 252.0h.95v.8h-.95zM280.2 252.0h.95v.8h-.95zM281.3 252.0h.95v.8h-.95zM282.5 252.0h.95v.8h-.95zM283.6 252.0h.95v.8h-.95zM284.9 252.0h.95v.8h-.95zM274.9 252.0h.95v.8h-.95zM276.0 252.0h.95v.8h-.95zM277.6 252.0h.95v.8h-.95zM293.6 252.0h.95v.8h-.95zM294.6 252.0h.95v.8h-.95zM296.0 252.0h.95v.8h-.95zM297.1 252.0h.95v.8h-.95zM298.4 252.0h.95v.8h-.95zM299.5 252.0h.95v.8h-.95zM300.5 252.0h.95v.8h-.95zM278.0 252.0h.95v.8h-.95zM279.4 252.0h.95v.8h-.95zM284.5 252.7h.95v.8h-.95zM285.6 252.7h.95v.8h-.95zM287.1 252.7h.95v.8h-.95zM288.3 252.7h.95v.8h-.95zM296.6 252.7h.95v.8h-.95zM297.9 252.7h.95v.8h-.95zM299.3 252.7h.95v.8h-.95zM290.5 252.7h.95v.8h-.95zM291.6 252.7h.95v.8h-.95zM292.8 252.7h.95v.8h-.95zM294.1 252.7h.95v.8h-.95zM293.4 253.5h.95v.8h-.95zM294.6 253.5h.95v.8h-.95zM289.1 253.5h.95v.8h-.95zM290.1 253.5h.95v.8h-.95zM291.6 253.5h.95v.8h-.95zM293.1 253.5h.95v.8h-.95zM295.7 254.2h.95v.8h-.95zM296.8 254.2h.95v.8h-.95zM284.0 254.2h.95v.8h-.95zM285.5 254.2h.95v.8h-.95zM286.7 254.2h.95v.8h-.95zM303.2 254.2h.95v.8h-.95zM304.8 254.2h.95v.8h-.95zM297.3 254.2h.95v.8h-.95zM298.9 254.2h.95v.8h-.95zM300.0 254.2h.95v.8h-.95zM301.5 254.2h.95v.8h-.95zM302.6 254.2h.95v.8h-.95zM304.1 254.2h.95v.8h-.95zM303.2 254.2h.95v.8h-.95zM304.6 254.2h.95v.8h-.95zM275.1 254.2h.95v.8h-.95zM276.3 254.2h.95v.8h-.95zM277.7 254.2h.95v.8h-.95zM297.0 254.9h.95v.8h-.95zM298.2 254.9h.95v.8h-.95zM302.4 254.9h.95v.8h-.95zM305.1 254.9h.95v.8h-.95zM298.9 254.9h.95v.8h-.95zM300.4 254.9h.95v.8h-.95zM302.9 254.9h.95v.8h-.95zM304.3 254.9h.95v.8h-.95zM287.2 255.6h.95v.8h-.95zM286.3 255.6h.95v.8h-.95zM295.4 255.6h.95v.8h-.95zM296.9 255.6h.95v.8h-.95zM298.1 255.6h.95v.8h-.95zM301.9 256.3h.95v.8h-.95zM303.5 256.3h.95v.8h-.95zM301.9 256.3h.95v.8h-.95zM303.2 256.3h.95v.8h-.95zM303.9 257.0h.95v.8h-.95zM305.1 257.0h.95v.8h-.95zM290.6 257.0h.95v.8h-.95zM292.1 257.0h.95v.8h-.95zM297.3 257.0h.95v.8h-.95zM298.6 257.0h.95v.8h-.95zM299.8 257.0h.95v.8h-.95zM299.8 257.8h.95v.8h-.95zM301.4 257.8h.95v.8h-.95zM302.8 257.8h.95v.8h-.95zM304.8 258.5h.95v.8h-.95zM304.3 259.2h.95v.8h-.95zM289.9 259.9h.95v.8h-.95zM274.2 262.8h.95v.8h-.95zM303.7 263.5h.95v.8h-.95zM305.1 263.5h.95v.8h-.95zM289.0 266.4h.95v.8h-.95zM290.2 266.4h.95v.8h-.95zM282.7 266.4h.95v.8h-.95zM278.2 268.5h.95v.8h-.95zM278.0 268.5h.95v.8h-.95zM279.5 268.5h.95v.8h-.95zM285.4 270.0h.95v.8h-.95zM286.8 270.0h.95v.8h-.95zM297.9 272.8h.95v.8h-.95zM301.9 272.8h.95v.8h-.95zM303.4 272.8h.95v.8h-.95zM273.4 272.8h.95v.8h-.95zM274.7 272.8h.95v.8h-.95zM276.2 272.8h.95v.8h-.95zM289.0 275.7h.95v.8h-.95zM290.6 275.7h.95v.8h-.95zM290.9 275.7h.95v.8h-.95zM292.2 275.7h.95v.8h-.95zM293.6 275.7h.95v.8h-.95zM307.1 275.7h.95v.8h-.95zM303.3 276.4h.95v.8h-.95zM304.8 276.4h.95v.8h-.95zM274.4 277.9h.95v.8h-.95zM307.1 278.6h.95v.8h-.95zM308.3 278.6h.95v.8h-.95zM307.3 279.3h.95v.8h-.95zM308.4 279.3h.95v.8h-.95zM294.6 281.4h.95v.8h-.95zM297.2 281.4h.95v.8h-.95zM300.9 281.4h.95v.8h-.95zM302.2 281.4h.95v.8h-.95zM303.2 281.4h.95v.8h-.95zM287.6 281.4h.95v.8h-.95zM288.8 281.4h.95v.8h-.95zM307.0 281.4h.95v.8h-.95zM289.9 282.2h.95v.8h-.95zM291.1 282.2h.95v.8h-.95zM295.1 282.9h.95v.8h-.95zM274.3 284.3h.95v.8h-.95zM298.3 285.8h.95v.8h-.95zM299.7 285.8h.95v.8h-.95zM291.6 286.5h.95v.8h-.95zM294.1 286.5h.95v.8h-.95zM306.6 286.5h.95v.8h-.95zM308.0 286.5h.95v.8h-.95zM284.5 287.9h.95v.8h-.95zM285.9 287.9h.95v.8h-.95zM287.2 287.9h.95v.8h-.95zM303.4 287.9h.95v.8h-.95zM304.7 287.9h.95v.8h-.95zM275.7 288.6h.95v.8h-.95zM277.1 288.6h.95v.8h-.95zM275.9 288.6h.95v.8h-.95zM277.2 288.6h.95v.8h-.95zM278.9 289.3h.95v.8h-.95zM280.0 289.3h.95v.8h-.95zM281.2 289.3h.95v.8h-.95zM302.1 290.1h.95v.8h-.95zM303.3 290.1h.95v.8h-.95zM304.5 290.1h.95v.8h-.95zM298.7 290.1h.95v.8h-.95zM300.1 290.1h.95v.8h-.95zM287.1 290.1h.95v.8h-.95zM288.4 290.1h.95v.8h-.95zM283.4 290.8h.95v.8h-.95zM287.4 291.5h.95v.8h-.95zM288.5 291.5h.95v.8h-.95zM296.6 292.9h.95v.8h-.95zM280.5 292.9h.95v.8h-.95zM287.7 292.9h.95v.8h-.95zM289.2 292.9h.95v.8h-.95zM306.1 293.6h.95v.8h-.95zM304.4 293.6h.95v.8h-.95zM305.8 293.6h.95v.8h-.95zM307.2 293.6h.95v.8h-.95zM289.2 294.4h.95v.8h-.95zM281.8 295.8h.95v.8h-.95zM296.6 298.0h.95v.8h-.95zM298.0 298.0h.95v.8h-.95zM298.0 298.7h.95v.8h-.95zM299.2 298.7h.95v.8h-.95zM300.2 298.7h.95v.8h-.95zM294.8 300.1h.95v.8h-.95zM296.1 300.1h.95v.8h-.95zM301.8 300.8h.95v.8h-.95zM304.1 301.5h.95v.8h-.95zM305.5 301.5h.95v.8h-.95zM304.8 301.5h.95v.8h-.95zM306.4 301.5h.95v.8h-.95zM307.8 301.5h.95v.8h-.95zM286.3 301.5h.95v.8h-.95zM287.4 301.5h.95v.8h-.95zM288.9 301.5h.95v.8h-.95zM290.5 302.3h.95v.8h-.95zM291.9 302.3h.95v.8h-.95zM296.1 303.7h.95v.8h-.95zM281.7 303.7h.95v.8h-.95zM282.8 303.7h.95v.8h-.95zM287.2 304.4h.95v.8h-.95zM288.4 304.4h.95v.8h-.95zM290.6 304.4h.95v.8h-.95zM291.9 304.4h.95v.8h-.95zM306.5 304.4h.95v.8h-.95zM307.7 304.4h.95v.8h-.95zM308.9 304.4h.95v.8h-.95zM279.5 305.1h.95v.8h-.95zM304.2 305.1h.95v.8h-.95zM305.5 305.1h.95v.8h-.95zM306.7 306.6h.95v.8h-.95zM304.0 306.6h.95v.8h-.95zM305.4 306.6h.95v.8h-.95zM306.6 306.6h.95v.8h-.95zM279.3 306.6h.95v.8h-.95zM280.8 306.6h.95v.8h-.95zM279.0 306.6h.95v.8h-.95zM281.8 307.3h.95v.8h-.95zM289.9 308.0h.95v.8h-.95zM291.0 308.0h.95v.8h-.95zM292.0 308.0h.95v.8h-.95zM305.6 308.7h.95v.8h-.95zM307.6 309.4h.95v.8h-.95zM308.6 309.4h.95v.8h-.95zM308.4 310.9h.95v.8h-.95zM309.8 310.9h.95v.8h-.95zM296.1 311.6h.95v.8h-.95zM297.5 311.6h.95v.8h-.95zM272.5 311.6h.95v.8h-.95zM273.9 311.6h.95v.8h-.95zM285.1 312.3h.95v.8h-.95zM287.2 312.3h.95v.8h-.95zM288.1 313.0h.95v.8h-.95zM291.8 313.7h.95v.8h-.95zM288.3 314.5h.95v.8h-.95zM282.3 315.2h.95v.8h-.95zM283.6 315.2h.95v.8h-.95zM305.9 315.2h.95v.8h-.95z"/>
<rect x="270.60" y="215.40" width="39.80" height="157.89" fill="none" stroke="#161616" stroke-width="1.2"/>
<line x1="266.60" y1="215.40" x2="270.60" y2="215.40" stroke="#161616" stroke-width="1.15"/>
<line x1="266.60" y1="229.75" x2="270.60" y2="229.75" stroke="#161616" stroke-width="1.15"/>
<line x1="266.60" y1="244.11" x2="270.60" y2="244.11" stroke="#161616" stroke-width="1.15"/>
<line x1="266.60" y1="258.46" x2="270.60" y2="258.46" stroke="#161616" stroke-width="1.15"/>
<line x1="266.60" y1="272.82" x2="270.60" y2="272.82" stroke="#161616" stroke-width="1.15"/>
<line x1="266.60" y1="287.17" x2="270.60" y2="287.17" stroke="#161616" stroke-width="1.15"/>
<line x1="266.60" y1="301.52" x2="270.60" y2="301.52" stroke="#161616" stroke-width="1.15"/>
<line x1="266.60" y1="315.88" x2="270.60" y2="315.88" stroke="#161616" stroke-width="1.15"/>
<line x1="266.60" y1="330.23" x2="270.60" y2="330.23" stroke="#161616" stroke-width="1.15"/>
<line x1="266.60" y1="344.59" x2="270.60" y2="344.59" stroke="#161616" stroke-width="1.15"/>
<line x1="266.60" y1="358.94" x2="270.60" y2="358.94" stroke="#161616" stroke-width="1.15"/>
<line x1="266.60" y1="373.29" x2="270.60" y2="373.29" stroke="#161616" stroke-width="1.15"/>
<line x1="270.60" y1="373.29" x2="270.60" y2="377.29" stroke="#161616" stroke-width="1.15"/>
<text x="270.60" y="389.60" font-size="9.8" text-anchor="middle" fill="#000" font-weight="normal">0</text>
<line x1="290.50" y1="373.29" x2="290.50" y2="377.29" stroke="#161616" stroke-width="1.15"/>
<text x="290.50" y="389.60" font-size="9.8" text-anchor="middle" fill="#000" font-weight="normal">200</text>
<line x1="310.40" y1="373.29" x2="310.40" y2="377.29" stroke="#161616" stroke-width="1.15"/>
<text x="310.40" y="389.60" font-size="9.8" text-anchor="middle" fill="#000" font-weight="normal">400</text>
<polygon points="312.20,315.88 317.80,313.08 316.30,315.88 317.80,318.68" fill="#000"/>
<text x="344.90" y="210.10" font-size="12.2" text-anchor="middle" fill="#ff7f0e" font-weight="normal">A18_S6</text>
<rect x="359.93" y="229.75" width="5.17" height="43.06" fill="#ee7ab4"/>
<rect x="349.98" y="272.82" width="4.98" height="43.06" fill="#3a52a3"/>
<rect x="359.93" y="315.88" width="5.17" height="27.99" fill="#ee7ab4"/>
<rect x="349.98" y="344.59" width="4.98" height="28.71" fill="#3a52a3"/>
<path fill="#000" d="M329.7 219.7h.95v.8h-.95zM333.5 219.7h.95v.8h-.95zM334.9 219.7h.95v.8h-.95zM342.2 219.7h.95v.8h-.95zM331.6 221.2h.95v.8h-.95zM333.0 221.2h.95v.8h-.95zM334.2 221.2h.95v.8h-.95zM335.3 221.2h.95v.8h-.95zM338.1 221.2h.95v.8h-.95zM339.3 221.2h.95v.8h-.95zM340.7 221.2h.95v.8h-.95zM342.2 221.2h.95v.8h-.95zM345.8 221.2h.95v.8h-.95zM347.1 221.2h.95v.8h-.95zM348.1 221.2h.95v.8h-.95zM349.4 221.2h.95v.8h-.95zM351.0 221.2h.95v.8h-.95zM352.5 221.2h.95v.8h-.95zM328.6 230.1h.95v.8h-.95zM331.4 230.1h.95v.8h-.95zM332.9 230.1h.95v.8h-.95zM334.5 230.1h.95v.8h-.95zM336.0 230.1h.95v.8h-.95zM337.6 230.1h.95v.8h-.95zM341.4 230.1h.95v.8h-.95zM345.3 230.1h.95v.8h-.95zM346.5 230.1h.95v.8h-.95zM348.9 230.1h.95v.8h-.95zM350.1 230.1h.95v.8h-.95zM351.2 230.1h.95v.8h-.95zM352.4 230.1h.95v.8h-.95zM353.9 230.1h.95v.8h-.95zM357.0 233.4h.95v.8h-.95zM358.2 233.4h.95v.8h-.95zM359.3 233.4h.95v.8h-.95zM358.6 229.8h.95v.8h-.95zM358.3 231.2h.95v.8h-.95zM359.3 231.2h.95v.8h-.95zM358.0 231.2h.95v.8h-.95zM359.3 231.2h.95v.8h-.95zM358.1 231.2h.95v.8h-.95zM359.6 231.2h.95v.8h-.95zM359.3 231.9h.95v.8h-.95zM358.5 231.9h.95v.8h-.95zM357.8 232.6h.95v.8h-.95zM359.1 232.6h.95v.8h-.95zM357.5 232.6h.95v.8h-.95zM358.8 232.6h.95v.8h-.95zM359.9 232.6h.95v.8h-.95zM354.8 232.6h.95v.8h-.95zM356.4 232.6h.95v.8h-.95zM357.5 232.6h.95v.8h-.95zM358.8 232.6h.95v.8h-.95zM359.9 232.6h.95v.8h-.95zM357.2 233.4h.95v.8h-.95zM358.6 233.4h.95v.8h-.95zM359.7 233.4h.95v.8h-.95zM358.3 233.4h.95v.8h-.95zM359.4 233.4h.95v.8h-.95zM356.4 233.4h.95v.8h-.95zM357.4 233.4h.95v.8h-.95zM358.8 233.4h.95v.8h-.95zM358.1 233.4h.95v.8h-.95zM359.5 233.4h.95v.8h-.95zM358.6 234.1h.95v.8h-.95zM357.0 234.8h.95v.8h-.95zM358.1 234.8h.95v.8h-.95zM359.7 234.8h.95v.8h-.95zM354.2 235.5h.95v.8h-.95zM355.5 235.5h.95v.8h-.95zM358.5 235.5h.95v.8h-.95zM359.9 235.5h.95v.8h-.95zM356.2 235.5h.95v.8h-.95zM357.4 235.5h.95v.8h-.95zM358.6 235.5h.95v.8h-.95zM359.6 235.5h.95v.8h-.95zM357.4 235.5h.95v.8h-.95zM358.9 235.5h.95v.8h-.95zM355.8 235.5h.95v.8h-.95zM357.1 235.5h.95v.8h-.95zM358.4 235.5h.95v.8h-.95zM356.5 235.5h.95v.8h-.95zM357.9 235.5h.95v.8h-.95zM359.1 235.5h.95v.8h-.95zM358.1 235.5h.95v.8h-.95zM359.3 235.5h.95v.8h-.95zM357.3 236.2h.95v.8h-.95zM358.8 236.2h.95v.8h-.95zM358.2 237.0h.95v.8h-.95zM359.4 237.0h.95v.8h-.95zM358.2 237.7h.95v.8h-.95zM359.6 237.7h.95v.8h-.95zM354.2 237.7h.95v.8h-.95zM355.8 237.7h.95v.8h-.95zM357.3 237.7h.95v.8h-.95zM358.4 237.7h.95v.8h-.95zM359.8 237.7h.95v.8h-.95zM357.8 239.1h.95v.8h-.95zM358.8 239.1h.95v.8h-.95zM358.6 239.1h.95v.8h-.95zM356.5 239.1h.95v.8h-.95zM357.7 239.1h.95v.8h-.95zM359.0 239.1h.95v.8h-.95zM358.3 239.8h.95v.8h-.95zM359.4 239.8h.95v.8h-.95zM358.1 240.5h.95v.8h-.95zM356.9 240.5h.95v.8h-.95zM358.3 240.5h.95v.8h-.95zM359.6 240.5h.95v.8h-.95zM358.4 240.5h.95v.8h-.95zM359.7 240.5h.95v.8h-.95zM357.6 241.3h.95v.8h-.95zM359.0 241.3h.95v.8h-.95zM358.4 242.0h.95v.8h-.95zM359.8 242.0h.95v.8h-.95zM358.4 242.0h.95v.8h-.95zM359.6 242.0h.95v.8h-.95zM358.4 242.7h.95v.8h-.95zM358.9 242.7h.95v.8h-.95zM357.8 242.7h.95v.8h-.95zM357.7 243.4h.95v.8h-.95zM358.7 243.4h.95v.8h-.95zM357.6 243.4h.95v.8h-.95zM358.6 243.4h.95v.8h-.95zM357.9 244.1h.95v.8h-.95zM358.9 244.1h.95v.8h-.95zM357.9 244.8h.95v.8h-.95zM359.1 244.8h.95v.8h-.95zM358.2 244.8h.95v.8h-.95zM359.8 244.8h.95v.8h-.95zM356.3 244.8h.95v.8h-.95zM357.7 244.8h.95v.8h-.95zM359.2 244.8h.95v.8h-.95zM354.3 245.6h.95v.8h-.95zM355.6 245.6h.95v.8h-.95zM357.0 245.6h.95v.8h-.95zM358.6 245.6h.95v.8h-.95zM358.4 245.6h.95v.8h-.95zM359.6 245.6h.95v.8h-.95zM356.8 246.3h.95v.8h-.95zM358.2 246.3h.95v.8h-.95zM358.4 246.3h.95v.8h-.95zM359.7 246.3h.95v.8h-.95zM357.0 247.0h.95v.8h-.95zM358.2 247.0h.95v.8h-.95zM359.7 247.0h.95v.8h-.95zM358.2 247.0h.95v.8h-.95zM359.6 247.0h.95v.8h-.95zM358.2 248.4h.95v.8h-.95zM359.3 248.4h.95v.8h-.95zM358.4 248.4h.95v.8h-.95zM359.6 248.4h.95v.8h-.95zM358.2 248.4h.95v.8h-.95zM359.7 248.4h.95v.8h-.95zM357.0 249.2h.95v.8h-.95zM358.6 249.2h.95v.8h-.95zM342.3 249.2h.95v.8h-.95zM343.8 249.2h.95v.8h-.95zM345.3 249.2h.95v.8h-.95zM346.8 249.2h.95v.8h-.95zM348.0 249.2h.95v.8h-.95zM349.4 249.2h.95v.8h-.95zM350.7 249.2h.95v.8h-.95zM352.2 249.2h.95v.8h-.95zM353.6 249.2h.95v.8h-.95zM354.6 249.2h.95v.8h-.95zM356.2 249.2h.95v.8h-.95zM357.2 249.2h.95v.8h-.95zM358.3 249.2h.95v.8h-.95zM358.5 249.2h.95v.8h-.95zM355.7 249.2h.95v.8h-.95zM356.8 249.2h.95v.8h-.95zM358.3 249.2h.95v.8h-.95zM359.3 249.2h.95v.8h-.95zM356.0 249.2h.95v.8h-.95zM357.3 249.2h.95v.8h-.95zM358.4 249.2h.95v.8h-.95zM358.2 249.9h.95v.8h-.95zM359.5 249.9h.95v.8h-.95zM358.3 249.9h.95v.8h-.95zM359.4 249.9h.95v.8h-.95zM356.9 250.6h.95v.8h-.95zM358.3 250.6h.95v.8h-.95zM359.5 250.6h.95v.8h-.95zM357.8 251.3h.95v.8h-.95zM359.1 251.3h.95v.8h-.95zM356.2 251.3h.95v.8h-.95zM357.3 251.3h.95v.8h-.95zM358.4 251.3h.95v.8h-.95zM359.8 251.3h.95v.8h-.95zM355.3 251.3h.95v.8h-.95zM356.7 251.3h.95v.8h-.95zM358.2 251.3h.95v.8h-.95zM359.7 251.3h.95v.8h-.95zM358.2 252.0h.95v.8h-.95zM359.7 252.0h.95v.8h-.95zM358.5 252.0h.95v.8h-.95zM359.6 252.0h.95v.8h-.95zM358.0 252.7h.95v.8h-.95zM359.0 252.7h.95v.8h-.95zM357.2 252.7h.95v.8h-.95zM358.8 252.7h.95v.8h-.95zM359.8 252.7h.95v.8h-.95zM357.8 252.7h.95v.8h-.95zM358.9 252.7h.95v.8h-.95zM357.9 253.5h.95v.8h-.95zM359.4 253.5h.95v.8h-.95zM358.1 253.5h.95v.8h-.95zM359.1 253.5h.95v.8h-.95zM354.8 253.5h.95v.8h-.95zM356.1 253.5h.95v.8h-.95zM357.3 253.5h.95v.8h-.95zM358.5 253.5h.95v.8h-.95zM359.6 253.5h.95v.8h-.95zM357.2 253.5h.95v.8h-.95zM358.6 253.5h.95v.8h-.95zM358.0 254.2h.95v.8h-.95zM359.0 254.2h.95v.8h-.95zM357.2 254.2h.95v.8h-.95zM358.7 254.2h.95v.8h-.95zM358.4 254.9h.95v.8h-.95zM359.6 254.9h.95v.8h-.95zM358.2 254.9h.95v.8h-.95zM356.2 254.9h.95v.8h-.95zM357.5 254.9h.95v.8h-.95zM358.7 254.9h.95v.8h-.95zM359.8 254.9h.95v.8h-.95zM355.7 254.9h.95v.8h-.95zM356.9 254.9h.95v.8h-.95zM358.5 254.9h.95v.8h-.95zM359.7 254.9h.95v.8h-.95zM358.2 254.9h.95v.8h-.95zM359.7 254.9h.95v.8h-.95zM358.8 255.6h.95v.8h-.95zM358.3 256.3h.95v.8h-.95zM359.4 256.3h.95v.8h-.95zM356.7 256.3h.95v.8h-.95zM358.3 256.3h.95v.8h-.95zM359.4 256.3h.95v.8h-.95zM357.3 258.5h.95v.8h-.95zM358.7 258.5h.95v.8h-.95zM358.0 258.5h.95v.8h-.95zM359.3 258.5h.95v.8h-.95zM358.8 259.2h.95v.8h-.95zM359.8 259.2h.95v.8h-.95zM357.4 259.2h.95v.8h-.95zM358.2 259.9h.95v.8h-.95zM359.6 259.9h.95v.8h-.95zM358.7 260.6h.95v.8h-.95zM355.5 260.6h.95v.8h-.95zM357.9 260.6h.95v.8h-.95zM359.3 260.6h.95v.8h-.95zM358.6 261.4h.95v.8h-.95zM356.1 262.1h.95v.8h-.95zM357.3 262.1h.95v.8h-.95zM358.8 262.1h.95v.8h-.95zM357.0 262.1h.95v.8h-.95zM358.0 262.1h.95v.8h-.95zM359.1 262.1h.95v.8h-.95zM356.7 262.8h.95v.8h-.95zM358.0 262.8h.95v.8h-.95zM359.1 262.8h.95v.8h-.95zM358.6 262.8h.95v.8h-.95zM357.9 262.8h.95v.8h-.95zM358.6 262.8h.95v.8h-.95zM357.5 262.8h.95v.8h-.95zM359.0 262.8h.95v.8h-.95zM357.3 262.8h.95v.8h-.95zM358.5 262.8h.95v.8h-.95zM359.5 262.8h.95v.8h-.95zM358.4 263.5h.95v.8h-.95zM359.6 263.5h.95v.8h-.95zM352.2 264.2h.95v.8h-.95zM353.8 264.2h.95v.8h-.95zM354.8 264.2h.95v.8h-.95zM355.9 264.2h.95v.8h-.95zM357.1 264.2h.95v.8h-.95zM358.5 264.2h.95v.8h-.95zM359.8 264.2h.95v.8h-.95zM358.8 265.7h.95v.8h-.95zM359.8 265.7h.95v.8h-.95zM358.1 265.7h.95v.8h-.95zM359.6 265.7h.95v.8h-.95zM358.3 265.7h.95v.8h-.95zM359.4 265.7h.95v.8h-.95zM356.9 265.7h.95v.8h-.95zM358.3 265.7h.95v.8h-.95zM359.6 265.7h.95v.8h-.95zM358.6 266.4h.95v.8h-.95zM359.7 266.4h.95v.8h-.95zM357.9 266.4h.95v.8h-.95zM359.4 266.4h.95v.8h-.95zM358.2 268.5h.95v.8h-.95zM359.3 268.5h.95v.8h-.95zM358.3 269.2h.95v.8h-.95zM359.6 269.2h.95v.8h-.95zM355.2 270.0h.95v.8h-.95zM356.7 270.0h.95v.8h-.95zM358.1 270.0h.95v.8h-.95zM359.1 270.0h.95v.8h-.95zM358.4 270.7h.95v.8h-.95zM359.8 270.7h.95v.8h-.95zM355.6 270.7h.95v.8h-.95zM357.0 270.7h.95v.8h-.95zM358.5 270.7h.95v.8h-.95zM359.6 270.7h.95v.8h-.95zM356.6 271.4h.95v.8h-.95zM357.6 271.4h.95v.8h-.95zM358.6 271.4h.95v.8h-.95zM359.8 271.4h.95v.8h-.95zM329.6 220.8h.95v.8h-.95zM332.3 220.8h.95v.8h-.95zM333.4 220.8h.95v.8h-.95zM337.6 220.8h.95v.8h-.95zM338.9 220.8h.95v.8h-.95zM340.0 220.8h.95v.8h-.95zM342.4 220.8h.95v.8h-.95zM345.0 220.8h.95v.8h-.95zM339.6 239.1h.95v.8h-.95zM341.9 239.1h.95v.8h-.95zM343.1 239.1h.95v.8h-.95zM344.6 239.1h.95v.8h-.95zM345.7 239.1h.95v.8h-.95zM350.6 239.1h.95v.8h-.95zM354.5 239.1h.95v.8h-.95zM355.7 239.1h.95v.8h-.95zM334.6 248.4h.95v.8h-.95zM336.1 248.4h.95v.8h-.95zM337.2 248.4h.95v.8h-.95zM339.8 248.4h.95v.8h-.95zM343.1 248.4h.95v.8h-.95zM347.4 248.4h.95v.8h-.95zM348.8 248.4h.95v.8h-.95zM355.1 248.4h.95v.8h-.95zM356.2 248.4h.95v.8h-.95zM357.7 248.4h.95v.8h-.95zM352.0 254.9h.95v.8h-.95zM353.5 254.9h.95v.8h-.95zM354.7 254.9h.95v.8h-.95zM332.5 272.5h.95v.8h-.95zM333.8 272.5h.95v.8h-.95zM337.5 272.5h.95v.8h-.95zM340.0 272.5h.95v.8h-.95zM341.5 272.5h.95v.8h-.95zM343.0 272.5h.95v.8h-.95zM345.7 272.5h.95v.8h-.95zM349.2 272.5h.95v.8h-.95zM352.1 272.5h.95v.8h-.95zM353.3 272.5h.95v.8h-.95zM331.6 273.0h.95v.8h-.95zM332.9 273.0h.95v.8h-.95zM334.2 273.0h.95v.8h-.95zM335.4 273.0h.95v.8h-.95zM336.8 273.0h.95v.8h-.95zM337.9 273.0h.95v.8h-.95zM339.1 273.0h.95v.8h-.95zM340.3 273.0h.95v.8h-.95zM341.7 273.0h.95v.8h-.95zM343.3 273.0h.95v.8h-.95zM345.8 273.0h.95v.8h-.95zM347.5 272.8h.95v.8h-.95zM349.0 272.8h.95v.8h-.95zM347.7 272.8h.95v.8h-.95zM348.8 272.8h.95v.8h-.95zM348.2 273.6h.95v.8h-.95zM349.4 273.6h.95v.8h-.95zM347.0 274.3h.95v.8h-.95zM348.2 274.3h.95v.8h-.95zM349.4 274.3h.95v.8h-.95zM347.3 274.3h.95v.8h-.95zM348.7 274.3h.95v.8h-.95zM349.8 274.3h.95v.8h-.95zM348.3 275.7h.95v.8h-.95zM349.6 275.7h.95v.8h-.95zM348.0 275.7h.95v.8h-.95zM349.0 275.7h.95v.8h-.95zM346.4 275.7h.95v.8h-.95zM347.6 275.7h.95v.8h-.95zM349.0 275.7h.95v.8h-.95zM347.8 276.4h.95v.8h-.95zM348.9 276.4h.95v.8h-.95zM347.8 276.4h.95v.8h-.95zM347.7 277.1h.95v.8h-.95zM348.9 277.1h.95v.8h-.95zM347.9 277.1h.95v.8h-.95zM348.9 277.1h.95v.8h-.95zM347.5 277.1h.95v.8h-.95zM348.5 277.1h.95v.8h-.95zM349.5 277.1h.95v.8h-.95zM347.9 277.1h.95v.8h-.95zM349.2 277.1h.95v.8h-.95zM347.2 277.9h.95v.8h-.95zM348.3 277.9h.95v.8h-.95zM349.7 277.9h.95v.8h-.95zM347.6 277.9h.95v.8h-.95zM349.0 277.9h.95v.8h-.95zM346.2 277.9h.95v.8h-.95zM347.6 277.9h.95v.8h-.95zM348.6 277.9h.95v.8h-.95zM349.7 277.9h.95v.8h-.95zM348.2 277.9h.95v.8h-.95zM349.6 277.9h.95v.8h-.95zM347.9 278.6h.95v.8h-.95zM349.5 278.6h.95v.8h-.95zM344.9 278.6h.95v.8h-.95zM346.5 278.6h.95v.8h-.95zM347.8 278.6h.95v.8h-.95zM348.9 278.6h.95v.8h-.95zM347.6 278.6h.95v.8h-.95zM348.9 278.6h.95v.8h-.95zM346.8 279.3h.95v.8h-.95zM348.3 279.3h.95v.8h-.95zM349.3 279.3h.95v.8h-.95zM347.5 280.0h.95v.8h-.95zM348.9 280.0h.95v.8h-.95zM347.5 280.7h.95v.8h-.95zM348.7 280.7h.95v.8h-.95zM348.2 280.7h.95v.8h-.95zM349.8 280.7h.95v.8h-.95zM347.9 280.7h.95v.8h-.95zM349.2 280.7h.95v.8h-.95zM345.5 281.4h.95v.8h-.95zM346.9 281.4h.95v.8h-.95zM348.1 281.4h.95v.8h-.95zM349.5 281.4h.95v.8h-.95zM348.2 281.4h.95v.8h-.95zM349.4 281.4h.95v.8h-.95zM348.3 281.4h.95v.8h-.95zM349.5 281.4h.95v.8h-.95zM347.8 281.4h.95v.8h-.95zM349.3 281.4h.95v.8h-.95zM348.3 281.4h.95v.8h-.95zM348.2 282.9h.95v.8h-.95zM349.5 282.9h.95v.8h-.95zM348.2 282.9h.95v.8h-.95zM349.7 282.9h.95v.8h-.95zM348.1 283.6h.95v.8h-.95zM349.5 283.6h.95v.8h-.95zM346.7 283.6h.95v.8h-.95zM348.1 283.6h.95v.8h-.95zM349.3 283.6h.95v.8h-.95zM347.5 283.6h.95v.8h-.95zM349.1 283.6h.95v.8h-.95zM349.3 283.6h.95v.8h-.95zM349.6 284.3h.95v.8h-.95zM347.9 284.3h.95v.8h-.95zM347.4 284.3h.95v.8h-.95zM348.8 284.3h.95v.8h-.95zM345.1 284.3h.95v.8h-.95zM346.1 284.3h.95v.8h-.95zM347.6 284.3h.95v.8h-.95zM349.1 284.3h.95v.8h-.95zM347.1 284.3h.95v.8h-.95zM348.1 284.3h.95v.8h-.95zM349.3 284.3h.95v.8h-.95zM347.7 285.0h.95v.8h-.95zM349.3 285.0h.95v.8h-.95zM346.8 285.0h.95v.8h-.95zM348.4 285.0h.95v.8h-.95zM345.5 285.8h.95v.8h-.95zM347.1 285.8h.95v.8h-.95zM346.0 285.8h.95v.8h-.95zM347.6 285.8h.95v.8h-.95zM348.8 285.8h.95v.8h-.95zM348.1 285.8h.95v.8h-.95zM349.7 285.8h.95v.8h-.95zM348.2 286.5h.95v.8h-.95zM349.4 286.5h.95v.8h-.95zM348.0 286.5h.95v.8h-.95zM349.4 286.5h.95v.8h-.95zM346.0 286.5h.95v.8h-.95zM347.3 286.5h.95v.8h-.95zM348.4 286.5h.95v.8h-.95zM349.7 286.5h.95v.8h-.95zM347.3 287.2h.95v.8h-.95zM348.6 287.2h.95v.8h-.95zM347.5 287.2h.95v.8h-.95zM348.8 287.2h.95v.8h-.95zM348.5 287.2h.95v.8h-.95zM346.5 287.2h.95v.8h-.95zM347.8 287.2h.95v.8h-.95zM349.1 287.2h.95v.8h-.95zM348.1 287.2h.95v.8h-.95zM349.7 287.2h.95v.8h-.95zM346.7 287.2h.95v.8h-.95zM347.9 287.2h.95v.8h-.95zM349.3 287.2h.95v.8h-.95zM347.9 287.2h.95v.8h-.95zM349.4 287.2h.95v.8h-.95zM348.0 287.2h.95v.8h-.95zM349.6 287.2h.95v.8h-.95zM347.2 287.9h.95v.8h-.95zM348.5 287.9h.95v.8h-.95zM347.7 287.9h.95v.8h-.95zM349.3 287.9h.95v.8h-.95zM347.6 288.6h.95v.8h-.95zM348.7 288.6h.95v.8h-.95zM344.8 289.3h.95v.8h-.95zM346.1 289.3h.95v.8h-.95zM347.5 289.3h.95v.8h-.95zM349.0 289.3h.95v.8h-.95zM348.1 289.3h.95v.8h-.95zM349.2 289.3h.95v.8h-.95zM348.2 290.1h.95v.8h-.95zM349.7 290.1h.95v.8h-.95zM348.2 290.1h.95v.8h-.95zM349.6 290.1h.95v.8h-.95zM347.6 290.1h.95v.8h-.95zM348.6 290.1h.95v.8h-.95zM347.7 290.8h.95v.8h-.95zM349.1 290.8h.95v.8h-.95zM347.5 290.8h.95v.8h-.95zM349.0 290.8h.95v.8h-.95zM348.2 290.8h.95v.8h-.95zM349.6 290.8h.95v.8h-.95zM347.1 290.8h.95v.8h-.95zM348.4 290.8h.95v.8h-.95zM349.7 290.8h.95v.8h-.95zM347.8 291.5h.95v.8h-.95zM348.9 291.5h.95v.8h-.95zM348.3 293.6h.95v.8h-.95zM349.3 293.6h.95v.8h-.95zM347.7 293.6h.95v.8h-.95zM349.1 293.6h.95v.8h-.95zM348.1 294.4h.95v.8h-.95zM349.5 294.4h.95v.8h-.95zM347.9 294.4h.95v.8h-.95zM349.1 294.4h.95v.8h-.95zM344.9 294.4h.95v.8h-.95zM346.1 294.4h.95v.8h-.95zM348.7 294.4h.95v.8h-.95zM348.6 295.1h.95v.8h-.95zM349.6 295.1h.95v.8h-.95zM347.0 295.1h.95v.8h-.95zM348.6 295.1h.95v.8h-.95zM346.1 295.1h.95v.8h-.95zM347.5 295.1h.95v.8h-.95zM348.6 295.1h.95v.8h-.95zM346.9 295.8h.95v.8h-.95zM348.2 295.8h.95v.8h-.95zM349.4 295.8h.95v.8h-.95zM347.5 295.8h.95v.8h-.95zM348.9 295.8h.95v.8h-.95zM348.2 295.8h.95v.8h-.95zM349.7 295.8h.95v.8h-.95zM348.1 295.8h.95v.8h-.95zM349.4 295.8h.95v.8h-.95zM347.9 295.8h.95v.8h-.95zM349.5 295.8h.95v.8h-.95zM347.7 296.5h.95v.8h-.95zM348.7 296.5h.95v.8h-.95zM348.1 296.5h.95v.8h-.95zM349.3 296.5h.95v.8h-.95zM347.3 296.5h.95v.8h-.95zM348.4 296.5h.95v.8h-.95zM347.8 296.5h.95v.8h-.95zM349.3 296.5h.95v.8h-.95zM346.9 296.5h.95v.8h-.95zM348.4 296.5h.95v.8h-.95zM349.4 296.5h.95v.8h-.95zM348.1 297.2h.95v.8h-.95zM349.5 297.2h.95v.8h-.95zM348.0 298.0h.95v.8h-.95zM349.5 298.0h.95v.8h-.95zM347.9 298.0h.95v.8h-.95zM349.0 298.0h.95v.8h-.95zM347.2 298.7h.95v.8h-.95zM348.6 298.7h.95v.8h-.95zM348.0 299.4h.95v.8h-.95zM349.1 299.4h.95v.8h-.95zM347.4 299.4h.95v.8h-.95zM348.8 299.4h.95v.8h-.95zM348.2 299.4h.95v.8h-.95zM349.4 299.4h.95v.8h-.95zM346.3 300.8h.95v.8h-.95zM347.5 300.8h.95v.8h-.95zM348.7 300.8h.95v.8h-.95zM348.3 300.8h.95v.8h-.95zM349.4 300.8h.95v.8h-.95zM347.3 300.8h.95v.8h-.95zM347.4 301.5h.95v.8h-.95zM348.4 301.5h.95v.8h-.95zM349.6 301.5h.95v.8h-.95zM347.9 301.5h.95v.8h-.95zM349.1 301.5h.95v.8h-.95zM347.4 301.5h.95v.8h-.95zM348.5 301.5h.95v.8h-.95zM347.6 302.3h.95v.8h-.95zM348.0 302.3h.95v.8h-.95zM349.5 302.3h.95v.8h-.95zM348.1 302.3h.95v.8h-.95zM349.5 302.3h.95v.8h-.95zM347.8 302.3h.95v.8h-.95zM349.1 302.3h.95v.8h-.95zM348.0 302.3h.95v.8h-.95zM349.4 302.3h.95v.8h-.95zM347.5 303.0h.95v.8h-.95zM348.9 303.0h.95v.8h-.95zM345.3 303.0h.95v.8h-.95zM346.6 303.0h.95v.8h-.95zM347.7 303.0h.95v.8h-.95zM349.2 303.0h.95v.8h-.95zM347.9 303.0h.95v.8h-.95zM348.9 303.0h.95v.8h-.95zM347.7 303.7h.95v.8h-.95zM348.8 303.7h.95v.8h-.95zM347.7 304.4h.95v.8h-.95zM348.8 304.4h.95v.8h-.95zM347.4 304.4h.95v.8h-.95zM349.0 304.4h.95v.8h-.95zM348.1 304.4h.95v.8h-.95zM349.5 304.4h.95v.8h-.95zM348.3 305.1h.95v.8h-.95zM349.8 305.1h.95v.8h-.95zM348.2 305.9h.95v.8h-.95zM349.2 305.9h.95v.8h-.95zM348.2 306.6h.95v.8h-.95zM349.5 306.6h.95v.8h-.95zM347.0 306.6h.95v.8h-.95zM348.2 306.6h.95v.8h-.95zM349.5 306.6h.95v.8h-.95zM346.9 307.3h.95v.8h-.95zM348.4 307.3h.95v.8h-.95zM349.7 307.3h.95v.8h-.95zM347.4 307.3h.95v.8h-.95zM348.9 307.3h.95v.8h-.95zM348.0 308.0h.95v.8h-.95zM349.2 308.0h.95v.8h-.95zM347.9 308.0h.95v.8h-.95zM349.3 308.0h.95v.8h-.95zM348.0 308.0h.95v.8h-.95zM349.5 308.0h.95v.8h-.95zM347.0 308.7h.95v.8h-.95zM348.6 308.7h.95v.8h-.95zM349.7 308.7h.95v.8h-.95zM346.3 310.2h.95v.8h-.95zM347.5 310.2h.95v.8h-.95zM349.1 310.2h.95v.8h-.95zM348.1 310.2h.95v.8h-.95zM349.7 310.2h.95v.8h-.95zM347.3 310.9h.95v.8h-.95zM348.9 310.9h.95v.8h-.95zM347.6 310.9h.95v.8h-.95zM348.0 310.9h.95v.8h-.95zM349.0 310.9h.95v.8h-.95zM348.1 310.9h.95v.8h-.95zM349.5 310.9h.95v.8h-.95zM348.2 310.9h.95v.8h-.95zM349.3 310.9h.95v.8h-.95zM348.3 310.9h.95v.8h-.95zM349.4 310.9h.95v.8h-.95zM347.2 311.6h.95v.8h-.95zM348.4 311.6h.95v.8h-.95zM349.4 311.6h.95v.8h-.95zM347.6 311.6h.95v.8h-.95zM349.2 311.6h.95v.8h-.95zM348.1 311.6h.95v.8h-.95zM349.4 311.6h.95v.8h-.95zM346.9 311.6h.95v.8h-.95zM348.3 311.6h.95v.8h-.95zM349.6 311.6h.95v.8h-.95zM347.6 312.3h.95v.8h-.95zM348.2 312.3h.95v.8h-.95zM349.5 312.3h.95v.8h-.95zM347.8 312.3h.95v.8h-.95zM348.3 312.3h.95v.8h-.95zM349.4 312.3h.95v.8h-.95zM347.8 313.7h.95v.8h-.95zM349.0 313.7h.95v.8h-.95zM348.1 314.5h.95v.8h-.95zM349.5 314.5h.95v.8h-.95zM347.5 314.5h.95v.8h-.95zM348.8 314.5h.95v.8h-.95zM347.0 314.5h.95v.8h-.95zM348.5 314.5h.95v.8h-.95zM348.1 314.5h.95v.8h-.95zM349.5 314.5h.95v.8h-.95zM347.8 315.2h.95v.8h-.95zM349.1 315.2h.95v.8h-.95zM348.0 315.2h.95v.8h-.95zM349.3 315.2h.95v.8h-.95zM347.4 315.2h.95v.8h-.95zM348.7 315.2h.95v.8h-.95zM348.0 315.2h.95v.8h-.95zM349.4 315.2h.95v.8h-.95zM347.1 280.7h.95v.8h-.95zM345.4 280.7h.95v.8h-.95zM346.5 280.7h.95v.8h-.95zM345.7 281.4h.95v.8h-.95zM347.0 281.4h.95v.8h-.95zM341.0 287.9h.95v.8h-.95zM342.5 287.9h.95v.8h-.95zM343.5 290.1h.95v.8h-.95zM344.5 290.1h.95v.8h-.95zM346.1 290.1h.95v.8h-.95zM339.7 290.8h.95v.8h-.95zM341.2 290.8h.95v.8h-.95zM342.2 290.8h.95v.8h-.95zM344.6 298.7h.95v.8h-.95zM347.4 298.7h.95v.8h-.95zM340.0 308.0h.95v.8h-.95zM341.1 308.0h.95v.8h-.95zM342.5 308.0h.95v.8h-.95zM347.2 308.7h.95v.8h-.95zM346.4 310.2h.95v.8h-.95zM347.6 310.2h.95v.8h-.95zM345.6 317.0h.95v.8h-.95zM350.6 317.0h.95v.8h-.95zM353.1 317.0h.95v.8h-.95zM355.5 317.0h.95v.8h-.95zM357.0 317.0h.95v.8h-.95zM358.4 317.0h.95v.8h-.95zM348.6 318.1h.95v.8h-.95zM349.6 318.1h.95v.8h-.95zM352.0 318.1h.95v.8h-.95zM353.2 318.1h.95v.8h-.95zM354.3 318.1h.95v.8h-.95zM355.9 318.1h.95v.8h-.95zM354.5 315.9h.95v.8h-.95zM356.1 315.9h.95v.8h-.95zM357.5 315.9h.95v.8h-.95zM358.5 315.9h.95v.8h-.95zM357.9 316.6h.95v.8h-.95zM356.2 316.6h.95v.8h-.95zM357.2 316.6h.95v.8h-.95zM358.4 316.6h.95v.8h-.95zM359.6 316.6h.95v.8h-.95zM357.6 316.6h.95v.8h-.95zM359.2 316.6h.95v.8h-.95zM355.5 316.6h.95v.8h-.95zM356.5 316.6h.95v.8h-.95zM357.6 316.6h.95v.8h-.95zM359.0 316.6h.95v.8h-.95zM357.2 317.3h.95v.8h-.95zM358.6 317.3h.95v.8h-.95zM359.8 317.3h.95v.8h-.95zM356.1 317.3h.95v.8h-.95zM357.7 317.3h.95v.8h-.95zM358.9 317.3h.95v.8h-.95zM357.9 317.3h.95v.8h-.95zM359.4 317.3h.95v.8h-.95zM350.9 317.3h.95v.8h-.95zM352.4 317.3h.95v.8h-.95zM353.5 317.3h.95v.8h-.95zM354.5 317.3h.95v.8h-.95zM355.7 317.3h.95v.8h-.95zM358.4 317.3h.95v.8h-.95zM359.6 317.3h.95v.8h-.95zM352.7 318.1h.95v.8h-.95zM354.2 318.1h.95v.8h-.95zM355.3 318.1h.95v.8h-.95zM356.6 318.1h.95v.8h-.95zM358.1 318.1h.95v.8h-.95zM359.2 318.1h.95v.8h-.95zM358.6 318.1h.95v.8h-.95zM353.4 319.5h.95v.8h-.95zM354.8 319.5h.95v.8h-.95zM357.9 319.5h.95v.8h-.95zM359.0 319.5h.95v.8h-.95zM358.1 319.5h.95v.8h-.95zM359.6 319.5h.95v.8h-.95zM352.8 319.5h.95v.8h-.95zM353.9 319.5h.95v.8h-.95zM355.3 319.5h.95v.8h-.95zM356.9 319.5h.95v.8h-.95zM358.2 319.5h.95v.8h-.95zM359.5 319.5h.95v.8h-.95zM334.0 320.2h.95v.8h-.95zM338.1 324.5h.95v.8h-.95zM339.4 324.5h.95v.8h-.95zM331.8 328.1h.95v.8h-.95zM334.7 335.3h.95v.8h-.95zM332.7 339.6h.95v.8h-.95zM333.7 339.6h.95v.8h-.95zM334.3 340.3h.95v.8h-.95zM335.6 340.3h.95v.8h-.95zM341.0 344.6h.95v.8h-.95zM327.0 346.8h.95v.8h-.95zM332.9 347.5h.95v.8h-.95zM349.4 352.5h.95v.8h-.95zM334.5 353.2h.95v.8h-.95zM335.3 354.7h.95v.8h-.95zM332.0 355.4h.95v.8h-.95zM333.2 355.4h.95v.8h-.95zM341.4 369.0h.95v.8h-.95zM342.6 369.0h.95v.8h-.95zM334.4 369.7h.95v.8h-.95z"/>
<rect x="325.60" y="215.40" width="39.80" height="157.89" fill="none" stroke="#161616" stroke-width="1.2"/>
<line x1="321.60" y1="215.40" x2="325.60" y2="215.40" stroke="#161616" stroke-width="1.15"/>
<line x1="321.60" y1="229.75" x2="325.60" y2="229.75" stroke="#161616" stroke-width="1.15"/>
<line x1="321.60" y1="244.11" x2="325.60" y2="244.11" stroke="#161616" stroke-width="1.15"/>
<line x1="321.60" y1="258.46" x2="325.60" y2="258.46" stroke="#161616" stroke-width="1.15"/>
<line x1="321.60" y1="272.82" x2="325.60" y2="272.82" stroke="#161616" stroke-width="1.15"/>
<line x1="321.60" y1="287.17" x2="325.60" y2="287.17" stroke="#161616" stroke-width="1.15"/>
<line x1="321.60" y1="301.52" x2="325.60" y2="301.52" stroke="#161616" stroke-width="1.15"/>
<line x1="321.60" y1="315.88" x2="325.60" y2="315.88" stroke="#161616" stroke-width="1.15"/>
<line x1="321.60" y1="330.23" x2="325.60" y2="330.23" stroke="#161616" stroke-width="1.15"/>
<line x1="321.60" y1="344.59" x2="325.60" y2="344.59" stroke="#161616" stroke-width="1.15"/>
<line x1="321.60" y1="358.94" x2="325.60" y2="358.94" stroke="#161616" stroke-width="1.15"/>
<line x1="321.60" y1="373.29" x2="325.60" y2="373.29" stroke="#161616" stroke-width="1.15"/>
<line x1="325.60" y1="373.29" x2="325.60" y2="377.29" stroke="#161616" stroke-width="1.15"/>
<text x="325.60" y="389.60" font-size="9.8" text-anchor="middle" fill="#000" font-weight="normal">0</text>
<line x1="345.50" y1="373.29" x2="345.50" y2="377.29" stroke="#161616" stroke-width="1.15"/>
<text x="345.50" y="389.60" font-size="9.8" text-anchor="middle" fill="#000" font-weight="normal">200</text>
<line x1="365.40" y1="373.29" x2="365.40" y2="377.29" stroke="#161616" stroke-width="1.15"/>
<text x="365.40" y="389.60" font-size="9.8" text-anchor="middle" fill="#000" font-weight="normal">400</text>
<polygon points="367.20,315.88 372.80,313.08 371.30,315.88 372.80,318.68" fill="#000"/>
<text x="100.30" y="402.00" font-size="11.3" text-anchor="middle" fill="#000" font-weight="normal">VR Position (cm)</text>
<text x="210.40" y="402.00" font-size="11.3" text-anchor="middle" fill="#000" font-weight="normal">VR Position (cm)</text>
<text x="320.40" y="402.00" font-size="11.3" text-anchor="middle" fill="#000" font-weight="normal">VR Position (cm)</text>
<text x="21.00" y="294.30" font-size="11.3" text-anchor="middle" fill="#000" font-weight="normal" transform="rotate(-90 21.0 294.3)">Trials (n)</text>
<clipPath id="cp51453"><rect x="50.3" y="452.2" width="108.50000000000001" height="105.30000000000001"/></clipPath>
<g clip-path="url(#cp51453)">
<polyline points="56.14,477.99 75.50,467.66 94.87,461.46 114.23,457.33 133.60,454.23 152.96,454.23" fill="none" stroke="#1f77b4" stroke-width="1.1" stroke-linejoin="round"/>
<line x1="56.14" y1="483.16" x2="56.14" y2="472.83" stroke="#1f77b4" stroke-width="1.1"/>
<line x1="75.50" y1="471.79" x2="75.50" y2="463.53" stroke="#1f77b4" stroke-width="1.1"/>
<line x1="94.87" y1="464.56" x2="94.87" y2="458.37" stroke="#1f77b4" stroke-width="1.1"/>
<line x1="114.23" y1="459.40" x2="114.23" y2="455.27" stroke="#1f77b4" stroke-width="1.1"/>
<line x1="133.60" y1="455.27" x2="133.60" y2="453.20" stroke="#1f77b4" stroke-width="1.1"/>
<line x1="152.96" y1="455.27" x2="152.96" y2="453.20" stroke="#1f77b4" stroke-width="1.1"/>
<polyline points="56.14,471.79 75.50,464.56 94.87,460.43 114.23,455.27 133.60,453.72 152.96,454.23" fill="none" stroke="#2ca02c" stroke-width="1.1" stroke-linejoin="round"/>
<line x1="56.14" y1="475.93" x2="56.14" y2="467.66" stroke="#2ca02c" stroke-width="1.1"/>
<line x1="75.50" y1="467.66" x2="75.50" y2="461.46" stroke="#2ca02c" stroke-width="1.1"/>
<line x1="94.87" y1="462.50" x2="94.87" y2="458.37" stroke="#2ca02c" stroke-width="1.1"/>
<line x1="114.23" y1="456.30" x2="114.23" y2="454.23" stroke="#2ca02c" stroke-width="1.1"/>
<line x1="133.60" y1="454.23" x2="133.60" y2="453.20" stroke="#2ca02c" stroke-width="1.1"/>
<line x1="152.96" y1="455.27" x2="152.96" y2="453.20" stroke="#2ca02c" stroke-width="1.1"/>
<polyline points="56.14,497.62 75.50,476.96 94.87,470.76 114.23,463.53 133.60,475.93 152.96,471.79" fill="none" stroke="#ff7f0e" stroke-width="1.1" stroke-linejoin="round"/>
<line x1="56.14" y1="504.85" x2="56.14" y2="490.39" stroke="#ff7f0e" stroke-width="1.1"/>
<line x1="75.50" y1="484.19" x2="75.50" y2="469.73" stroke="#ff7f0e" stroke-width="1.1"/>
<line x1="94.87" y1="479.02" x2="94.87" y2="462.50" stroke="#ff7f0e" stroke-width="1.1"/>
<line x1="114.23" y1="465.60" x2="114.23" y2="461.46" stroke="#ff7f0e" stroke-width="1.1"/>
<line x1="133.60" y1="486.26" x2="133.60" y2="465.60" stroke="#ff7f0e" stroke-width="1.1"/>
<line x1="152.96" y1="479.02" x2="152.96" y2="464.56" stroke="#ff7f0e" stroke-width="1.1"/>
</g>
<rect x="51.30" y="453.20" width="106.50" height="103.30" fill="none" stroke="#161616" stroke-width="1.2"/>
<line x1="47.30" y1="556.50" x2="51.30" y2="556.50" stroke="#161616" stroke-width="1.15"/>
<text x="42.40" y="560.20" font-size="9.8" text-anchor="end" fill="#000" font-weight="normal">0.0</text>
<line x1="47.30" y1="535.84" x2="51.30" y2="535.84" stroke="#161616" stroke-width="1.15"/>
<text x="42.40" y="539.54" font-size="9.8" text-anchor="end" fill="#000" font-weight="normal">0.2</text>
<line x1="47.30" y1="515.18" x2="51.30" y2="515.18" stroke="#161616" stroke-width="1.15"/>
<text x="42.40" y="518.88" font-size="9.8" text-anchor="end" fill="#000" font-weight="normal">0.4</text>
<line x1="47.30" y1="494.52" x2="51.30" y2="494.52" stroke="#161616" stroke-width="1.15"/>
<text x="42.40" y="498.22" font-size="9.8" text-anchor="end" fill="#000" font-weight="normal">0.6</text>
<line x1="47.30" y1="473.86" x2="51.30" y2="473.86" stroke="#161616" stroke-width="1.15"/>
<text x="42.40" y="477.56" font-size="9.8" text-anchor="end" fill="#000" font-weight="normal">0.8</text>
<line x1="47.30" y1="453.20" x2="51.30" y2="453.20" stroke="#161616" stroke-width="1.15"/>
<text x="42.40" y="456.90" font-size="9.8" text-anchor="end" fill="#000" font-weight="normal">1.0</text>
<line x1="56.14" y1="556.50" x2="56.14" y2="560.50" stroke="#161616" stroke-width="1.15"/>
<text x="56.14" y="573.00" font-size="9.8" text-anchor="middle" fill="#000" font-weight="normal">1</text>
<line x1="75.50" y1="556.50" x2="75.50" y2="560.50" stroke="#161616" stroke-width="1.15"/>
<text x="75.50" y="573.00" font-size="9.8" text-anchor="middle" fill="#000" font-weight="normal">2</text>
<line x1="94.87" y1="556.50" x2="94.87" y2="560.50" stroke="#161616" stroke-width="1.15"/>
<text x="94.87" y="573.00" font-size="9.8" text-anchor="middle" fill="#000" font-weight="normal">3</text>
<line x1="114.23" y1="556.50" x2="114.23" y2="560.50" stroke="#161616" stroke-width="1.15"/>
<text x="114.23" y="573.00" font-size="9.8" text-anchor="middle" fill="#000" font-weight="normal">4</text>
<line x1="133.60" y1="556.50" x2="133.60" y2="560.50" stroke="#161616" stroke-width="1.15"/>
<text x="133.60" y="573.00" font-size="9.8" text-anchor="middle" fill="#000" font-weight="normal">5</text>
<line x1="152.96" y1="556.50" x2="152.96" y2="560.50" stroke="#161616" stroke-width="1.15"/>
<text x="152.96" y="573.00" font-size="9.8" text-anchor="middle" fill="#000" font-weight="normal">6</text>
<text x="104.55" y="446.50" font-size="12.2" text-anchor="middle" fill="#000" font-weight="normal">Blocks</text>
<text x="104.55" y="584.50" font-size="11.2" text-anchor="middle" fill="#000" font-weight="normal">Session</text>
<rect x="87.90" y="505.30" width="65.40" height="46.10" fill="#fff" stroke="#d8d8d8" stroke-width="0.8" rx="2" fill-opacity="0.85"/>
<line x1="91.70" y1="513.10" x2="112.70" y2="513.10" stroke="#1f77b4" stroke-width="1.1"/>
<line x1="102.20" y1="508.10" x2="102.20" y2="518.10" stroke="#1f77b4" stroke-width="1.1"/>
<text x="120.90" y="516.60" font-size="9.8" text-anchor="start" fill="#000" font-weight="normal">Young</text>
<line x1="91.70" y1="527.60" x2="112.70" y2="527.60" stroke="#2ca02c" stroke-width="1.1"/>
<line x1="102.20" y1="522.60" x2="102.20" y2="532.60" stroke="#2ca02c" stroke-width="1.1"/>
<text x="120.90" y="531.10" font-size="9.8" text-anchor="start" fill="#000" font-weight="normal">MA</text>
<line x1="91.70" y1="541.90" x2="112.70" y2="541.90" stroke="#ff7f0e" stroke-width="1.1"/>
<line x1="102.20" y1="536.90" x2="102.20" y2="546.90" stroke="#ff7f0e" stroke-width="1.1"/>
<text x="120.90" y="545.40" font-size="9.8" text-anchor="start" fill="#000" font-weight="normal">Aged</text>
<text x="21.40" y="512.00" font-size="11.3" text-anchor="middle" fill="#000" font-weight="normal" transform="rotate(-90 21.4 512.0)">Fraction Rewards Requested</text>
<clipPath id="cp212453"><rect x="211.9" y="452.2" width="108.49999999999997" height="105.30000000000001"/></clipPath>
<g clip-path="url(#cp212453)">
<polyline points="217.74,520.35 237.10,503.82 256.47,483.16 275.83,480.06 295.20,466.63 314.56,467.66" fill="none" stroke="#1f77b4" stroke-width="1.1" stroke-linejoin="round"/>
<line x1="217.74" y1="527.58" x2="217.74" y2="513.11" stroke="#1f77b4" stroke-width="1.1"/>
<line x1="237.10" y1="511.05" x2="237.10" y2="496.59" stroke="#1f77b4" stroke-width="1.1"/>
<line x1="256.47" y1="489.36" x2="256.47" y2="476.96" stroke="#1f77b4" stroke-width="1.1"/>
<line x1="275.83" y1="486.26" x2="275.83" y2="473.86" stroke="#1f77b4" stroke-width="1.1"/>
<line x1="295.20" y1="470.76" x2="295.20" y2="462.50" stroke="#1f77b4" stroke-width="1.1"/>
<line x1="314.56" y1="471.79" x2="314.56" y2="463.53" stroke="#1f77b4" stroke-width="1.1"/>
<polyline points="217.74,531.71 237.10,502.78 256.47,482.12 275.83,476.96 295.20,461.46 314.56,455.27" fill="none" stroke="#2ca02c" stroke-width="1.1" stroke-linejoin="round"/>
<line x1="217.74" y1="537.91" x2="217.74" y2="525.51" stroke="#2ca02c" stroke-width="1.1"/>
<line x1="237.10" y1="512.08" x2="237.10" y2="493.49" stroke="#2ca02c" stroke-width="1.1"/>
<line x1="256.47" y1="489.36" x2="256.47" y2="474.89" stroke="#2ca02c" stroke-width="1.1"/>
<line x1="275.83" y1="482.12" x2="275.83" y2="471.79" stroke="#2ca02c" stroke-width="1.1"/>
<line x1="295.20" y1="464.56" x2="295.20" y2="458.37" stroke="#2ca02c" stroke-width="1.1"/>
<line x1="314.56" y1="456.30" x2="314.56" y2="454.23" stroke="#2ca02c" stroke-width="1.1"/>
<polyline points="217.74,530.67 237.10,524.48 256.47,515.18 275.83,520.35 295.20,522.41 314.56,508.98" fill="none" stroke="#ff7f0e" stroke-width="1.1" stroke-linejoin="round"/>
<line x1="217.74" y1="538.94" x2="217.74" y2="522.41" stroke="#ff7f0e" stroke-width="1.1"/>
<line x1="237.10" y1="531.71" x2="237.10" y2="517.25" stroke="#ff7f0e" stroke-width="1.1"/>
<line x1="256.47" y1="521.38" x2="256.47" y2="508.98" stroke="#ff7f0e" stroke-width="1.1"/>
<line x1="275.83" y1="531.71" x2="275.83" y2="508.98" stroke="#ff7f0e" stroke-width="1.1"/>
<line x1="295.20" y1="532.74" x2="295.20" y2="512.08" stroke="#ff7f0e" stroke-width="1.1"/>
<line x1="314.56" y1="519.31" x2="314.56" y2="498.65" stroke="#ff7f0e" stroke-width="1.1"/>
</g>
<rect x="212.90" y="453.20" width="106.50" height="103.30" fill="none" stroke="#161616" stroke-width="1.2"/>
<line x1="208.90" y1="556.50" x2="212.90" y2="556.50" stroke="#161616" stroke-width="1.15"/>
<text x="204.00" y="560.20" font-size="9.8" text-anchor="end" fill="#000" font-weight="normal">0.0</text>
<line x1="208.90" y1="535.84" x2="212.90" y2="535.84" stroke="#161616" stroke-width="1.15"/>
<text x="204.00" y="539.54" font-size="9.8" text-anchor="end" fill="#000" font-weight="normal">0.2</text>
<line x1="208.90" y1="515.18" x2="212.90" y2="515.18" stroke="#161616" stroke-width="1.15"/>
<text x="204.00" y="518.88" font-size="9.8" text-anchor="end" fill="#000" font-weight="normal">0.4</text>
<line x1="208.90" y1="494.52" x2="212.90" y2="494.52" stroke="#161616" stroke-width="1.15"/>
<text x="204.00" y="498.22" font-size="9.8" text-anchor="end" fill="#000" font-weight="normal">0.6</text>
<line x1="208.90" y1="473.86" x2="212.90" y2="473.86" stroke="#161616" stroke-width="1.15"/>
<text x="204.00" y="477.56" font-size="9.8" text-anchor="end" fill="#000" font-weight="normal">0.8</text>
<line x1="208.90" y1="453.20" x2="212.90" y2="453.20" stroke="#161616" stroke-width="1.15"/>
<text x="204.00" y="456.90" font-size="9.8" text-anchor="end" fill="#000" font-weight="normal">1.0</text>
<line x1="217.74" y1="556.50" x2="217.74" y2="560.50" stroke="#161616" stroke-width="1.15"/>
<text x="217.74" y="573.00" font-size="9.8" text-anchor="middle" fill="#000" font-weight="normal">1</text>
<line x1="237.10" y1="556.50" x2="237.10" y2="560.50" stroke="#161616" stroke-width="1.15"/>
<text x="237.10" y="573.00" font-size="9.8" text-anchor="middle" fill="#000" font-weight="normal">2</text>
<line x1="256.47" y1="556.50" x2="256.47" y2="560.50" stroke="#161616" stroke-width="1.15"/>
<text x="256.47" y="573.00" font-size="9.8" text-anchor="middle" fill="#000" font-weight="normal">3</text>
<line x1="275.83" y1="556.50" x2="275.83" y2="560.50" stroke="#161616" stroke-width="1.15"/>
<text x="275.83" y="573.00" font-size="9.8" text-anchor="middle" fill="#000" font-weight="normal">4</text>
<line x1="295.20" y1="556.50" x2="295.20" y2="560.50" stroke="#161616" stroke-width="1.15"/>
<text x="295.20" y="573.00" font-size="9.8" text-anchor="middle" fill="#000" font-weight="normal">5</text>
<line x1="314.56" y1="556.50" x2="314.56" y2="560.50" stroke="#161616" stroke-width="1.15"/>
<text x="314.56" y="573.00" font-size="9.8" text-anchor="middle" fill="#000" font-weight="normal">6</text>
<text x="266.15" y="446.50" font-size="12.2" text-anchor="middle" fill="#000" font-weight="normal">Alternation</text>
<text x="266.15" y="584.50" font-size="11.2" text-anchor="middle" fill="#000" font-weight="normal">Session</text>
<text x="183.30" y="512.00" font-size="11.3" text-anchor="middle" fill="#000" font-weight="normal" transform="rotate(-90 183.3 512.0)">Fraction Rewards Requested</text>
<clipPath id="cp428242"><rect x="427.6" y="241.9" width="109.0" height="106.9"/></clipPath>
<g clip-path="url(#cp428242)">
<polyline points="433.46,280.66 452.92,278.57 472.37,258.63 491.83,261.78 511.28,253.39 530.74,242.90" fill="none" stroke="#1f77b4" stroke-width="1.1" stroke-linejoin="round"/>
<line x1="433.46" y1="289.06" x2="433.46" y2="272.27" stroke="#1f77b4" stroke-width="1.1"/>
<line x1="452.92" y1="288.01" x2="452.92" y2="269.12" stroke="#1f77b4" stroke-width="1.1"/>
<line x1="472.37" y1="263.88" x2="472.37" y2="253.39" stroke="#1f77b4" stroke-width="1.1"/>
<line x1="491.83" y1="269.12" x2="491.83" y2="254.44" stroke="#1f77b4" stroke-width="1.1"/>
<line x1="511.28" y1="259.68" x2="511.28" y2="247.10" stroke="#1f77b4" stroke-width="1.1"/>
<line x1="530.74" y1="243.42" x2="530.74" y2="242.38" stroke="#1f77b4" stroke-width="1.1"/>
<polyline points="433.46,290.11 452.92,275.42 472.37,259.68 491.83,268.08 511.28,248.15 530.74,251.29" fill="none" stroke="#ff7f0e" stroke-width="1.1" stroke-linejoin="round"/>
<line x1="433.46" y1="299.55" x2="433.46" y2="280.66" stroke="#ff7f0e" stroke-width="1.1"/>
<line x1="452.92" y1="284.86" x2="452.92" y2="265.98" stroke="#ff7f0e" stroke-width="1.1"/>
<line x1="472.37" y1="264.93" x2="472.37" y2="254.44" stroke="#ff7f0e" stroke-width="1.1"/>
<line x1="491.83" y1="277.52" x2="491.83" y2="258.63" stroke="#ff7f0e" stroke-width="1.1"/>
<line x1="511.28" y1="252.34" x2="511.28" y2="243.95" stroke="#ff7f0e" stroke-width="1.1"/>
<line x1="530.74" y1="254.44" x2="530.74" y2="248.14" stroke="#ff7f0e" stroke-width="1.1"/>
</g>
<rect x="428.60" y="242.90" width="107.00" height="104.90" fill="none" stroke="#161616" stroke-width="1.2"/>
<line x1="424.60" y1="347.80" x2="428.60" y2="347.80" stroke="#161616" stroke-width="1.15"/>
<text x="419.70" y="351.50" font-size="9.8" text-anchor="end" fill="#000" font-weight="normal">0.0</text>
<line x1="424.60" y1="326.82" x2="428.60" y2="326.82" stroke="#161616" stroke-width="1.15"/>
<text x="419.70" y="330.52" font-size="9.8" text-anchor="end" fill="#000" font-weight="normal">0.2</text>
<line x1="424.60" y1="305.84" x2="428.60" y2="305.84" stroke="#161616" stroke-width="1.15"/>
<text x="419.70" y="309.54" font-size="9.8" text-anchor="end" fill="#000" font-weight="normal">0.4</text>
<line x1="424.60" y1="284.86" x2="428.60" y2="284.86" stroke="#161616" stroke-width="1.15"/>
<text x="419.70" y="288.56" font-size="9.8" text-anchor="end" fill="#000" font-weight="normal">0.6</text>
<line x1="424.60" y1="263.88" x2="428.60" y2="263.88" stroke="#161616" stroke-width="1.15"/>
<text x="419.70" y="267.58" font-size="9.8" text-anchor="end" fill="#000" font-weight="normal">0.8</text>
<line x1="424.60" y1="242.90" x2="428.60" y2="242.90" stroke="#161616" stroke-width="1.15"/>
<text x="419.70" y="246.60" font-size="9.8" text-anchor="end" fill="#000" font-weight="normal">1.0</text>
<line x1="433.46" y1="347.80" x2="433.46" y2="351.80" stroke="#161616" stroke-width="1.15"/>
<text x="433.46" y="364.30" font-size="9.8" text-anchor="middle" fill="#000" font-weight="normal">1</text>
<line x1="452.92" y1="347.80" x2="452.92" y2="351.80" stroke="#161616" stroke-width="1.15"/>
<text x="452.92" y="364.30" font-size="9.8" text-anchor="middle" fill="#000" font-weight="normal">2</text>
<line x1="472.37" y1="347.80" x2="472.37" y2="351.80" stroke="#161616" stroke-width="1.15"/>
<text x="472.37" y="364.30" font-size="9.8" text-anchor="middle" fill="#000" font-weight="normal">3</text>
<line x1="491.83" y1="347.80" x2="491.83" y2="351.80" stroke="#161616" stroke-width="1.15"/>
<text x="491.83" y="364.30" font-size="9.8" text-anchor="middle" fill="#000" font-weight="normal">4</text>
<line x1="511.28" y1="347.80" x2="511.28" y2="351.80" stroke="#161616" stroke-width="1.15"/>
<text x="511.28" y="364.30" font-size="9.8" text-anchor="middle" fill="#000" font-weight="normal">5</text>
<line x1="530.74" y1="347.80" x2="530.74" y2="351.80" stroke="#161616" stroke-width="1.15"/>
<text x="530.74" y="364.30" font-size="9.8" text-anchor="middle" fill="#000" font-weight="normal">6</text>
<text x="482.10" y="236.20" font-size="12.2" text-anchor="middle" fill="#000" font-weight="normal">Random Foraging</text>
<text x="482.10" y="375.80" font-size="11.2" text-anchor="middle" fill="#000" font-weight="normal">Session</text>
<rect x="464.80" y="311.40" width="65.50" height="31.90" fill="#fff" stroke="#d8d8d8" stroke-width="0.8" rx="2" fill-opacity="0.85"/>
<line x1="468.60" y1="319.00" x2="489.60" y2="319.00" stroke="#1f77b4" stroke-width="1.1"/>
<line x1="479.10" y1="314.00" x2="479.10" y2="324.00" stroke="#1f77b4" stroke-width="1.1"/>
<text x="497.80" y="322.50" font-size="9.8" text-anchor="start" fill="#000" font-weight="normal">Young</text>
<line x1="468.60" y1="333.60" x2="489.60" y2="333.60" stroke="#ff7f0e" stroke-width="1.1"/>
<line x1="479.10" y1="328.60" x2="479.10" y2="338.60" stroke="#ff7f0e" stroke-width="1.1"/>
<text x="497.80" y="337.10" font-size="9.8" text-anchor="start" fill="#000" font-weight="normal">Aged</text>
<text x="400.80" y="295.60" font-size="11.3" text-anchor="middle" fill="#000" font-weight="normal" transform="rotate(-90 400.8 295.6)">Fraction Rewards Requested</text>
<clipPath id="cp590218"><rect x="589.2" y="217.7" width="87.29999999999995" height="73.0"/></clipPath>
<g clip-path="url(#cp590218)">
<polyline points="590.20,220.12 607.26,223.67 624.32,220.12 641.38,218.70 658.44,218.70 675.50,218.70" fill="none" stroke="#87bedc" stroke-width="1.0" stroke-linejoin="round"/>
<polyline points="590.20,225.09 607.26,276.21 624.32,228.64 641.38,241.42 658.44,220.12" fill="none" stroke="#b3d3e9" stroke-width="1.0" stroke-linejoin="round"/>
<polyline points="590.20,235.03 607.26,239.29 624.32,232.90 641.38,237.87 658.44,225.80 675.50,218.70" fill="none" stroke="#5aa3cf" stroke-width="1.0" stroke-linejoin="round"/>
<polyline points="590.20,249.94 607.26,253.49 624.32,248.52 641.38,264.14 658.44,254.20" fill="none" stroke="#9ec9e2" stroke-width="1.0" stroke-linejoin="round"/>
<polyline points="590.20,258.46 607.26,225.09 624.32,218.70 641.38,218.70 658.44,218.70 675.50,218.70" fill="none" stroke="#3f8dc4" stroke-width="1.0" stroke-linejoin="round"/>
<polyline points="590.20,263.43 607.26,254.91 624.32,222.96 641.38,218.70 658.44,218.70 675.50,218.70" fill="none" stroke="#4795c8" stroke-width="1.0" stroke-linejoin="round"/>
<polyline points="590.20,249.94 607.26,240.00 624.32,245.68 641.38,229.35 658.44,218.70 675.50,218.70" fill="none" stroke="#0f579e" stroke-width="1.0" stroke-linejoin="round"/>
<polyline points="590.20,254.20 607.26,225.80 624.32,218.70 641.38,221.54 658.44,225.80 675.50,218.70" fill="none" stroke="#206eb2" stroke-width="1.0" stroke-linejoin="round"/>
</g>
<rect x="590.20" y="218.70" width="85.30" height="71.00" fill="none" stroke="#161616" stroke-width="1.2"/>
<line x1="586.20" y1="289.70" x2="590.20" y2="289.70" stroke="#161616" stroke-width="1.15"/>
<text x="581.30" y="293.40" font-size="9.8" text-anchor="end" fill="#000" font-weight="normal">0.0</text>
<line x1="586.20" y1="254.20" x2="590.20" y2="254.20" stroke="#161616" stroke-width="1.15"/>
<text x="581.30" y="257.90" font-size="9.8" text-anchor="end" fill="#000" font-weight="normal">0.5</text>
<line x1="586.20" y1="218.70" x2="590.20" y2="218.70" stroke="#161616" stroke-width="1.15"/>
<text x="581.30" y="222.40" font-size="9.8" text-anchor="end" fill="#000" font-weight="normal">1.0</text>
<line x1="590.20" y1="289.70" x2="590.20" y2="293.70" stroke="#161616" stroke-width="1.15"/>
<line x1="607.26" y1="289.70" x2="607.26" y2="293.70" stroke="#161616" stroke-width="1.15"/>
<line x1="624.32" y1="289.70" x2="624.32" y2="293.70" stroke="#161616" stroke-width="1.15"/>
<line x1="641.38" y1="289.70" x2="641.38" y2="293.70" stroke="#161616" stroke-width="1.15"/>
<line x1="658.44" y1="289.70" x2="658.44" y2="293.70" stroke="#161616" stroke-width="1.15"/>
<line x1="675.50" y1="289.70" x2="675.50" y2="293.70" stroke="#161616" stroke-width="1.15"/>
<text x="632.85" y="212.00" font-size="12.2" text-anchor="middle" fill="#000" font-weight="normal">Random Foraging</text>
<clipPath id="cp590301"><rect x="589.2" y="300.9" width="87.29999999999995" height="72.70000000000005"/></clipPath>
<g clip-path="url(#cp590301)">
<polyline points="590.20,354.22 607.26,308.97 624.32,306.14 641.38,301.90 658.44,301.90 675.50,301.90" fill="none" stroke="#a53603" stroke-width="1.0" stroke-linejoin="round"/>
<polyline points="590.20,342.20 607.26,325.23 624.32,304.02 641.38,313.21 658.44,317.45 675.50,304.73" fill="none" stroke="#c84302" stroke-width="1.0" stroke-linejoin="round"/>
<polyline points="590.20,318.16 607.26,340.79 624.32,310.38 641.38,309.68 658.44,304.73 675.50,311.80" fill="none" stroke="#e75d0e" stroke-width="1.0" stroke-linejoin="round"/>
<polyline points="590.20,347.86 607.26,347.86 624.32,326.64 641.38,345.73 658.44,302.61 675.50,316.04" fill="none" stroke="#f57622" stroke-width="1.0" stroke-linejoin="round"/>
<polyline points="590.20,340.79 607.26,317.45 624.32,318.16 641.38,318.16 658.44,303.31 675.50,303.31" fill="none" stroke="#fd974b" stroke-width="1.0" stroke-linejoin="round"/>
<polyline points="590.20,328.77 607.26,323.82 624.32,320.99 641.38,316.04 658.44,304.02 675.50,301.90" fill="none" stroke="#fdb87c" stroke-width="1.0" stroke-linejoin="round"/>
<polyline points="590.20,333.71 607.26,319.57 624.32,305.44 641.38,301.90 658.44,304.02 675.50,314.63" fill="none" stroke="#fb8735" stroke-width="1.0" stroke-linejoin="round"/>
</g>
<rect x="590.20" y="301.90" width="85.30" height="70.70" fill="none" stroke="#161616" stroke-width="1.2"/>
<line x1="586.20" y1="372.60" x2="590.20" y2="372.60" stroke="#161616" stroke-width="1.15"/>
<text x="581.30" y="376.30" font-size="9.8" text-anchor="end" fill="#000" font-weight="normal">0.0</text>
<line x1="586.20" y1="337.25" x2="590.20" y2="337.25" stroke="#161616" stroke-width="1.15"/>
<text x="581.30" y="340.95" font-size="9.8" text-anchor="end" fill="#000" font-weight="normal">0.5</text>
<line x1="586.20" y1="301.90" x2="590.20" y2="301.90" stroke="#161616" stroke-width="1.15"/>
<text x="581.30" y="305.60" font-size="9.8" text-anchor="end" fill="#000" font-weight="normal">1.0</text>
<line x1="590.20" y1="372.60" x2="590.20" y2="376.60" stroke="#161616" stroke-width="1.15"/>
<text x="590.20" y="389.10" font-size="9.8" text-anchor="middle" fill="#000" font-weight="normal">1</text>
<line x1="607.26" y1="372.60" x2="607.26" y2="376.60" stroke="#161616" stroke-width="1.15"/>
<text x="607.26" y="389.10" font-size="9.8" text-anchor="middle" fill="#000" font-weight="normal">2</text>
<line x1="624.32" y1="372.60" x2="624.32" y2="376.60" stroke="#161616" stroke-width="1.15"/>
<text x="624.32" y="389.10" font-size="9.8" text-anchor="middle" fill="#000" font-weight="normal">3</text>
<line x1="641.38" y1="372.60" x2="641.38" y2="376.60" stroke="#161616" stroke-width="1.15"/>
<text x="641.38" y="389.10" font-size="9.8" text-anchor="middle" fill="#000" font-weight="normal">4</text>
<line x1="658.44" y1="372.60" x2="658.44" y2="376.60" stroke="#161616" stroke-width="1.15"/>
<text x="658.44" y="389.10" font-size="9.8" text-anchor="middle" fill="#000" font-weight="normal">5</text>
<line x1="675.50" y1="372.60" x2="675.50" y2="376.60" stroke="#161616" stroke-width="1.15"/>
<text x="675.50" y="389.10" font-size="9.8" text-anchor="middle" fill="#000" font-weight="normal">6</text>
<text x="632.85" y="400.60" font-size="11.2" text-anchor="middle" fill="#000" font-weight="normal">Session</text>
<text x="559.30" y="295.50" font-size="11.3" text-anchor="middle" fill="#000" font-weight="normal" transform="rotate(-90 559.3 295.5)">Fraction Rewards Requested</text>
<clipPath id="cp390428"><rect x="389.8" y="427.3" width="85.0" height="71.69999999999999"/></clipPath>
<g clip-path="url(#cp390428)">
<polyline points="390.80,468.03 407.40,433.18 424.00,433.18 440.60,429.00 457.20,429.00 473.80,429.00" fill="none" stroke="#2e7ebb" stroke-width="1.0" stroke-linejoin="round"/>
<polyline points="390.80,455.48 407.40,449.21 424.00,433.18 440.60,429.00 457.20,428.30 473.80,428.30" fill="none" stroke="#145fa6" stroke-width="1.0" stroke-linejoin="round"/>
<polyline points="390.80,439.80 407.40,444.33 424.00,433.18 440.60,429.00 457.20,428.30 473.80,428.30" fill="none" stroke="#4795c8" stroke-width="1.0" stroke-linejoin="round"/>
<polyline points="390.80,433.88 407.40,440.85 424.00,443.63 440.60,429.00 457.20,428.30 473.80,428.30" fill="none" stroke="#3f8dc4" stroke-width="1.0" stroke-linejoin="round"/>
<polyline points="390.80,432.48 407.40,431.79 424.00,431.09 440.60,431.09 457.20,429.69 473.80,429.69" fill="none" stroke="#7bb7d9" stroke-width="1.0" stroke-linejoin="round"/>
<polyline points="390.80,435.97 407.40,437.36 424.00,433.18 440.60,439.80 457.20,429.69 473.80,429.00" fill="none" stroke="#5aa3cf" stroke-width="1.0" stroke-linejoin="round"/>
<polyline points="390.80,435.27 407.40,436.66 424.00,435.27 440.60,433.18 457.20,429.69 473.80,429.00" fill="none" stroke="#9ec9e2" stroke-width="1.0" stroke-linejoin="round"/>
<polyline points="390.80,461.76 407.40,442.24 424.00,435.27 440.60,430.39 457.20,429.00 473.80,429.00" fill="none" stroke="#94c4df" stroke-width="1.0" stroke-linejoin="round"/>
</g>
<rect x="390.80" y="428.30" width="83.00" height="69.70" fill="none" stroke="#161616" stroke-width="1.2"/>
<line x1="386.80" y1="498.00" x2="390.80" y2="498.00" stroke="#161616" stroke-width="1.15"/>
<text x="381.90" y="501.70" font-size="9.8" text-anchor="end" fill="#000" font-weight="normal">0.0</text>
<line x1="386.80" y1="463.15" x2="390.80" y2="463.15" stroke="#161616" stroke-width="1.15"/>
<text x="381.90" y="466.85" font-size="9.8" text-anchor="end" fill="#000" font-weight="normal">0.5</text>
<line x1="386.80" y1="428.30" x2="390.80" y2="428.30" stroke="#161616" stroke-width="1.15"/>
<text x="381.90" y="432.00" font-size="9.8" text-anchor="end" fill="#000" font-weight="normal">1.0</text>
<line x1="390.80" y1="498.00" x2="390.80" y2="502.00" stroke="#161616" stroke-width="1.15"/>
<line x1="407.40" y1="498.00" x2="407.40" y2="502.00" stroke="#161616" stroke-width="1.15"/>
<line x1="424.00" y1="498.00" x2="424.00" y2="502.00" stroke="#161616" stroke-width="1.15"/>
<line x1="440.60" y1="498.00" x2="440.60" y2="502.00" stroke="#161616" stroke-width="1.15"/>
<line x1="457.20" y1="498.00" x2="457.20" y2="502.00" stroke="#161616" stroke-width="1.15"/>
<line x1="473.80" y1="498.00" x2="473.80" y2="502.00" stroke="#161616" stroke-width="1.15"/>
<clipPath id="cp390525"><rect x="389.8" y="524.1" width="85.0" height="72.29999999999995"/></clipPath>
<g clip-path="url(#cp390525)">
<polyline points="390.80,587.93 407.40,583.41 424.00,580.84 440.60,588.57 457.20,562.15 473.80,556.35" fill="none" stroke="#145fa6" stroke-width="1.0" stroke-linejoin="round"/>
<polyline points="390.80,535.73 407.40,537.02 424.00,534.44 440.60,531.22 457.20,529.93 473.80,529.93" fill="none" stroke="#b3d3e9" stroke-width="1.0" stroke-linejoin="round"/>
<polyline points="390.80,567.31 407.40,547.33 424.00,536.38 440.60,529.61 457.20,528.00 473.80,528.00" fill="none" stroke="#1967ad" stroke-width="1.0" stroke-linejoin="round"/>
<polyline points="390.80,568.59 407.40,554.74 424.00,542.82 440.60,533.15 457.20,530.90 473.80,532.19" fill="none" stroke="#2776b7" stroke-width="1.0" stroke-linejoin="round"/>
<polyline points="390.80,569.24 407.40,580.52 424.00,540.89 440.60,548.62 457.20,536.38 473.80,530.25" fill="none" stroke="#3f8dc4" stroke-width="1.0" stroke-linejoin="round"/>
<polyline points="390.80,560.22 407.40,551.84 424.00,541.53 440.60,540.24 457.20,532.51 473.80,547.97" fill="none" stroke="#5aa3cf" stroke-width="1.0" stroke-linejoin="round"/>
<polyline points="390.80,575.04 407.40,573.75 424.00,546.04 440.60,544.75 457.20,531.87 473.80,533.80" fill="none" stroke="#6eb0d7" stroke-width="1.0" stroke-linejoin="round"/>
<polyline points="390.80,586.64 407.40,562.80 424.00,546.69 440.60,549.91 457.20,540.24 473.80,540.89" fill="none" stroke="#87bedc" stroke-width="1.0" stroke-linejoin="round"/>
<polyline points="390.80,585.35 407.40,551.84 424.00,550.55 440.60,550.55 457.20,533.80 473.80,537.67" fill="none" stroke="#94c4df" stroke-width="1.0" stroke-linejoin="round"/>
</g>
<rect x="390.80" y="525.10" width="83.00" height="70.30" fill="none" stroke="#161616" stroke-width="1.2"/>
<line x1="386.80" y1="592.44" x2="390.80" y2="592.44" stroke="#161616" stroke-width="1.15"/>
<text x="381.90" y="596.14" font-size="9.8" text-anchor="end" fill="#000" font-weight="normal">0.0</text>
<line x1="386.80" y1="560.22" x2="390.80" y2="560.22" stroke="#161616" stroke-width="1.15"/>
<text x="381.90" y="563.92" font-size="9.8" text-anchor="end" fill="#000" font-weight="normal">0.5</text>
<line x1="386.80" y1="528.00" x2="390.80" y2="528.00" stroke="#161616" stroke-width="1.15"/>
<text x="381.90" y="531.70" font-size="9.8" text-anchor="end" fill="#000" font-weight="normal">1.0</text>
<line x1="390.80" y1="595.40" x2="390.80" y2="599.40" stroke="#161616" stroke-width="1.15"/>
<text x="390.80" y="611.90" font-size="9.8" text-anchor="middle" fill="#000" font-weight="normal">1</text>
<line x1="407.40" y1="595.40" x2="407.40" y2="599.40" stroke="#161616" stroke-width="1.15"/>
<text x="407.40" y="611.90" font-size="9.8" text-anchor="middle" fill="#000" font-weight="normal">2</text>
<line x1="424.00" y1="595.40" x2="424.00" y2="599.40" stroke="#161616" stroke-width="1.15"/>
<text x="424.00" y="611.90" font-size="9.8" text-anchor="middle" fill="#000" font-weight="normal">3</text>
<line x1="440.60" y1="595.40" x2="440.60" y2="599.40" stroke="#161616" stroke-width="1.15"/>
<text x="440.60" y="611.90" font-size="9.8" text-anchor="middle" fill="#000" font-weight="normal">4</text>
<line x1="457.20" y1="595.40" x2="457.20" y2="599.40" stroke="#161616" stroke-width="1.15"/>
<text x="457.20" y="611.90" font-size="9.8" text-anchor="middle" fill="#000" font-weight="normal">5</text>
<line x1="473.80" y1="595.40" x2="473.80" y2="599.40" stroke="#161616" stroke-width="1.15"/>
<text x="473.80" y="611.90" font-size="9.8" text-anchor="middle" fill="#000" font-weight="normal">6</text>
<text x="432.30" y="623.40" font-size="11.2" text-anchor="middle" fill="#000" font-weight="normal">Session</text>
<clipPath id="cp491428"><rect x="490.0" y="427.3" width="85.0" height="71.69999999999999"/></clipPath>
<g clip-path="url(#cp491428)">
<polyline points="491.00,446.42 507.60,451.30 524.20,440.50 540.80,431.09 557.40,429.00 574.00,429.00" fill="none" stroke="#0a7232" stroke-width="1.0" stroke-linejoin="round"/>
<polyline points="491.00,431.79 507.60,438.41 524.20,437.71 540.80,431.79 557.40,429.00 574.00,431.79" fill="none" stroke="#1f8943" stroke-width="1.0" stroke-linejoin="round"/>
<polyline points="491.00,442.24 507.60,430.39 524.20,429.69 540.80,429.00 557.40,428.30 574.00,429.00" fill="none" stroke="#40a65a" stroke-width="1.0" stroke-linejoin="round"/>
<polyline points="491.00,456.88 507.60,439.80 524.20,430.39 540.80,429.00 557.40,428.30 574.00,429.00" fill="none" stroke="#abdda6" stroke-width="1.0" stroke-linejoin="round"/>
<polyline points="491.00,437.01 507.60,439.80 524.20,432.48 540.80,430.39 557.40,429.00 574.00,429.69" fill="none" stroke="#82cb82" stroke-width="1.0" stroke-linejoin="round"/>
<polyline points="491.00,434.57 507.60,429.69 524.20,429.00 540.80,428.30 557.40,428.30 574.00,429.69" fill="none" stroke="#53b466" stroke-width="1.0" stroke-linejoin="round"/>
<polyline points="491.00,444.33 507.60,434.57 524.20,431.79 540.80,429.69 557.40,429.00 574.00,429.00" fill="none" stroke="#6bc072" stroke-width="1.0" stroke-linejoin="round"/>
</g>
<rect x="491.00" y="428.30" width="83.00" height="69.70" fill="none" stroke="#161616" stroke-width="1.2"/>
<line x1="487.00" y1="498.00" x2="491.00" y2="498.00" stroke="#161616" stroke-width="1.15"/>
<line x1="487.00" y1="463.15" x2="491.00" y2="463.15" stroke="#161616" stroke-width="1.15"/>
<line x1="487.00" y1="428.30" x2="491.00" y2="428.30" stroke="#161616" stroke-width="1.15"/>
<line x1="491.00" y1="498.00" x2="491.00" y2="502.00" stroke="#161616" stroke-width="1.15"/>
<line x1="507.60" y1="498.00" x2="507.60" y2="502.00" stroke="#161616" stroke-width="1.15"/>
<line x1="524.20" y1="498.00" x2="524.20" y2="502.00" stroke="#161616" stroke-width="1.15"/>
<line x1="540.80" y1="498.00" x2="540.80" y2="502.00" stroke="#161616" stroke-width="1.15"/>
<line x1="557.40" y1="498.00" x2="557.40" y2="502.00" stroke="#161616" stroke-width="1.15"/>
<line x1="574.00" y1="498.00" x2="574.00" y2="502.00" stroke="#161616" stroke-width="1.15"/>
<text x="532.50" y="421.60" font-size="12.2" text-anchor="middle" fill="#000" font-weight="normal">Blocks</text>
<clipPath id="cp491525"><rect x="490.0" y="524.1" width="85.0" height="72.29999999999995"/></clipPath>
<g clip-path="url(#cp491525)">
<polyline points="491.00,560.22 507.60,537.02 524.20,528.00 540.80,528.00 557.40,528.00 574.00,528.00" fill="none" stroke="#b5e2af" stroke-width="1.0" stroke-linejoin="round"/>
<polyline points="491.00,561.51 507.60,569.88 524.20,563.44 540.80,555.71 557.40,540.24 574.00,533.15" fill="none" stroke="#48ad60" stroke-width="1.0" stroke-linejoin="round"/>
<polyline points="491.00,582.77 507.60,558.93 524.20,543.46 540.80,544.11 557.40,529.61 574.00,528.00" fill="none" stroke="#117a37" stroke-width="1.0" stroke-linejoin="round"/>
<polyline points="491.00,581.48 507.60,572.46 524.20,545.40 540.80,534.44 557.40,530.25 574.00,528.97" fill="none" stroke="#1f8943" stroke-width="1.0" stroke-linejoin="round"/>
<polyline points="491.00,585.35 507.60,540.89 524.20,552.49" fill="none" stroke="#40a65a" stroke-width="1.0" stroke-linejoin="round"/>
<polyline points="491.00,547.97 507.60,585.35 524.20,546.69 540.80,547.97 557.40,544.11 574.00,533.80" fill="none" stroke="#5fba6c" stroke-width="1.0" stroke-linejoin="round"/>
<polyline points="491.00,585.99 507.60,584.70 524.20,561.51 540.80,540.24 557.40,533.80 574.00,531.22" fill="none" stroke="#77c579" stroke-width="1.0" stroke-linejoin="round"/>
<polyline points="491.00,560.22 507.60,547.97 524.20,558.93 540.80,562.80" fill="none" stroke="#8dd08b" stroke-width="1.0" stroke-linejoin="round"/>
<polyline points="491.00,557.00 507.60,546.04 524.20,530.25 540.80,546.69 557.40,533.15 574.00,529.93" fill="none" stroke="#a2d99d" stroke-width="1.0" stroke-linejoin="round"/>
</g>
<rect x="491.00" y="525.10" width="83.00" height="70.30" fill="none" stroke="#161616" stroke-width="1.2"/>
<line x1="487.00" y1="592.44" x2="491.00" y2="592.44" stroke="#161616" stroke-width="1.15"/>
<line x1="487.00" y1="560.22" x2="491.00" y2="560.22" stroke="#161616" stroke-width="1.15"/>
<line x1="487.00" y1="528.00" x2="491.00" y2="528.00" stroke="#161616" stroke-width="1.15"/>
<line x1="491.00" y1="595.40" x2="491.00" y2="599.40" stroke="#161616" stroke-width="1.15"/>
<text x="491.00" y="611.90" font-size="9.8" text-anchor="middle" fill="#000" font-weight="normal">1</text>
<line x1="507.60" y1="595.40" x2="507.60" y2="599.40" stroke="#161616" stroke-width="1.15"/>
<text x="507.60" y="611.90" font-size="9.8" text-anchor="middle" fill="#000" font-weight="normal">2</text>
<line x1="524.20" y1="595.40" x2="524.20" y2="599.40" stroke="#161616" stroke-width="1.15"/>
<text x="524.20" y="611.90" font-size="9.8" text-anchor="middle" fill="#000" font-weight="normal">3</text>
<line x1="540.80" y1="595.40" x2="540.80" y2="599.40" stroke="#161616" stroke-width="1.15"/>
<text x="540.80" y="611.90" font-size="9.8" text-anchor="middle" fill="#000" font-weight="normal">4</text>
<line x1="557.40" y1="595.40" x2="557.40" y2="599.40" stroke="#161616" stroke-width="1.15"/>
<text x="557.40" y="611.90" font-size="9.8" text-anchor="middle" fill="#000" font-weight="normal">5</text>
<line x1="574.00" y1="595.40" x2="574.00" y2="599.40" stroke="#161616" stroke-width="1.15"/>
<text x="574.00" y="611.90" font-size="9.8" text-anchor="middle" fill="#000" font-weight="normal">6</text>
<text x="532.50" y="518.40" font-size="12.2" text-anchor="middle" fill="#000" font-weight="normal">Alternation</text>
<text x="532.50" y="623.40" font-size="11.2" text-anchor="middle" fill="#000" font-weight="normal">Session</text>
<clipPath id="cp591428"><rect x="590.2" y="427.3" width="84.89999999999998" height="71.69999999999999"/></clipPath>
<g clip-path="url(#cp591428)">
<polyline points="591.20,439.45 607.78,434.57 624.36,429.69 640.94,433.88 657.52,451.30 674.10,440.15" fill="none" stroke="#a53603" stroke-width="1.0" stroke-linejoin="round"/>
<polyline points="591.20,469.42 607.78,453.39 624.36,438.06 640.94,433.88 657.52,429.69 674.10,428.30" fill="none" stroke="#bd3e02" stroke-width="1.0" stroke-linejoin="round"/>
<polyline points="591.20,452.69 607.78,442.94 624.36,429.69 640.94,435.27 657.52,445.73 674.10,463.15" fill="none" stroke="#d04904" stroke-width="1.0" stroke-linejoin="round"/>
<polyline points="591.20,445.73 607.78,432.48 624.36,429.00 640.94,431.79 657.52,429.69 674.10,429.00" fill="none" stroke="#ed6514" stroke-width="1.0" stroke-linejoin="round"/>
<polyline points="591.20,440.15 607.78,436.66 624.36,436.66 640.94,439.45 657.52,441.54 674.10,429.00" fill="none" stroke="#f57622" stroke-width="1.0" stroke-linejoin="round"/>
<polyline points="591.20,460.36 607.78,433.88 624.36,454.09" fill="none" stroke="#fd8f3f" stroke-width="1.0" stroke-linejoin="round"/>
<polyline points="591.20,441.54 607.78,445.73 624.36,429.69 640.94,432.48 657.52,491.38 674.10,445.73" fill="none" stroke="#f87e2b" stroke-width="1.0" stroke-linejoin="round"/>
<polyline points="591.20,489.64 607.78,484.06 624.36,483.36" fill="none" stroke="#fdc088" stroke-width="1.0" stroke-linejoin="round"/>
<polyline points="591.20,468.03 607.78,452.69 624.36,433.88 640.94,431.09 657.52,429.69 674.10,429.00" fill="none" stroke="#e25508" stroke-width="1.0" stroke-linejoin="round"/>
<polyline points="591.20,448.51 607.78,435.27 624.36,429.69 640.94,434.57 657.52,429.69 674.10,461.76" fill="none" stroke="#f26d19" stroke-width="1.0" stroke-linejoin="round"/>
</g>
<rect x="591.20" y="428.30" width="82.90" height="69.70" fill="none" stroke="#161616" stroke-width="1.2"/>
<line x1="587.20" y1="498.00" x2="591.20" y2="498.00" stroke="#161616" stroke-width="1.15"/>
<line x1="587.20" y1="463.15" x2="591.20" y2="463.15" stroke="#161616" stroke-width="1.15"/>
<line x1="587.20" y1="428.30" x2="591.20" y2="428.30" stroke="#161616" stroke-width="1.15"/>
<line x1="591.20" y1="498.00" x2="591.20" y2="502.00" stroke="#161616" stroke-width="1.15"/>
<line x1="607.78" y1="498.00" x2="607.78" y2="502.00" stroke="#161616" stroke-width="1.15"/>
<line x1="624.36" y1="498.00" x2="624.36" y2="502.00" stroke="#161616" stroke-width="1.15"/>
<line x1="640.94" y1="498.00" x2="640.94" y2="502.00" stroke="#161616" stroke-width="1.15"/>
<line x1="657.52" y1="498.00" x2="657.52" y2="502.00" stroke="#161616" stroke-width="1.15"/>
<line x1="674.10" y1="498.00" x2="674.10" y2="502.00" stroke="#161616" stroke-width="1.15"/>
<clipPath id="cp591525"><rect x="590.2" y="524.1" width="84.89999999999998" height="72.29999999999995"/></clipPath>
<g clip-path="url(#cp591525)">
<polyline points="591.20,541.53 607.78,542.82 624.36,552.49 640.94,533.15 657.52,533.80 674.10,535.09" fill="none" stroke="#a53603" stroke-width="1.0" stroke-linejoin="round"/>
<polyline points="591.20,563.44 607.78,568.59 624.36,570.53 640.94,541.53 657.52,579.23 674.10,532.51" fill="none" stroke="#c84302" stroke-width="1.0" stroke-linejoin="round"/>
<polyline points="591.20,553.77 607.78,555.39 624.36,552.49 640.94,571.17 657.52,569.24 674.10,566.02" fill="none" stroke="#ed6514" stroke-width="1.0" stroke-linejoin="round"/>
<polyline points="591.20,569.24 607.78,569.24 624.36,558.93 640.94,578.26 657.52,582.13 674.10,579.87" fill="none" stroke="#d94f06" stroke-width="1.0" stroke-linejoin="round"/>
<polyline points="591.20,585.35 607.78,580.52 624.36,558.28 640.94,578.26 657.52,582.13 674.10,579.87" fill="none" stroke="#bd3e02" stroke-width="1.0" stroke-linejoin="round"/>
<polyline points="591.20,591.79 607.78,590.50 624.36,576.33 640.94,590.50 657.52,554.74 674.10,574.39" fill="none" stroke="#f57622" stroke-width="1.0" stroke-linejoin="round"/>
<polyline points="591.20,589.21 607.78,582.77 624.36,589.21 640.94,591.15 657.52,590.50 674.10,585.35" fill="none" stroke="#fd974b" stroke-width="1.0" stroke-linejoin="round"/>
<polyline points="591.20,587.93 607.78,569.24 624.36,554.74 640.94,583.41 657.52,589.86 674.10,565.37" fill="none" stroke="#fb8735" stroke-width="1.0" stroke-linejoin="round"/>
<polyline points="591.20,590.50 607.78,581.48 624.36,583.41" fill="none" stroke="#fdb87c" stroke-width="1.0" stroke-linejoin="round"/>
<polyline points="591.20,569.24 607.78,569.24 624.36,570.53 640.94,571.82 657.52,572.46 674.10,567.95" fill="none" stroke="#fda762" stroke-width="1.0" stroke-linejoin="round"/>
</g>
<rect x="591.20" y="525.10" width="82.90" height="70.30" fill="none" stroke="#161616" stroke-width="1.2"/>
<line x1="587.20" y1="592.44" x2="591.20" y2="592.44" stroke="#161616" stroke-width="1.15"/>
<line x1="587.20" y1="560.22" x2="591.20" y2="560.22" stroke="#161616" stroke-width="1.15"/>
<line x1="587.20" y1="528.00" x2="591.20" y2="528.00" stroke="#161616" stroke-width="1.15"/>
<line x1="591.20" y1="595.40" x2="591.20" y2="599.40" stroke="#161616" stroke-width="1.15"/>
<text x="591.20" y="611.90" font-size="9.8" text-anchor="middle" fill="#000" font-weight="normal">1</text>
<line x1="607.78" y1="595.40" x2="607.78" y2="599.40" stroke="#161616" stroke-width="1.15"/>
<text x="607.78" y="611.90" font-size="9.8" text-anchor="middle" fill="#000" font-weight="normal">2</text>
<line x1="624.36" y1="595.40" x2="624.36" y2="599.40" stroke="#161616" stroke-width="1.15"/>
<text x="624.36" y="611.90" font-size="9.8" text-anchor="middle" fill="#000" font-weight="normal">3</text>
<line x1="640.94" y1="595.40" x2="640.94" y2="599.40" stroke="#161616" stroke-width="1.15"/>
<text x="640.94" y="611.90" font-size="9.8" text-anchor="middle" fill="#000" font-weight="normal">4</text>
<line x1="657.52" y1="595.40" x2="657.52" y2="599.40" stroke="#161616" stroke-width="1.15"/>
<text x="657.52" y="611.90" font-size="9.8" text-anchor="middle" fill="#000" font-weight="normal">5</text>
<line x1="674.10" y1="595.40" x2="674.10" y2="599.40" stroke="#161616" stroke-width="1.15"/>
<text x="674.10" y="611.90" font-size="9.8" text-anchor="middle" fill="#000" font-weight="normal">6</text>
<text x="632.65" y="623.40" font-size="11.2" text-anchor="middle" fill="#000" font-weight="normal">Session</text>
<text x="359.50" y="511.60" font-size="11.3" text-anchor="middle" fill="#000" font-weight="normal" transform="rotate(-90 359.5 511.6)">Fraction Rewards Requested</text>
</svg></body></html>
